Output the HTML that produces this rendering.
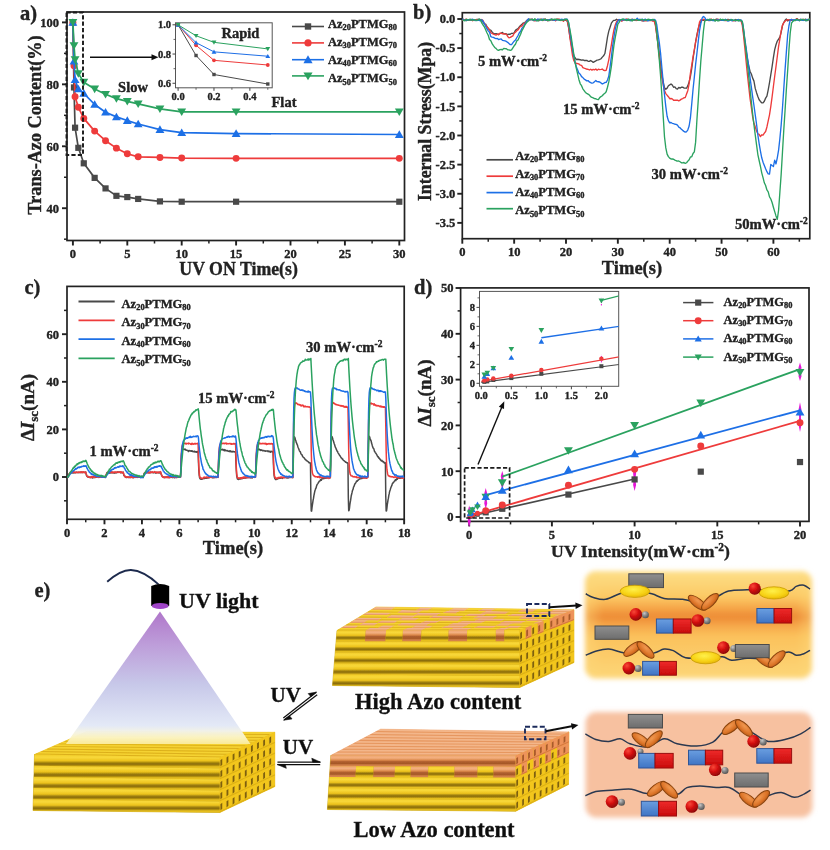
<!DOCTYPE html>
<html><head><meta charset="utf-8"><title>Figure</title>
<style>html,body{margin:0;padding:0;background:#fff}svg{display:block}text{font-family:"Liberation Serif",serif;font-weight:bold;stroke:#1c1c1c;stroke-width:.35px}</style>
</head><body>
<svg width="830" height="850" viewBox="0 0 830 850">
<defs><filter id="gblur" x="0" y="0" width="100%" height="100%" filterUnits="userSpaceOnUse"><feGaussianBlur stdDeviation="0.5"/></filter></defs>
<rect width="830" height="850" fill="#fff"/>
<g filter="url(#gblur)">
<rect x="67" y="12" width="337.5" height="228.5" fill="#fff" stroke="#222" stroke-width="1.7"/>
<line x1="62" y1="208.22" x2="67" y2="208.22" stroke="#222" stroke-width="1.9" />
<text x="59" y="212.52" font-size="12.5" text-anchor="end" fill="#222" >40</text>
<line x1="62" y1="146.28" x2="67" y2="146.28" stroke="#222" stroke-width="1.9" />
<text x="59" y="150.58" font-size="12.5" text-anchor="end" fill="#222" >60</text>
<line x1="62" y1="84.34" x2="67" y2="84.34" stroke="#222" stroke-width="1.9" />
<text x="59" y="88.64" font-size="12.5" text-anchor="end" fill="#222" >80</text>
<line x1="62" y1="22.4" x2="67" y2="22.4" stroke="#222" stroke-width="1.9" />
<text x="59" y="26.7" font-size="12.5" text-anchor="end" fill="#222" >100</text>
<line x1="64" y1="239.19" x2="67" y2="239.19" stroke="#222" stroke-width="1.5" />
<line x1="64" y1="177.25" x2="67" y2="177.25" stroke="#222" stroke-width="1.5" />
<line x1="64" y1="115.31" x2="67" y2="115.31" stroke="#222" stroke-width="1.5" />
<line x1="64" y1="53.37" x2="67" y2="53.37" stroke="#222" stroke-width="1.5" />
<line x1="72.9" y1="240.5" x2="72.9" y2="245.5" stroke="#222" stroke-width="1.9" />
<text x="72.9" y="257.7" font-size="12.5" text-anchor="middle" fill="#222" >0</text>
<line x1="127.3" y1="240.5" x2="127.3" y2="245.5" stroke="#222" stroke-width="1.9" />
<text x="127.3" y="257.7" font-size="12.5" text-anchor="middle" fill="#222" >5</text>
<line x1="181.7" y1="240.5" x2="181.7" y2="245.5" stroke="#222" stroke-width="1.9" />
<text x="181.7" y="257.7" font-size="12.5" text-anchor="middle" fill="#222" >10</text>
<line x1="236.1" y1="240.5" x2="236.1" y2="245.5" stroke="#222" stroke-width="1.9" />
<text x="236.1" y="257.7" font-size="12.5" text-anchor="middle" fill="#222" >15</text>
<line x1="290.5" y1="240.5" x2="290.5" y2="245.5" stroke="#222" stroke-width="1.9" />
<text x="290.5" y="257.7" font-size="12.5" text-anchor="middle" fill="#222" >20</text>
<line x1="344.9" y1="240.5" x2="344.9" y2="245.5" stroke="#222" stroke-width="1.9" />
<text x="344.9" y="257.7" font-size="12.5" text-anchor="middle" fill="#222" >25</text>
<line x1="399.3" y1="240.5" x2="399.3" y2="245.5" stroke="#222" stroke-width="1.9" />
<text x="399.3" y="257.7" font-size="12.5" text-anchor="middle" fill="#222" >30</text>
<line x1="100.1" y1="240.5" x2="100.1" y2="243.5" stroke="#222" stroke-width="1.5" />
<line x1="154.5" y1="240.5" x2="154.5" y2="243.5" stroke="#222" stroke-width="1.5" />
<line x1="208.9" y1="240.5" x2="208.9" y2="243.5" stroke="#222" stroke-width="1.5" />
<line x1="263.3" y1="240.5" x2="263.3" y2="243.5" stroke="#222" stroke-width="1.5" />
<line x1="317.7" y1="240.5" x2="317.7" y2="243.5" stroke="#222" stroke-width="1.5" />
<line x1="372.1" y1="240.5" x2="372.1" y2="243.5" stroke="#222" stroke-width="1.5" />
<text x="238.6" y="274.6" font-size="17.8" text-anchor="middle" fill="#222" >UV ON Time(s)</text>
<text transform="translate(40.5,125) rotate(-90)" font-size="18.2" text-anchor="middle" fill="#222">Trans-Azo Content(%)</text>
<text x="20" y="20" font-size="20.5" text-anchor="start" fill="#222" >a)</text>
<path d="M72.9 22.4 L73.99 87.44 L75.08 127.7 L78.34 147.83 L83.78 163.31 L94.66 177.87 L105.54 188.4 L116.42 195.83 L127.3 197.07 L138.18 198.93 L159.94 201.41 L181.7 201.72 L236.1 201.72 L399.3 201.72" fill="none" stroke="#4a4a4a" stroke-width="1.7" stroke-linejoin="round" stroke-linecap="round" />
<rect x="69.8" y="19.3" width="6.2" height="6.2" fill="#4a4a4a"/>
<rect x="70.89" y="84.34" width="6.2" height="6.2" fill="#4a4a4a"/>
<rect x="71.98" y="124.6" width="6.2" height="6.2" fill="#4a4a4a"/>
<rect x="75.24" y="144.73" width="6.2" height="6.2" fill="#4a4a4a"/>
<rect x="80.68" y="160.21" width="6.2" height="6.2" fill="#4a4a4a"/>
<rect x="91.56" y="174.77" width="6.2" height="6.2" fill="#4a4a4a"/>
<rect x="102.44" y="185.3" width="6.2" height="6.2" fill="#4a4a4a"/>
<rect x="113.32" y="192.73" width="6.2" height="6.2" fill="#4a4a4a"/>
<rect x="124.2" y="193.97" width="6.2" height="6.2" fill="#4a4a4a"/>
<rect x="135.08" y="195.83" width="6.2" height="6.2" fill="#4a4a4a"/>
<rect x="156.84" y="198.31" width="6.2" height="6.2" fill="#4a4a4a"/>
<rect x="178.6" y="198.62" width="6.2" height="6.2" fill="#4a4a4a"/>
<rect x="233" y="198.62" width="6.2" height="6.2" fill="#4a4a4a"/>
<rect x="396.2" y="198.62" width="6.2" height="6.2" fill="#4a4a4a"/>
<path d="M72.9 22.4 L73.99 65.76 L75.08 96.73 L78.34 107.26 L83.78 118.41 L94.66 131.1 L105.54 140.71 L116.42 148.14 L127.3 153.71 L138.18 156.81 L159.94 157.43 L181.7 158.05 L236.1 158.36 L399.3 158.36" fill="none" stroke="#ee3b3b" stroke-width="1.7" stroke-linejoin="round" stroke-linecap="round" />
<circle cx="72.9" cy="22.4" r="3.47" fill="#ee3b3b"/>
<circle cx="73.99" cy="65.76" r="3.47" fill="#ee3b3b"/>
<circle cx="75.08" cy="96.73" r="3.47" fill="#ee3b3b"/>
<circle cx="78.34" cy="107.26" r="3.47" fill="#ee3b3b"/>
<circle cx="83.78" cy="118.41" r="3.47" fill="#ee3b3b"/>
<circle cx="94.66" cy="131.1" r="3.47" fill="#ee3b3b"/>
<circle cx="105.54" cy="140.71" r="3.47" fill="#ee3b3b"/>
<circle cx="116.42" cy="148.14" r="3.47" fill="#ee3b3b"/>
<circle cx="127.3" cy="153.71" r="3.47" fill="#ee3b3b"/>
<circle cx="138.18" cy="156.81" r="3.47" fill="#ee3b3b"/>
<circle cx="159.94" cy="157.43" r="3.47" fill="#ee3b3b"/>
<circle cx="181.7" cy="158.05" r="3.47" fill="#ee3b3b"/>
<circle cx="236.1" cy="158.36" r="3.47" fill="#ee3b3b"/>
<circle cx="399.3" cy="158.36" r="3.47" fill="#ee3b3b"/>
<path d="M72.9 22.4 L73.99 61.11 L75.08 79.69 L78.34 88.99 L83.78 93.32 L94.66 104.47 L105.54 112.21 L116.42 116.86 L127.3 120.57 L138.18 123.98 L159.94 129.56 L181.7 132.65 L236.1 133.58 L399.3 134.51" fill="none" stroke="#1f6fe6" stroke-width="1.7" stroke-linejoin="round" stroke-linecap="round" />
<path d="M72.9 18.18 L77.33 25.77 L68.47 25.77Z" fill="#1f6fe6"/>
<path d="M73.99 56.9 L78.41 64.49 L69.56 64.49Z" fill="#1f6fe6"/>
<path d="M75.08 75.48 L79.5 83.07 L70.65 83.07Z" fill="#1f6fe6"/>
<path d="M78.34 84.77 L82.77 92.36 L73.91 92.36Z" fill="#1f6fe6"/>
<path d="M83.78 89.11 L88.21 96.69 L79.35 96.69Z" fill="#1f6fe6"/>
<path d="M94.66 100.25 L99.09 107.84 L90.23 107.84Z" fill="#1f6fe6"/>
<path d="M105.54 108 L109.97 115.59 L101.11 115.59Z" fill="#1f6fe6"/>
<path d="M116.42 112.64 L120.85 120.23 L111.99 120.23Z" fill="#1f6fe6"/>
<path d="M127.3 116.36 L131.73 123.95 L122.87 123.95Z" fill="#1f6fe6"/>
<path d="M138.18 119.77 L142.61 127.35 L133.75 127.35Z" fill="#1f6fe6"/>
<path d="M159.94 125.34 L164.37 132.93 L155.51 132.93Z" fill="#1f6fe6"/>
<path d="M181.7 128.44 L186.13 136.03 L177.27 136.03Z" fill="#1f6fe6"/>
<path d="M236.1 129.37 L240.53 136.96 L231.67 136.96Z" fill="#1f6fe6"/>
<path d="M399.3 130.3 L403.73 137.88 L394.87 137.88Z" fill="#1f6fe6"/>
<path d="M72.9 22.4 L73.99 45.63 L75.08 59.56 L78.34 73.5 L83.78 82.17 L94.66 88.99 L105.54 94.25 L116.42 98.59 L127.3 101.37 L138.18 103.85 L159.94 108.81 L181.7 111.9 L236.1 111.9 L399.3 111.9" fill="none" stroke="#2ba25f" stroke-width="1.7" stroke-linejoin="round" stroke-linecap="round" />
<path d="M72.9 26.62 L77.33 19.03 L68.47 19.03Z" fill="#2ba25f"/>
<path d="M73.99 49.84 L78.41 42.25 L69.56 42.25Z" fill="#2ba25f"/>
<path d="M75.08 63.78 L79.5 56.19 L70.65 56.19Z" fill="#2ba25f"/>
<path d="M78.34 77.72 L82.77 70.13 L73.91 70.13Z" fill="#2ba25f"/>
<path d="M83.78 86.39 L88.21 78.8 L79.35 78.8Z" fill="#2ba25f"/>
<path d="M94.66 93.2 L99.09 85.61 L90.23 85.61Z" fill="#2ba25f"/>
<path d="M105.54 98.47 L109.97 90.88 L101.11 90.88Z" fill="#2ba25f"/>
<path d="M116.42 102.8 L120.85 95.21 L111.99 95.21Z" fill="#2ba25f"/>
<path d="M127.3 105.59 L131.73 98 L122.87 98Z" fill="#2ba25f"/>
<path d="M138.18 108.07 L142.61 100.48 L133.75 100.48Z" fill="#2ba25f"/>
<path d="M159.94 113.02 L164.37 105.43 L155.51 105.43Z" fill="#2ba25f"/>
<path d="M181.7 116.12 L186.13 108.53 L177.27 108.53Z" fill="#2ba25f"/>
<path d="M236.1 116.12 L240.53 108.53 L231.67 108.53Z" fill="#2ba25f"/>
<path d="M399.3 116.12 L403.73 108.53 L394.87 108.53Z" fill="#2ba25f"/>
<rect x="66.5" y="12.5" width="16.5" height="142.5" fill="none" stroke="#1a1a1a" stroke-width="1.9" stroke-dasharray="4.2 2.2"/>
<line x1="90" y1="57.2" x2="154" y2="57.2" stroke="#111" stroke-width="1.5" />
<path d="M158.5 57.2 L151.5 54.2 L151.5 60.2Z" fill="#111"/>
<text x="133" y="92" font-size="14.5" text-anchor="middle" fill="#222" >Slow</text>
<text x="284" y="107" font-size="14.5" text-anchor="middle" fill="#222" >Flat</text>
<rect x="175.5" y="22.8" width="96.69999999999999" height="65.0" fill="#fff" stroke="#555" stroke-width="1"/>
<line x1="172.5" y1="24.8" x2="175.5" y2="24.8" stroke="#444" stroke-width="1" />
<text x="171" y="28.4" font-size="10.5" text-anchor="end" fill="#222" >1.0</text>
<line x1="172.5" y1="54.04" x2="175.5" y2="54.04" stroke="#444" stroke-width="1" />
<text x="171" y="57.64" font-size="10.5" text-anchor="end" fill="#222" >0.8</text>
<line x1="172.5" y1="83.28" x2="175.5" y2="83.28" stroke="#444" stroke-width="1" />
<text x="171" y="86.88" font-size="10.5" text-anchor="end" fill="#222" >0.6</text>
<line x1="178.1" y1="87.8" x2="178.1" y2="90.8" stroke="#444" stroke-width="1" />
<text x="178.1" y="100.3" font-size="10.5" text-anchor="middle" fill="#222" >0.0</text>
<line x1="213.98" y1="87.8" x2="213.98" y2="90.8" stroke="#444" stroke-width="1" />
<text x="213.98" y="100.3" font-size="10.5" text-anchor="middle" fill="#222" >0.2</text>
<line x1="249.86" y1="87.8" x2="249.86" y2="90.8" stroke="#444" stroke-width="1" />
<text x="249.86" y="100.3" font-size="10.5" text-anchor="middle" fill="#222" >0.4</text>
<line x1="196.04" y1="87.8" x2="196.04" y2="89.8" stroke="#444" stroke-width="0.8" />
<line x1="231.92" y1="87.8" x2="231.92" y2="89.8" stroke="#444" stroke-width="0.8" />
<line x1="267.8" y1="87.8" x2="267.8" y2="89.8" stroke="#444" stroke-width="0.8" />
<line x1="173.5" y1="68.66" x2="175.5" y2="68.66" stroke="#444" stroke-width="0.8" />
<line x1="173.5" y1="39.42" x2="175.5" y2="39.42" stroke="#444" stroke-width="0.8" />
<path d="M178.1 24.8 L196.04 55.5 L213.98 74.51 L267.8 84.01" fill="none" stroke="#4a4a4a" stroke-width="1.0" stroke-linejoin="round" stroke-linecap="round" />
<rect x="176.4" y="23.1" width="3.4" height="3.4" fill="#4a4a4a"/>
<rect x="194.34" y="53.8" width="3.4" height="3.4" fill="#4a4a4a"/>
<rect x="212.28" y="72.81" width="3.4" height="3.4" fill="#4a4a4a"/>
<rect x="266.1" y="82.31" width="3.4" height="3.4" fill="#4a4a4a"/>
<path d="M178.1 24.8 L196.04 45.27 L213.98 60.33 L267.8 65" fill="none" stroke="#ee3b3b" stroke-width="1.0" stroke-linejoin="round" stroke-linecap="round" />
<circle cx="178.1" cy="24.8" r="1.9" fill="#ee3b3b"/>
<circle cx="196.04" cy="45.27" r="1.9" fill="#ee3b3b"/>
<circle cx="213.98" cy="60.33" r="1.9" fill="#ee3b3b"/>
<circle cx="267.8" cy="65" r="1.9" fill="#ee3b3b"/>
<path d="M178.1 24.8 L196.04 42.64 L213.98 51.85 L267.8 56.23" fill="none" stroke="#1f6fe6" stroke-width="1.0" stroke-linejoin="round" stroke-linecap="round" />
<path d="M178.1 22.49 L180.53 26.65 L175.67 26.65Z" fill="#1f6fe6"/>
<path d="M196.04 40.32 L198.47 44.49 L193.61 44.49Z" fill="#1f6fe6"/>
<path d="M213.98 49.54 L216.41 53.7 L211.55 53.7Z" fill="#1f6fe6"/>
<path d="M267.8 53.92 L270.23 58.08 L265.37 58.08Z" fill="#1f6fe6"/>
<path d="M178.1 24.8 L196.04 35.76 L213.98 42.34 L267.8 48.92" fill="none" stroke="#2ba25f" stroke-width="1.0" stroke-linejoin="round" stroke-linecap="round" />
<path d="M178.1 27.11 L180.53 22.95 L175.67 22.95Z" fill="#2ba25f"/>
<path d="M196.04 38.08 L198.47 33.92 L193.61 33.92Z" fill="#2ba25f"/>
<path d="M213.98 44.66 L216.41 40.49 L211.55 40.49Z" fill="#2ba25f"/>
<path d="M267.8 51.23 L270.23 47.07 L265.37 47.07Z" fill="#2ba25f"/>
<text x="240.5" y="38.3" font-size="14.5" text-anchor="middle" fill="#222" >Rapid</text>
<line x1="292" y1="26.5" x2="324" y2="26.5" stroke="#4a4a4a" stroke-width="1.6" />
<rect x="304.8" y="23.3" width="6.4" height="6.4" fill="#4a4a4a"/>
<text x="328" y="27.9" font-size="12.5" fill="#222">Az<tspan font-size="8.4" dy="2.5">20</tspan><tspan dy="-2.5">PTMG</tspan><tspan font-size="8.4" dy="2.5">80</tspan></text>
<line x1="292" y1="42.9" x2="324" y2="42.9" stroke="#ee3b3b" stroke-width="1.6" />
<circle cx="308" cy="42.9" r="3.58" fill="#ee3b3b"/>
<text x="328" y="45.6" font-size="12.5" fill="#222">Az<tspan font-size="8.4" dy="2.5">30</tspan><tspan dy="-2.5">PTMG</tspan><tspan font-size="8.4" dy="2.5">70</tspan></text>
<line x1="292" y1="59.7" x2="324" y2="59.7" stroke="#1f6fe6" stroke-width="1.6" />
<path d="M308 55.35 L312.57 63.18 L303.43 63.18Z" fill="#1f6fe6"/>
<text x="328" y="63.8" font-size="12.5" fill="#222">Az<tspan font-size="8.4" dy="2.5">40</tspan><tspan dy="-2.5">PTMG</tspan><tspan font-size="8.4" dy="2.5">60</tspan></text>
<line x1="292" y1="75.9" x2="324" y2="75.9" stroke="#2ba25f" stroke-width="1.6" />
<path d="M308 80.25 L312.57 72.42 L303.43 72.42Z" fill="#2ba25f"/>
<text x="328" y="82.4" font-size="12.5" fill="#222">Az<tspan font-size="8.4" dy="2.5">50</tspan><tspan dy="-2.5">PTMG</tspan><tspan font-size="8.4" dy="2.5">50</tspan></text>
<rect x="462.3" y="12.7" width="347.49999999999994" height="226.0" fill="#fff" stroke="#222" stroke-width="1.7"/>
<line x1="457.3" y1="19" x2="462.3" y2="19" stroke="#222" stroke-width="1.9" />
<text x="455.3" y="23.2" font-size="12.5" text-anchor="end" fill="#222" >0.0</text>
<line x1="459.3" y1="33.56" x2="462.3" y2="33.56" stroke="#222" stroke-width="1.5" />
<line x1="457.3" y1="48.12" x2="462.3" y2="48.12" stroke="#222" stroke-width="1.9" />
<text x="455.3" y="52.33" font-size="12.5" text-anchor="end" fill="#222" >-0.5</text>
<line x1="459.3" y1="62.69" x2="462.3" y2="62.69" stroke="#222" stroke-width="1.5" />
<line x1="457.3" y1="77.25" x2="462.3" y2="77.25" stroke="#222" stroke-width="1.9" />
<text x="455.3" y="81.45" font-size="12.5" text-anchor="end" fill="#222" >-1.0</text>
<line x1="459.3" y1="91.81" x2="462.3" y2="91.81" stroke="#222" stroke-width="1.5" />
<line x1="457.3" y1="106.38" x2="462.3" y2="106.38" stroke="#222" stroke-width="1.9" />
<text x="455.3" y="110.58" font-size="12.5" text-anchor="end" fill="#222" >-1.5</text>
<line x1="459.3" y1="120.94" x2="462.3" y2="120.94" stroke="#222" stroke-width="1.5" />
<line x1="457.3" y1="135.5" x2="462.3" y2="135.5" stroke="#222" stroke-width="1.9" />
<text x="455.3" y="139.7" font-size="12.5" text-anchor="end" fill="#222" >-2.0</text>
<line x1="459.3" y1="150.06" x2="462.3" y2="150.06" stroke="#222" stroke-width="1.5" />
<line x1="457.3" y1="164.62" x2="462.3" y2="164.62" stroke="#222" stroke-width="1.9" />
<text x="455.3" y="168.82" font-size="12.5" text-anchor="end" fill="#222" >-2.5</text>
<line x1="459.3" y1="179.19" x2="462.3" y2="179.19" stroke="#222" stroke-width="1.5" />
<line x1="457.3" y1="193.75" x2="462.3" y2="193.75" stroke="#222" stroke-width="1.9" />
<text x="455.3" y="197.95" font-size="12.5" text-anchor="end" fill="#222" >-3.0</text>
<line x1="459.3" y1="208.31" x2="462.3" y2="208.31" stroke="#222" stroke-width="1.5" />
<line x1="457.3" y1="222.88" x2="462.3" y2="222.88" stroke="#222" stroke-width="1.9" />
<text x="455.3" y="227.07" font-size="12.5" text-anchor="end" fill="#222" >-3.5</text>
<line x1="462.3" y1="238.7" x2="462.3" y2="243.7" stroke="#222" stroke-width="1.9" />
<text x="462.3" y="255.9" font-size="12.5" text-anchor="middle" fill="#222" >0</text>
<line x1="488.23" y1="238.7" x2="488.23" y2="241.7" stroke="#222" stroke-width="1.5" />
<line x1="514.15" y1="238.7" x2="514.15" y2="243.7" stroke="#222" stroke-width="1.9" />
<text x="514.15" y="255.9" font-size="12.5" text-anchor="middle" fill="#222" >10</text>
<line x1="540.08" y1="238.7" x2="540.08" y2="241.7" stroke="#222" stroke-width="1.5" />
<line x1="566" y1="238.7" x2="566" y2="243.7" stroke="#222" stroke-width="1.9" />
<text x="566" y="255.9" font-size="12.5" text-anchor="middle" fill="#222" >20</text>
<line x1="591.92" y1="238.7" x2="591.92" y2="241.7" stroke="#222" stroke-width="1.5" />
<line x1="617.85" y1="238.7" x2="617.85" y2="243.7" stroke="#222" stroke-width="1.9" />
<text x="617.85" y="255.9" font-size="12.5" text-anchor="middle" fill="#222" >30</text>
<line x1="643.77" y1="238.7" x2="643.77" y2="241.7" stroke="#222" stroke-width="1.5" />
<line x1="669.7" y1="238.7" x2="669.7" y2="243.7" stroke="#222" stroke-width="1.9" />
<text x="669.7" y="255.9" font-size="12.5" text-anchor="middle" fill="#222" >40</text>
<line x1="695.62" y1="238.7" x2="695.62" y2="241.7" stroke="#222" stroke-width="1.5" />
<line x1="721.55" y1="238.7" x2="721.55" y2="243.7" stroke="#222" stroke-width="1.9" />
<text x="721.55" y="255.9" font-size="12.5" text-anchor="middle" fill="#222" >50</text>
<line x1="747.47" y1="238.7" x2="747.47" y2="241.7" stroke="#222" stroke-width="1.5" />
<line x1="773.4" y1="238.7" x2="773.4" y2="243.7" stroke="#222" stroke-width="1.9" />
<text x="773.4" y="255.9" font-size="12.5" text-anchor="middle" fill="#222" >60</text>
<line x1="799.33" y1="238.7" x2="799.33" y2="241.7" stroke="#222" stroke-width="1.5" />
<text x="632" y="274" font-size="18.5" text-anchor="middle" fill="#222" >Time(s)</text>
<text transform="translate(430.5,121.5) rotate(-90)" font-size="17.8" text-anchor="middle" fill="#222">Internal Stress(Mpa)</text>
<text x="413" y="19" font-size="20.5" text-anchor="start" fill="#222" >b)</text>
<clipPath id="cb"><rect x="462.3" y="8.7" width="347.49999999999994" height="230.0"/></clipPath><g clip-path="url(#cb)">
<path d="M462.3 19.04 L463.6 19.67 L464.89 19.83 L466.19 20.74 L467.49 20 L468.78 20.04 L470.08 19.91 L471.37 20.17 L472.67 19.89 L473.97 20.1 L475.26 20.49 L476.56 19.46 L477.86 19.46 L479.15 19.08 L480.45 19.92 L481.74 20.79 L483.04 22.02 L484.34 23.88 L485.63 24.08 L486.93 26.58 L488.23 28.43 L489.52 29.71 L490.82 30.25 L492.11 31.85 L493.41 33.38 L494.71 33.92 L496 33.56 L497.3 33.89 L498.6 34.06 L499.89 33.67 L501.19 33.08 L502.48 32.39 L503.78 33.85 L505.08 33.61 L506.37 33.8 L507.67 34.69 L508.97 34.13 L510.26 34.29 L511.56 33.33 L512.85 33.44 L514.15 32.94 L515.45 30.35 L516.74 29.3 L518.04 28.67 L519.34 26.81 L520.63 25.48 L521.93 24.38 L523.22 22.94 L524.52 23.17 L525.82 21.42 L527.11 20.1 L528.41 19.67 L529.71 19.36 L531 19.35 L532.3 19.18 L533.59 20.39 L534.89 19.48 L536.19 20.74 L537.48 20.15 L538.78 20.77 L540.08 19.39 L541.37 19.25 L542.67 19.97 L543.96 19.05 L545.26 20.19 L546.56 19.8 L547.85 19.8 L549.15 20.37 L550.45 19.67 L551.74 18.97 L553.04 20.35 L554.33 19.45 L555.63 19.95 L556.93 19.05 L558.22 19.65 L559.52 19.56 L560.82 19.57 L562.11 19.76 L563.41 20.52 L564.7 19.23 L566 20.51 L567.3 21.18 L568.59 27.66 L569.89 36.37 L571.18 43.34 L572.48 50.83 L573.78 56 L575.07 57.75 L576.37 59.6 L577.67 59.27 L578.96 59.47 L580.26 59.75 L581.56 60.21 L582.85 59.82 L584.15 60.47 L585.44 60.47 L586.74 60.33 L588.04 61.33 L589.33 61.4 L590.63 60.54 L591.92 61.35 L593.22 62.41 L594.52 61.66 L595.81 60.94 L597.11 60.05 L598.41 59.87 L599.7 59.45 L601 58.77 L602.29 57.13 L603.59 55.85 L604.89 53.54 L606.18 45.71 L607.48 37.13 L608.78 31.11 L610.07 27.18 L611.37 23.19 L612.66 21.28 L613.96 20.33 L615.26 20.32 L616.55 19.25 L617.85 20.19 L619.15 19.68 L620.44 20.23 L621.74 20.7 L623.03 19.79 L624.33 19.77 L625.63 19.95 L626.92 19.79 L628.22 20.24 L629.52 20.29 L630.81 20.04 L632.11 19.09 L633.4 19.62 L634.7 20.26 L636 19.78 L637.29 20.28 L638.59 20.29 L639.89 19.7 L641.18 20.37 L642.48 20.94 L643.77 20.61 L645.07 20.17 L646.37 20.18 L647.66 19.7 L648.96 20.64 L650.26 20 L651.55 20.18 L652.85 20.49 L654.14 20.07 L655.44 24.28 L656.74 34.22 L658.03 43.74 L659.33 54.72 L660.63 65.33 L661.92 75.2 L663.22 81.79 L664.51 87.78 L665.81 89.17 L667.11 88.12 L668.4 85.71 L669.7 84.86 L671 83.95 L672.29 85.08 L673.59 87.23 L674.88 86.88 L676.18 88.63 L677.48 89.09 L678.77 87.37 L680.07 88.16 L681.37 87.28 L682.66 87.12 L683.96 88.04 L685.25 88.15 L686.55 88.2 L687.85 85.64 L689.14 81.87 L690.44 76.44 L691.74 68.31 L693.03 58.73 L694.33 50.24 L695.62 41.99 L696.92 34.79 L698.22 28.98 L699.51 24.45 L700.81 21.9 L702.11 20.32 L703.4 20.35 L704.7 19.75 L706 19.58 L707.29 20.15 L708.59 20.17 L709.88 20.62 L711.18 19.97 L712.48 19.8 L713.77 19.72 L715.07 20.3 L716.37 19.03 L717.66 19.41 L718.96 20.03 L720.25 20.25 L721.55 20.17 L722.85 19.97 L724.14 20.07 L725.44 19.86 L726.74 19.75 L728.03 19.49 L729.33 19.62 L730.62 20.24 L731.92 20.03 L733.22 20.42 L734.51 20.55 L735.81 19.42 L737.11 20.55 L738.4 19.45 L739.7 20.57 L740.99 20.33 L742.29 22.83 L743.59 32.28 L744.88 42.47 L746.18 50.93 L747.47 59.07 L748.77 66.09 L750.07 71.49 L751.36 74.07 L752.66 78.14 L753.96 81.11 L755.25 88.42 L756.55 92.66 L757.85 96.5 L759.14 99.73 L760.44 101.43 L761.73 102.83 L763.03 102.93 L764.33 101.25 L765.62 98.12 L766.92 96.17 L768.21 89.84 L769.51 82.68 L770.81 74.7 L772.1 66.55 L773.4 57.55 L774.7 49.59 L775.99 44.78 L777.29 41.04 L778.59 39.18 L779.88 37.05 L781.18 32.14 L782.47 25.51 L783.77 22.5 L785.07 20.33 L786.36 19.07 L787.66 20.97 L788.95 20.14 L790.25 19.75 L791.55 20.3 L792.84 19.95 L794.14 20.17 L795.44 20.18 L796.73 18.61 L798.03 19.58 L799.33 19.9 L800.62 19.26 L801.92 19.98 L803.21 19.46 L804.51 19.71 L805.81 19.12 L807.1 20.54 L808.4 19.52 L809.69 19.82" fill="none" stroke="#4a4a4a" stroke-width="1.35" stroke-linejoin="round" stroke-linecap="round" />
<path d="M462.3 20.41 L463.6 19.38 L464.89 20.28 L466.19 19.12 L467.49 19.63 L468.78 19.55 L470.08 19.84 L471.37 19.45 L472.67 20.74 L473.97 19.84 L475.26 20.17 L476.56 19.74 L477.86 19.9 L479.15 19.59 L480.45 20.26 L481.74 19.52 L483.04 20.56 L484.34 23.42 L485.63 25.07 L486.93 26.59 L488.23 28.17 L489.52 29.9 L490.82 32.88 L492.11 33.38 L493.41 34.2 L494.71 34.69 L496 35.18 L497.3 34.23 L498.6 34.75 L499.89 33.22 L501.19 33.19 L502.48 33.85 L503.78 33.75 L505.08 34.01 L506.37 34.15 L507.67 36.45 L508.97 37.74 L510.26 37.35 L511.56 36.56 L512.85 35.83 L514.15 33.22 L515.45 32.27 L516.74 30.76 L518.04 29.86 L519.34 27.89 L520.63 26.4 L521.93 26.05 L523.22 23.74 L524.52 23.58 L525.82 21.68 L527.11 21.43 L528.41 19.17 L529.71 19.72 L531 19.47 L532.3 19.45 L533.59 20.49 L534.89 20.94 L536.19 20.03 L537.48 19.46 L538.78 19.83 L540.08 19.51 L541.37 19.44 L542.67 20.57 L543.96 19.74 L545.26 18.96 L546.56 20.14 L547.85 20.82 L549.15 19.98 L550.45 20.09 L551.74 19.68 L553.04 20.29 L554.33 19.83 L555.63 20.91 L556.93 19.48 L558.22 19.13 L559.52 19.27 L560.82 20.58 L562.11 19.73 L563.41 21.26 L564.7 19.74 L566 19.9 L567.3 20.57 L568.59 26.6 L569.89 37.48 L571.18 46.1 L572.48 55.37 L573.78 60.54 L575.07 62.81 L576.37 63.27 L577.67 63.61 L578.96 64.01 L580.26 65.12 L581.56 65.47 L582.85 67.61 L584.15 68.2 L585.44 68.6 L586.74 69.21 L588.04 69.21 L589.33 69.98 L590.63 69.24 L591.92 70.12 L593.22 69.41 L594.52 69.83 L595.81 68.98 L597.11 70.19 L598.41 69.19 L599.7 69.59 L601 69.34 L602.29 69.05 L603.59 70.32 L604.89 70.54 L606.18 70.3 L607.48 65.71 L608.78 59.79 L610.07 52.09 L611.37 44.82 L612.66 36.61 L613.96 29.73 L615.26 24.92 L616.55 21.71 L617.85 20.1 L619.15 19.89 L620.44 20.01 L621.74 21.13 L623.03 20.1 L624.33 19.87 L625.63 19.42 L626.92 18.99 L628.22 19.66 L629.52 19.96 L630.81 20.47 L632.11 20.01 L633.4 19.73 L634.7 19.54 L636 20.58 L637.29 20.1 L638.59 19.88 L639.89 19.44 L641.18 20.24 L642.48 20.66 L643.77 20.79 L645.07 20.7 L646.37 20.9 L647.66 20.28 L648.96 20.23 L650.26 20.47 L651.55 20.32 L652.85 21.17 L654.14 20.86 L655.44 25.6 L656.74 35.03 L658.03 44.53 L659.33 56.56 L660.63 69.53 L661.92 78.24 L663.22 84.99 L664.51 90.55 L665.81 93.59 L667.11 95.2 L668.4 96.72 L669.7 98.74 L671 98.52 L672.29 98.86 L673.59 100.3 L674.88 100.05 L676.18 100.22 L677.48 100.18 L678.77 100.92 L680.07 100.12 L681.37 99.12 L682.66 98.58 L683.96 97.77 L685.25 97.61 L686.55 93.92 L687.85 90.44 L689.14 83.66 L690.44 73.12 L691.74 65.09 L693.03 56.98 L694.33 49.75 L695.62 42.02 L696.92 35.94 L698.22 29.03 L699.51 22.14 L700.81 19.75 L702.11 20.07 L703.4 19.28 L704.7 20.07 L706 20.18 L707.29 20.14 L708.59 20.58 L709.88 20.16 L711.18 19.04 L712.48 20.35 L713.77 19.93 L715.07 20.46 L716.37 20.25 L717.66 19.27 L718.96 19.57 L720.25 20.29 L721.55 20.02 L722.85 20.43 L724.14 20.43 L725.44 20.52 L726.74 20.53 L728.03 19.99 L729.33 19.89 L730.62 19.96 L731.92 20.3 L733.22 20.88 L734.51 20.31 L735.81 20.74 L737.11 19.93 L738.4 20.12 L739.7 20.06 L740.99 20.61 L742.29 25.12 L743.59 35.56 L744.88 48.43 L746.18 62.25 L747.47 75.08 L748.77 87.05 L750.07 98.68 L751.36 107.36 L752.66 116.88 L753.96 123.33 L755.25 126.85 L756.55 131.01 L757.85 133.77 L759.14 134.45 L760.44 136.62 L761.73 134.79 L763.03 135.15 L764.33 133.2 L765.62 131.52 L766.92 126.98 L768.21 120.83 L769.51 114.84 L770.81 106.29 L772.1 96.95 L773.4 86.54 L774.7 76.29 L775.99 66.63 L777.29 56.48 L778.59 46.3 L779.88 38.85 L781.18 30.99 L782.47 25.42 L783.77 22.79 L785.07 21.17 L786.36 20.19 L787.66 19.75 L788.95 19.87 L790.25 20.26 L791.55 19.4 L792.84 20.69 L794.14 20.46 L795.44 19.81 L796.73 18.85 L798.03 19.68 L799.33 20.34 L800.62 19.6 L801.92 19.56 L803.21 19.44 L804.51 20.06 L805.81 20.25 L807.1 19.82 L808.4 19.68 L809.69 19.13" fill="none" stroke="#ee3b3b" stroke-width="1.35" stroke-linejoin="round" stroke-linecap="round" />
<path d="M462.3 18.9 L463.6 20.22 L464.89 20.12 L466.19 19.9 L467.49 19.99 L468.78 19.65 L470.08 19.65 L471.37 19.75 L472.67 19.25 L473.97 19.95 L475.26 20.36 L476.56 20.6 L477.86 20.35 L479.15 20.36 L480.45 20.75 L481.74 19.81 L483.04 21.35 L484.34 23.7 L485.63 26.32 L486.93 28.94 L488.23 30.89 L489.52 32.27 L490.82 36.63 L492.11 37.13 L493.41 37.44 L494.71 38.14 L496 38.67 L497.3 38.44 L498.6 39.61 L499.89 39.12 L501.19 38.96 L502.48 40.39 L503.78 40.64 L505.08 40.87 L506.37 41.47 L507.67 42.37 L508.97 43.56 L510.26 44.64 L511.56 44.55 L512.85 42.82 L514.15 41.16 L515.45 40.07 L516.74 37.77 L518.04 35.49 L519.34 32.73 L520.63 31.24 L521.93 28.35 L523.22 27.11 L524.52 24.67 L525.82 22.61 L527.11 20.41 L528.41 18.81 L529.71 19.87 L531 19.64 L532.3 19.4 L533.59 20.51 L534.89 19.52 L536.19 20.45 L537.48 19.11 L538.78 19.2 L540.08 19.64 L541.37 20.25 L542.67 19.1 L543.96 19.75 L545.26 19.82 L546.56 19.6 L547.85 20.67 L549.15 19.67 L550.45 19.41 L551.74 19.72 L553.04 19.81 L554.33 20.32 L555.63 19.57 L556.93 19.78 L558.22 19.87 L559.52 20.14 L560.82 19.47 L562.11 19.29 L563.41 19.69 L564.7 19.46 L566 19.26 L567.3 19.13 L568.59 22.62 L569.89 31.41 L571.18 40.45 L572.48 48.21 L573.78 56.03 L575.07 62.22 L576.37 66.89 L577.67 69.97 L578.96 73.23 L580.26 74.28 L581.56 76.63 L582.85 77.58 L584.15 79.15 L585.44 79.85 L586.74 80.85 L588.04 80.56 L589.33 81.91 L590.63 82.67 L591.92 83.23 L593.22 82.8 L594.52 81.64 L595.81 80.53 L597.11 81.7 L598.41 81.72 L599.7 81.99 L601 82.92 L602.29 83.97 L603.59 83.34 L604.89 82.49 L606.18 82.44 L607.48 79.96 L608.78 76.09 L610.07 66.83 L611.37 56.86 L612.66 46.1 L613.96 36.9 L615.26 29.4 L616.55 23.84 L617.85 21.43 L619.15 19.46 L620.44 20.46 L621.74 19.51 L623.03 20.15 L624.33 19.35 L625.63 19.53 L626.92 19.67 L628.22 19.85 L629.52 19.37 L630.81 20.71 L632.11 19.67 L633.4 19.68 L634.7 19.61 L636 19.49 L637.29 18.15 L638.59 19.82 L639.89 19.5 L641.18 19.8 L642.48 19.14 L643.77 20.82 L645.07 19.08 L646.37 20.19 L647.66 20.93 L648.96 20.38 L650.26 19.96 L651.55 19.78 L652.85 19.9 L654.14 19.49 L655.44 20.04 L656.74 24.67 L658.03 34.39 L659.33 42.95 L660.63 53.95 L661.92 68.2 L663.22 82.35 L664.51 95.03 L665.81 106.57 L667.11 116.27 L668.4 120.62 L669.7 122.78 L671 122.47 L672.29 123.28 L673.59 123.62 L674.88 124.26 L676.18 124.42 L677.48 125.16 L678.77 127.09 L680.07 127.81 L681.37 129.21 L682.66 130.35 L683.96 131.34 L685.25 132.09 L686.55 131.75 L687.85 129.79 L689.14 125.99 L690.44 117.69 L691.74 103.93 L693.03 89.55 L694.33 77.1 L695.62 64.34 L696.92 53.28 L698.22 41.68 L699.51 30.64 L700.81 23.64 L702.11 18.2 L703.4 16.49 L704.7 17.23 L706 20.34 L707.29 19.39 L708.59 20.39 L709.88 20.21 L711.18 19.74 L712.48 20.5 L713.77 20.51 L715.07 20.6 L716.37 20.14 L717.66 19.83 L718.96 19.93 L720.25 19.94 L721.55 20.3 L722.85 20.09 L724.14 20.49 L725.44 19.24 L726.74 20.1 L728.03 21.11 L729.33 20.71 L730.62 19.48 L731.92 20.88 L733.22 20.46 L734.51 20.09 L735.81 20.81 L737.11 19.83 L738.4 19.58 L739.7 20.78 L740.99 19.91 L742.29 21.71 L743.59 29.24 L744.88 39.24 L746.18 48.43 L747.47 58.18 L748.77 67.16 L750.07 77.91 L751.36 87.14 L752.66 96.83 L753.96 105.52 L755.25 114.86 L756.55 124.23 L757.85 134.9 L759.14 143.55 L760.44 151.18 L761.73 157.8 L763.03 162.17 L764.33 165.48 L765.62 168.72 L766.92 171.66 L768.21 173.83 L769.51 174.14 L770.81 164.43 L772.1 165.55 L773.4 166.55 L774.7 160.09 L775.99 163.94 L777.29 157.82 L778.59 150.1 L779.88 138.65 L781.18 124.83 L782.47 108.02 L783.77 88.86 L785.07 69.67 L786.36 52.1 L787.66 34.99 L788.95 25.74 L790.25 19.91 L791.55 19.46 L792.84 20.41 L794.14 19.8 L795.44 19.76 L796.73 20.03 L798.03 20.1 L799.33 20.74 L800.62 19.34 L801.92 20.31 L803.21 20.45 L804.51 19.57 L805.81 20.73 L807.1 19.42 L808.4 19.67 L809.69 19.6" fill="none" stroke="#1f6fe6" stroke-width="1.35" stroke-linejoin="round" stroke-linecap="round" />
<path d="M462.3 19.95 L463.6 20.44 L464.89 20.75 L466.19 19.19 L467.49 20.09 L468.78 20.11 L470.08 19.14 L471.37 20.17 L472.67 19.98 L473.97 19.98 L475.26 19.94 L476.56 20.36 L477.86 20.13 L479.15 19.27 L480.45 19.67 L481.74 22.93 L483.04 25.01 L484.34 26.84 L485.63 29.71 L486.93 32.77 L488.23 35.23 L489.52 39.52 L490.82 40.69 L492.11 43.63 L493.41 45.63 L494.71 47.46 L496 48.39 L497.3 49.87 L498.6 50.42 L499.89 49.62 L501.19 49.5 L502.48 49.77 L503.78 48.37 L505.08 48.57 L506.37 48.77 L507.67 49.76 L508.97 49.91 L510.26 50.32 L511.56 49.82 L512.85 47.78 L514.15 45.8 L515.45 44.27 L516.74 40.9 L518.04 39.95 L519.34 36.9 L520.63 34.24 L521.93 30.54 L523.22 28.35 L524.52 25.63 L525.82 23.62 L527.11 22 L528.41 21.02 L529.71 19.4 L531 19.59 L532.3 19.41 L533.59 20.18 L534.89 18.7 L536.19 20.33 L537.48 20.83 L538.78 20.01 L540.08 19.81 L541.37 19.52 L542.67 20.35 L543.96 19.6 L545.26 19.08 L546.56 20.27 L547.85 20.22 L549.15 20.67 L550.45 19.76 L551.74 19.47 L553.04 19.52 L554.33 19.49 L555.63 19.21 L556.93 19.81 L558.22 19.43 L559.52 20.32 L560.82 20.24 L562.11 19.76 L563.41 20.25 L564.7 19.61 L566 19.23 L567.3 19.69 L568.59 22.53 L569.89 29.68 L571.18 36.71 L572.48 45.74 L573.78 54.15 L575.07 62.32 L576.37 68.67 L577.67 74.05 L578.96 79.7 L580.26 83.82 L581.56 85.65 L582.85 88.85 L584.15 90.6 L585.44 92.44 L586.74 93.32 L588.04 94.13 L589.33 94.96 L590.63 96.57 L591.92 97.45 L593.22 97.87 L594.52 98.57 L595.81 98.76 L597.11 99.38 L598.41 99.68 L599.7 97.62 L601 96.57 L602.29 95.75 L603.59 94.21 L604.89 93.18 L606.18 91.81 L607.48 87.25 L608.78 81.95 L610.07 74.63 L611.37 66.4 L612.66 55.52 L613.96 45.21 L615.26 37.29 L616.55 30.79 L617.85 24.24 L619.15 22.32 L620.44 19.78 L621.74 19.41 L623.03 18.92 L624.33 19.7 L625.63 20.21 L626.92 20.61 L628.22 18.97 L629.52 20.54 L630.81 19.46 L632.11 20.95 L633.4 19.9 L634.7 19.56 L636 19.72 L637.29 19.89 L638.59 20.26 L639.89 20.3 L641.18 19.4 L642.48 19.67 L643.77 19.95 L645.07 19.78 L646.37 20.31 L647.66 19.4 L648.96 19.29 L650.26 20.24 L651.55 19.83 L652.85 19.39 L654.14 20.17 L655.44 21.07 L656.74 31.82 L658.03 46.5 L659.33 60.08 L660.63 76.77 L661.92 96.18 L663.22 116.52 L664.51 137.04 L665.81 147.93 L667.11 154.12 L668.4 156.65 L669.7 158.16 L671 158.98 L672.29 158.97 L673.59 159.26 L674.88 160.16 L676.18 160.76 L677.48 161.19 L678.77 161.02 L680.07 161.76 L681.37 162.74 L682.66 162.9 L683.96 162.49 L685.25 163.44 L686.55 162.76 L687.85 161.11 L689.14 159.7 L690.44 156.92 L691.74 156.86 L693.03 153.5 L694.33 151.83 L695.62 142.15 L696.92 119.68 L698.22 100.59 L699.51 80.14 L700.81 61.4 L702.11 46.35 L703.4 31.35 L704.7 21.16 L706 20.49 L707.29 19.86 L708.59 19.71 L709.88 19.15 L711.18 20.12 L712.48 19.87 L713.77 19.37 L715.07 21.1 L716.37 20.04 L717.66 20.82 L718.96 20.8 L720.25 19.05 L721.55 19.88 L722.85 19.3 L724.14 20.13 L725.44 19.79 L726.74 20.26 L728.03 20.34 L729.33 20.15 L730.62 20.08 L731.92 19.46 L733.22 20.3 L734.51 20.06 L735.81 20.39 L737.11 20.24 L738.4 20.96 L739.7 19.88 L740.99 20.67 L742.29 21.36 L743.59 29.73 L744.88 41.14 L746.18 52.43 L747.47 64.72 L748.77 77.3 L750.07 89.61 L751.36 101.71 L752.66 114.08 L753.96 124.99 L755.25 134.86 L756.55 144.91 L757.85 154.52 L759.14 160.49 L760.44 166.34 L761.73 172.86 L763.03 177.67 L764.33 182.8 L765.62 185.52 L766.92 189.97 L768.21 191.84 L769.51 196.91 L770.81 198.99 L772.1 202.47 L773.4 207.21 L774.7 211.66 L775.99 215.89 L777.29 219.33 L778.59 210.27 L779.88 192.26 L781.18 174.08 L782.47 152.27 L783.77 130.18 L785.07 110.17 L786.36 89.55 L787.66 70.54 L788.95 50.01 L790.25 32.63 L791.55 22.99 L792.84 21.4 L794.14 20.3 L795.44 20.61 L796.73 19.4 L798.03 19.75 L799.33 20.49 L800.62 20.14 L801.92 19.25 L803.21 19.91 L804.51 19.62 L805.81 20.58 L807.1 20.58 L808.4 19.61 L809.69 18.81" fill="none" stroke="#2ba25f" stroke-width="1.35" stroke-linejoin="round" stroke-linecap="round" />
</g>
<text x="478" y="65.5" font-size="14.6" fill="#222" text-anchor="start">5 mW·cm<tspan font-size="9.5" dy="-5">-2</tspan></text>
<text x="563" y="114" font-size="14.6" fill="#222" text-anchor="start">15 mW·cm<tspan font-size="9.5" dy="-5">-2</tspan></text>
<text x="651.5" y="179" font-size="14.6" fill="#222" text-anchor="start">30 mW·cm<tspan font-size="9.5" dy="-5">-2</tspan></text>
<text x="735" y="228.5" font-size="14.6" fill="#222" text-anchor="start">50mW·cm<tspan font-size="9.5" dy="-5">-2</tspan></text>
<line x1="486.5" y1="159.8" x2="513" y2="159.8" stroke="#4a4a4a" stroke-width="1.7" />
<text x="515.2" y="159.9" font-size="12.6" fill="#222">Az<tspan font-size="8.4" dy="2.5">20</tspan><tspan dy="-2.5">PTMG</tspan><tspan font-size="8.4" dy="2.5">80</tspan></text>
<line x1="486.5" y1="176.2" x2="513" y2="176.2" stroke="#ee3b3b" stroke-width="1.7" />
<text x="515.2" y="177.6" font-size="12.6" fill="#222">Az<tspan font-size="8.4" dy="2.5">30</tspan><tspan dy="-2.5">PTMG</tspan><tspan font-size="8.4" dy="2.5">70</tspan></text>
<line x1="486.5" y1="192.6" x2="513" y2="192.6" stroke="#1f6fe6" stroke-width="1.7" />
<text x="515.2" y="195.8" font-size="12.6" fill="#222">Az<tspan font-size="8.4" dy="2.5">40</tspan><tspan dy="-2.5">PTMG</tspan><tspan font-size="8.4" dy="2.5">60</tspan></text>
<line x1="486.5" y1="208.7" x2="513" y2="208.7" stroke="#2ba25f" stroke-width="1.7" />
<text x="515.2" y="214.4" font-size="12.6" fill="#222">Az<tspan font-size="8.4" dy="2.5">50</tspan><tspan dy="-2.5">PTMG</tspan><tspan font-size="8.4" dy="2.5">50</tspan></text>
<rect x="67" y="286.4" width="337.2" height="232.89999999999998" fill="#fff" stroke="#222" stroke-width="1.7"/>
<line x1="62" y1="477" x2="67" y2="477" stroke="#222" stroke-width="1.9" />
<text x="59" y="481.3" font-size="12.5" text-anchor="end" fill="#222" >0</text>
<line x1="62" y1="429.4" x2="67" y2="429.4" stroke="#222" stroke-width="1.9" />
<text x="59" y="433.7" font-size="12.5" text-anchor="end" fill="#222" >20</text>
<line x1="62" y1="381.8" x2="67" y2="381.8" stroke="#222" stroke-width="1.9" />
<text x="59" y="386.1" font-size="12.5" text-anchor="end" fill="#222" >40</text>
<line x1="62" y1="334.2" x2="67" y2="334.2" stroke="#222" stroke-width="1.9" />
<text x="59" y="338.5" font-size="12.5" text-anchor="end" fill="#222" >60</text>
<line x1="64" y1="500.8" x2="67" y2="500.8" stroke="#222" stroke-width="1.5" />
<line x1="64" y1="453.2" x2="67" y2="453.2" stroke="#222" stroke-width="1.5" />
<line x1="64" y1="405.6" x2="67" y2="405.6" stroke="#222" stroke-width="1.5" />
<line x1="64" y1="358" x2="67" y2="358" stroke="#222" stroke-width="1.5" />
<line x1="64" y1="310.4" x2="67" y2="310.4" stroke="#222" stroke-width="1.5" />
<line x1="67" y1="519.3" x2="67" y2="524.3" stroke="#222" stroke-width="1.9" />
<text x="67" y="536.5" font-size="12.5" text-anchor="middle" fill="#222" >0</text>
<line x1="85.73" y1="519.3" x2="85.73" y2="522.3" stroke="#222" stroke-width="1.5" />
<line x1="104.46" y1="519.3" x2="104.46" y2="524.3" stroke="#222" stroke-width="1.9" />
<text x="104.46" y="536.5" font-size="12.5" text-anchor="middle" fill="#222" >2</text>
<line x1="123.19" y1="519.3" x2="123.19" y2="522.3" stroke="#222" stroke-width="1.5" />
<line x1="141.92" y1="519.3" x2="141.92" y2="524.3" stroke="#222" stroke-width="1.9" />
<text x="141.92" y="536.5" font-size="12.5" text-anchor="middle" fill="#222" >4</text>
<line x1="160.65" y1="519.3" x2="160.65" y2="522.3" stroke="#222" stroke-width="1.5" />
<line x1="179.38" y1="519.3" x2="179.38" y2="524.3" stroke="#222" stroke-width="1.9" />
<text x="179.38" y="536.5" font-size="12.5" text-anchor="middle" fill="#222" >6</text>
<line x1="198.11" y1="519.3" x2="198.11" y2="522.3" stroke="#222" stroke-width="1.5" />
<line x1="216.84" y1="519.3" x2="216.84" y2="524.3" stroke="#222" stroke-width="1.9" />
<text x="216.84" y="536.5" font-size="12.5" text-anchor="middle" fill="#222" >8</text>
<line x1="235.57" y1="519.3" x2="235.57" y2="522.3" stroke="#222" stroke-width="1.5" />
<line x1="254.3" y1="519.3" x2="254.3" y2="524.3" stroke="#222" stroke-width="1.9" />
<text x="254.3" y="536.5" font-size="12.5" text-anchor="middle" fill="#222" >10</text>
<line x1="273.03" y1="519.3" x2="273.03" y2="522.3" stroke="#222" stroke-width="1.5" />
<line x1="291.76" y1="519.3" x2="291.76" y2="524.3" stroke="#222" stroke-width="1.9" />
<text x="291.76" y="536.5" font-size="12.5" text-anchor="middle" fill="#222" >12</text>
<line x1="310.49" y1="519.3" x2="310.49" y2="522.3" stroke="#222" stroke-width="1.5" />
<line x1="329.22" y1="519.3" x2="329.22" y2="524.3" stroke="#222" stroke-width="1.9" />
<text x="329.22" y="536.5" font-size="12.5" text-anchor="middle" fill="#222" >14</text>
<line x1="347.95" y1="519.3" x2="347.95" y2="522.3" stroke="#222" stroke-width="1.5" />
<line x1="366.68" y1="519.3" x2="366.68" y2="524.3" stroke="#222" stroke-width="1.9" />
<text x="366.68" y="536.5" font-size="12.5" text-anchor="middle" fill="#222" >16</text>
<line x1="385.41" y1="519.3" x2="385.41" y2="522.3" stroke="#222" stroke-width="1.5" />
<line x1="404.14" y1="519.3" x2="404.14" y2="524.3" stroke="#222" stroke-width="1.9" />
<text x="404.14" y="536.5" font-size="12.5" text-anchor="middle" fill="#222" >18</text>
<text x="233" y="553.5" font-size="18.5" text-anchor="middle" fill="#222" >Time(s)</text>
<text transform="translate(34,407.5) rotate(-90)" font-size="19" text-anchor="middle" fill="#222">Δ<tspan font-style="italic">I</tspan><tspan font-size="13" dy="4">sc</tspan><tspan dy="-4">(nA)</tspan></text>
<text x="24.5" y="294" font-size="20.5" text-anchor="start" fill="#222" >c)</text>
<clipPath id="cc"><rect x="67" y="286.4" width="337.2" height="232.89999999999998"/></clipPath><g clip-path="url(#cc)">
<path d="M67 476.87 L67.37 477.09 L67.75 476.31 L68.12 477.07 L68.5 475.97 L68.87 474.16 L69.25 474.03 L69.62 473.43 L70 472.9 L70.37 472.86 L70.75 472.99 L71.12 472.64 L71.5 472.64 L71.87 472.34 L72.24 472.98 L72.62 472.69 L72.99 472.16 L73.37 471.95 L73.74 472.91 L74.12 472.3 L74.49 472.76 L74.87 472.72 L75.24 472.73 L75.62 472.6 L75.99 472.19 L76.36 472.27 L76.74 472.46 L77.11 472.58 L77.49 472.48 L77.86 472.51 L78.24 472.25 L78.61 472.66 L78.99 472.48 L79.36 472.51 L79.74 472.49 L80.11 472.41 L80.49 472.42 L80.86 472.1 L81.23 472.5 L81.61 472.03 L81.98 472.57 L82.36 472.61 L82.73 472.45 L83.11 472.38 L83.48 472.4 L83.86 472.11 L84.23 472.15 L84.61 472.34 L84.98 472.57 L85.36 472.51 L85.73 472.07 L86.1 473.93 L86.48 475.54 L86.85 476.14 L87.23 476.62 L87.6 476.45 L87.98 477.02 L88.35 476.48 L88.73 477.02 L89.1 477.22 L89.48 477.4 L89.85 477.01 L90.23 477.35 L90.6 477.52 L90.97 477.11 L91.35 477.25 L91.72 476.91 L92.1 477.25 L92.47 478.03 L92.85 476.98 L93.22 477.73 L93.6 476.74 L93.97 476.65 L94.35 477.28 L94.72 477.48 L95.09 477.54 L95.47 476.88 L95.84 477.18 L96.22 477.28 L96.59 477.18 L96.97 476.5 L97.34 476.99 L97.72 476.87 L98.09 476.86 L98.47 476.79 L98.84 476.77 L99.22 477.27 L99.59 477.12 L99.96 477.28 L100.34 477.26 L100.71 476.73 L101.09 477.19 L101.46 477.07 L101.84 477.24 L102.21 477.21 L102.59 476.81 L102.96 477.16 L103.34 477.17 L103.71 476.89 L104.09 476.89 L104.46 476.8 L104.83 476.98 L105.21 477.52 L105.58 476.84 L105.96 475.86 L106.33 474.32 L106.71 474.02 L107.08 472.54 L107.46 473.31 L107.83 472.56 L108.21 472.64 L108.58 472.72 L108.96 472.31 L109.33 472.6 L109.7 473.17 L110.08 472.83 L110.45 472.36 L110.83 471.84 L111.2 472.9 L111.58 472.48 L111.95 472.06 L112.33 472.31 L112.7 472.59 L113.08 472.88 L113.45 472.99 L113.83 472.69 L114.2 472.58 L114.57 473.12 L114.95 472.96 L115.32 472.39 L115.7 472.59 L116.07 472.69 L116.45 472.59 L116.82 472.71 L117.2 472.21 L117.57 472.01 L117.95 471.89 L118.32 472.28 L118.69 472.26 L119.07 472.06 L119.44 471.98 L119.82 472.06 L120.19 472.13 L120.57 472.66 L120.94 472.93 L121.32 472.23 L121.69 472.5 L122.07 472.49 L122.44 472.73 L122.82 472.85 L123.19 472.08 L123.56 473.86 L123.94 475.47 L124.31 475.83 L124.69 476.36 L125.06 476.63 L125.44 476.36 L125.81 477.14 L126.19 477.57 L126.56 477.24 L126.94 477.46 L127.31 477.13 L127.69 477.23 L128.06 477.18 L128.43 477.43 L128.81 477.14 L129.18 477.39 L129.56 477.08 L129.93 477.3 L130.31 477.52 L130.68 477.05 L131.06 477.38 L131.43 476.76 L131.81 477.03 L132.18 477.02 L132.56 477.11 L132.93 477.15 L133.3 477.8 L133.68 476.77 L134.05 477.34 L134.43 476.83 L134.8 477.28 L135.18 477.13 L135.55 477.15 L135.93 477.37 L136.3 477.12 L136.68 476.93 L137.05 477.18 L137.42 477.42 L137.8 477.22 L138.17 476.98 L138.55 476.72 L138.92 476.81 L139.3 476.96 L139.67 477.32 L140.05 476.78 L140.42 477.03 L140.8 477.1 L141.17 476.77 L141.55 476.85 L141.92 476.88 L142.29 477.35 L142.67 477.2 L143.04 477.51 L143.42 475.94 L143.79 474.61 L144.17 473.51 L144.54 473.2 L144.92 473.06 L145.29 472.16 L145.67 472.95 L146.04 472.97 L146.42 472.72 L146.79 472.37 L147.16 472.6 L147.54 472.62 L147.91 472.81 L148.29 472.06 L148.66 472.66 L149.04 472.79 L149.41 472.51 L149.79 472.71 L150.16 472.54 L150.54 472.1 L150.91 472.61 L151.28 472.49 L151.66 472.58 L152.03 472.53 L152.41 472.24 L152.78 472.33 L153.16 472.58 L153.53 472.74 L153.91 472.52 L154.28 472.24 L154.66 472.48 L155.03 472.51 L155.41 472.99 L155.78 472.19 L156.15 472.9 L156.53 472.84 L156.9 472.59 L157.28 472.47 L157.65 472.47 L158.03 472.7 L158.4 472.57 L158.78 472.65 L159.15 472.99 L159.53 472.55 L159.9 472.68 L160.28 472.36 L160.65 472.52 L161.02 473.71 L161.4 474.97 L161.77 475.68 L162.15 476.11 L162.52 476.58 L162.9 477.04 L163.27 476.74 L163.65 477.47 L164.02 477.26 L164.4 477.03 L164.77 477.37 L165.15 477.08 L165.52 477.51 L165.89 477.42 L166.27 477.1 L166.64 477.04 L167.02 476.89 L167.39 477.24 L167.77 477.12 L168.14 477.01 L168.52 477.05 L168.89 477.54 L169.27 477.32 L169.64 476.74 L170.01 477.49 L170.39 476.95 L170.76 477.24 L171.14 476.83 L171.51 477.33 L171.89 477.09 L172.26 477.67 L172.64 477.1 L173.01 476.77 L173.39 477.51 L173.76 476.73 L174.14 477.27 L174.51 477.08 L174.88 477.85 L175.26 476.75 L175.63 477.3 L176.01 477.2 L176.38 477.41 L176.76 477.33 L177.13 476.71 L177.51 477.18 L177.88 476.78 L178.26 477.08 L178.63 476.93 L179.01 477.17 L179.38 476.9 L179.75 476.29 L180.13 476.84 L180.5 476.88 L180.88 468.94 L181.25 458.51 L181.63 453.37 L182 451.74 L182.38 450.44 L182.75 448.91 L183.13 449.18 L183.5 449.24 L183.88 449.16 L184.25 449.1 L184.62 449.3 L185 449.71 L185.37 449.17 L185.75 449.87 L186.12 450.24 L186.5 450.26 L186.87 450.24 L187.25 450.41 L187.62 450.45 L188 450.4 L188.37 451.51 L188.75 450.88 L189.12 450.46 L189.49 450.65 L189.87 451.08 L190.24 451.13 L190.62 450.69 L190.99 451.15 L191.37 451.3 L191.74 450.67 L192.12 451.36 L192.49 451.12 L192.87 451.38 L193.24 451.4 L193.61 451.73 L193.99 451.74 L194.36 451.19 L194.74 451.91 L195.11 451.55 L195.49 452 L195.86 451.77 L196.24 451.74 L196.61 452.23 L196.99 451.47 L197.36 451.88 L197.74 451.51 L198.11 452.15 L198.48 462.52 L198.86 470.59 L199.23 475.44 L199.61 477.78 L199.98 478.44 L200.36 478.96 L200.73 479.2 L201.11 479.18 L201.48 479.24 L201.86 478.86 L202.23 478.98 L202.61 479 L202.98 478.42 L203.35 478.59 L203.73 477.69 L204.1 478.43 L204.48 478.47 L204.85 478.34 L205.23 478 L205.6 478.24 L205.98 478.33 L206.35 477.44 L206.73 478.2 L207.1 477.36 L207.47 477.7 L207.85 478 L208.22 477.17 L208.6 477.67 L208.97 477.86 L209.35 477.51 L209.72 477.13 L210.1 477.27 L210.47 477.2 L210.85 476.91 L211.22 477.32 L211.6 477.25 L211.97 477.4 L212.34 477.73 L212.72 477.33 L213.09 476.81 L213.47 477.75 L213.84 476.86 L214.22 477.15 L214.59 477.47 L214.97 477.18 L215.34 476.68 L215.72 477.34 L216.09 476.93 L216.47 476.83 L216.84 477.4 L217.21 476.95 L217.59 476.97 L217.96 477.25 L218.34 468.61 L218.71 458.91 L219.09 453.92 L219.46 451.6 L219.84 449.94 L220.21 449.63 L220.59 449.46 L220.96 449.6 L221.34 449.71 L221.71 449.64 L222.08 449.32 L222.46 449.88 L222.83 449.35 L223.21 449.76 L223.58 449.94 L223.96 450.44 L224.33 449.64 L224.71 450.71 L225.08 450.24 L225.46 450 L225.83 450.63 L226.21 450.85 L226.58 450.74 L226.95 450.55 L227.33 450.5 L227.7 450.78 L228.08 451.33 L228.45 451.28 L228.83 451.09 L229.2 451.57 L229.58 451.33 L229.95 450.67 L230.33 451.67 L230.7 451.08 L231.07 451.73 L231.45 451.6 L231.82 451.57 L232.2 452.02 L232.57 451.66 L232.95 451.29 L233.32 451.49 L233.7 451.53 L234.07 452 L234.45 451.84 L234.82 451.77 L235.2 451.66 L235.57 451.5 L235.94 463.06 L236.32 470.77 L236.69 475.59 L237.07 477.66 L237.44 478.92 L237.82 479.02 L238.19 479.21 L238.57 479.49 L238.94 479.16 L239.32 478.94 L239.69 478.99 L240.07 478.53 L240.44 478.94 L240.81 478.29 L241.19 478.5 L241.56 478.25 L241.94 478.79 L242.31 478.15 L242.69 478.13 L243.06 477.77 L243.44 478.31 L243.81 477.52 L244.19 478.16 L244.56 477.42 L244.94 477.58 L245.31 477.91 L245.68 477.03 L246.06 477.95 L246.43 477.62 L246.81 477.47 L247.18 477.35 L247.56 477.4 L247.93 477.21 L248.31 477.28 L248.68 477.37 L249.06 477.62 L249.43 477.43 L249.8 477.05 L250.18 477.63 L250.55 477.24 L250.93 477.84 L251.3 477.44 L251.68 477.69 L252.05 476.85 L252.43 477.72 L252.8 477.25 L253.18 476.96 L253.55 476.99 L253.93 476.93 L254.3 476.84 L254.67 477 L255.05 476.88 L255.42 477.13 L255.8 468.81 L256.17 459.31 L256.55 453.71 L256.92 450.89 L257.3 450.26 L257.67 449.84 L258.05 449.28 L258.42 448.95 L258.8 448.98 L259.17 449.85 L259.54 449.4 L259.92 449.83 L260.29 449.68 L260.67 450.52 L261.04 449.73 L261.42 450.21 L261.79 450.14 L262.17 450.35 L262.54 450.69 L262.92 450.34 L263.29 450.71 L263.66 450.85 L264.04 450.55 L264.41 450.83 L264.79 451.08 L265.16 450.69 L265.54 451.19 L265.91 451.09 L266.29 450.94 L266.66 450.93 L267.04 450.92 L267.41 450.84 L267.79 451.35 L268.16 451.64 L268.53 450.99 L268.91 451.11 L269.28 451.63 L269.66 451.39 L270.03 451.73 L270.41 452.11 L270.78 451.4 L271.16 451.63 L271.53 451.73 L271.91 451.31 L272.28 451.42 L272.66 452.04 L273.03 452.2 L273.4 463.32 L273.78 471.25 L274.15 475.61 L274.53 477.49 L274.9 478.57 L275.28 479.19 L275.65 479.26 L276.03 479.59 L276.4 478.72 L276.78 479.13 L277.15 478.69 L277.53 478.95 L277.9 478.63 L278.27 478.37 L278.65 478.52 L279.02 478.59 L279.4 477.6 L279.77 478.24 L280.15 477.95 L280.52 478.06 L280.9 478.19 L281.27 477.53 L281.65 477.74 L282.02 477.7 L282.39 478.39 L282.77 477.61 L283.14 477.41 L283.52 477.53 L283.89 477.61 L284.27 477.19 L284.64 477.43 L285.02 477.3 L285.39 477.14 L285.77 477.12 L286.14 477.76 L286.52 477.26 L286.89 477.55 L287.26 477.89 L287.64 477.21 L288.01 477.77 L288.39 477.39 L288.76 477.96 L289.14 477.52 L289.51 477.34 L289.89 477.2 L290.26 477.34 L290.64 477.44 L291.01 477.42 L291.39 476.71 L291.76 477.27 L292.13 477.16 L292.51 476.58 L292.88 477.61 L293.26 459.21 L293.63 442.35 L294.01 437.34 L294.38 436.83 L294.76 437.2 L295.13 438.36 L295.51 440.04 L295.88 440.81 L296.26 442.49 L296.63 443.06 L297 444.32 L297.38 444.83 L297.75 446.25 L298.13 447.52 L298.5 448.29 L298.88 449.24 L299.25 450.34 L299.63 451.35 L300 451.39 L300.38 452 L300.75 453.27 L301.12 453.88 L301.5 454.58 L301.87 454.76 L302.25 455.28 L302.62 456.42 L303 456.8 L303.37 457.36 L303.75 457.62 L304.12 457.92 L304.5 458.26 L304.87 459.06 L305.25 459.66 L305.62 459.6 L305.99 459.95 L306.37 460.56 L306.74 460.74 L307.12 460.99 L307.49 461.14 L307.87 461.66 L308.24 461.81 L308.62 462.15 L308.99 462.72 L309.37 462.48 L309.74 462.88 L310.12 462.82 L310.49 463.66 L310.86 496.74 L311.24 510.91 L311.61 511.1 L311.99 507.95 L312.36 505.18 L312.74 502.52 L313.11 500.06 L313.49 498.43 L313.86 495.81 L314.24 494.01 L314.61 492.11 L314.99 490.53 L315.36 489.51 L315.73 488.15 L316.11 488.01 L316.48 486.19 L316.86 485.14 L317.23 484.4 L317.61 483.86 L317.98 483.37 L318.36 482.77 L318.73 482.12 L319.11 481.52 L319.48 481.04 L319.86 480.83 L320.23 480.8 L320.6 479.59 L320.98 480.06 L321.35 480.31 L321.73 478.9 L322.1 478.8 L322.48 478.83 L322.85 478.43 L323.23 478.42 L323.6 478.64 L323.98 478.23 L324.35 478.5 L324.72 478.22 L325.1 478.18 L325.47 477.8 L325.85 477.46 L326.22 477.88 L326.6 477.5 L326.97 478.18 L327.35 477.82 L327.72 477.31 L328.1 477.15 L328.47 477.11 L328.85 477.04 L329.22 477.78 L329.59 477.43 L329.97 477.99 L330.34 477.28 L330.72 458.56 L331.09 442.16 L331.47 437.5 L331.84 436.38 L332.22 437.04 L332.59 438.29 L332.97 439.77 L333.34 440.84 L333.72 442.06 L334.09 443.18 L334.46 444.21 L334.84 445.47 L335.21 446.89 L335.59 447.54 L335.96 448.28 L336.34 449.4 L336.71 450.06 L337.09 451.13 L337.46 451.32 L337.84 452.32 L338.21 453.09 L338.58 453.58 L338.96 454.22 L339.33 455.02 L339.71 455.34 L340.08 455.99 L340.46 456.64 L340.83 457.2 L341.21 457.99 L341.58 458.08 L341.96 458.52 L342.33 459.22 L342.71 458.99 L343.08 459.76 L343.45 460.42 L343.83 460.58 L344.2 460.8 L344.58 461.1 L344.95 461.61 L345.33 461.66 L345.7 462.36 L346.08 462.32 L346.45 462.32 L346.83 462.87 L347.2 462.72 L347.58 462.89 L347.95 463.49 L348.32 497.23 L348.7 510.75 L349.07 510.23 L349.45 508.36 L349.82 504.99 L350.2 502.31 L350.57 500.45 L350.95 497.95 L351.32 495.46 L351.7 493.96 L352.07 492.4 L352.45 490.61 L352.82 489.78 L353.19 488.92 L353.57 486.94 L353.94 486.56 L354.32 485.45 L354.69 484.31 L355.07 483.84 L355.44 483.21 L355.82 482.83 L356.19 481.95 L356.57 481 L356.94 481.35 L357.31 481.11 L357.69 480.34 L358.06 480.31 L358.44 479.77 L358.81 479.53 L359.19 479.15 L359.56 479.02 L359.94 478.78 L360.31 478.33 L360.69 478.81 L361.06 478.37 L361.44 478.16 L361.81 478.48 L362.18 478.29 L362.56 478.02 L362.93 477.99 L363.31 477.43 L363.68 477.64 L364.06 476.78 L364.43 477.66 L364.81 477.59 L365.18 476.81 L365.56 477.57 L365.93 476.74 L366.31 478.22 L366.68 477.49 L367.05 476.87 L367.43 476.78 L367.8 477.08 L368.18 458.79 L368.55 442.08 L368.93 436.99 L369.3 436.4 L369.68 436.9 L370.05 438.52 L370.43 439.34 L370.8 440.47 L371.18 441.18 L371.55 443.03 L371.92 444.16 L372.3 445.68 L372.67 446.85 L373.05 448.09 L373.42 448.24 L373.8 448.68 L374.17 450.13 L374.55 451.62 L374.92 451.63 L375.3 452.47 L375.67 453.22 L376.05 453.28 L376.42 454.06 L376.79 454.6 L377.17 455.83 L377.54 456.05 L377.92 456.99 L378.29 456.85 L378.67 457.98 L379.04 457.75 L379.42 458.47 L379.79 458.89 L380.17 459.77 L380.54 459.53 L380.91 460.61 L381.29 460.79 L381.66 461.03 L382.04 460.48 L382.41 461.34 L382.79 461.85 L383.16 461.77 L383.54 461.5 L383.91 462.47 L384.29 462.96 L384.66 463.2 L385.04 463.11 L385.41 462.82 L385.78 496.56 L386.16 511.05 L386.53 510.88 L386.91 508.22 L387.28 504.74 L387.66 502.28 L388.03 499.85 L388.41 498.17 L388.78 495.64 L389.16 493.92 L389.53 491.96 L389.91 490.62 L390.28 489.67 L390.65 488.3 L391.03 487.22 L391.4 486.36 L391.78 485.69 L392.15 484.38 L392.53 483.26 L392.9 483.28 L393.28 482.18 L393.65 482.21 L394.03 481.72 L394.4 481.19 L394.78 480.87 L395.15 480.14 L395.52 479.76 L395.9 480.54 L396.27 479.3 L396.65 479.18 L397.02 478.57 L397.4 479.13 L397.77 478.65 L398.15 478.18 L398.52 478.13 L398.9 477.81 L399.27 478.35 L399.64 478.21 L400.02 477.75 L400.39 478.23 L400.77 477.62 L401.14 477.41 L401.52 477.51 L401.89 477.94 L402.27 477.66 L402.64 477.54 L403.02 477.29 L403.39 477.3 L403.77 477.46 L404.14 477.78" fill="none" stroke="#4a4a4a" stroke-width="1.5" stroke-linejoin="round" stroke-linecap="round" />
<path d="M67 477.51 L67.37 477.28 L67.75 477.29 L68.12 477.17 L68.5 476.25 L68.87 474.53 L69.25 473.77 L69.62 473.01 L70 472.74 L70.37 472.37 L70.75 472.7 L71.12 472.61 L71.5 472.63 L71.87 472.25 L72.24 472.06 L72.62 471.92 L72.99 472.2 L73.37 472.28 L73.74 472.03 L74.12 472.26 L74.49 472.53 L74.87 472.03 L75.24 472.36 L75.62 472.66 L75.99 472.29 L76.36 472.48 L76.74 472.25 L77.11 472.45 L77.49 472.33 L77.86 472.41 L78.24 472.27 L78.61 472.08 L78.99 472.17 L79.36 472.24 L79.74 471.95 L80.11 472.63 L80.49 472.19 L80.86 471.91 L81.23 472.08 L81.61 471.92 L81.98 472.5 L82.36 471.91 L82.73 472.44 L83.11 471.92 L83.48 472.17 L83.86 471.99 L84.23 472.46 L84.61 472.3 L84.98 472.77 L85.36 472.14 L85.73 472.03 L86.1 473.46 L86.48 474.5 L86.85 475.49 L87.23 476.18 L87.6 476.42 L87.98 476.98 L88.35 476.71 L88.73 477 L89.1 477.04 L89.48 477.21 L89.85 477.36 L90.23 477.48 L90.6 477.29 L90.97 477 L91.35 477.7 L91.72 477.16 L92.1 476.17 L92.47 477.11 L92.85 477.2 L93.22 477.04 L93.6 477.18 L93.97 477.1 L94.35 477.08 L94.72 477.39 L95.09 476.76 L95.47 477.04 L95.84 476.77 L96.22 477.04 L96.59 476.77 L96.97 477.05 L97.34 476.2 L97.72 476.73 L98.09 476.67 L98.47 477.06 L98.84 477.48 L99.22 477.13 L99.59 476.89 L99.96 476.99 L100.34 477.19 L100.71 477.23 L101.09 477.37 L101.46 477.15 L101.84 476.84 L102.21 476.83 L102.59 476.83 L102.96 477.06 L103.34 476.96 L103.71 477.01 L104.09 476.89 L104.46 476.93 L104.83 476.83 L105.21 477.04 L105.58 477.03 L105.96 475.53 L106.33 474.1 L106.71 474.18 L107.08 472.95 L107.46 472.62 L107.83 472.29 L108.21 473.01 L108.58 472.82 L108.96 472.42 L109.33 472.25 L109.7 472.59 L110.08 471.94 L110.45 471.96 L110.83 472.07 L111.2 472.01 L111.58 472.57 L111.95 472.29 L112.33 472.9 L112.7 471.97 L113.08 471.92 L113.45 472.14 L113.83 472.53 L114.2 472.24 L114.57 471.98 L114.95 472.59 L115.32 472.18 L115.7 472.04 L116.07 472.46 L116.45 472.4 L116.82 471.91 L117.2 472.03 L117.57 471.84 L117.95 472.17 L118.32 472.51 L118.69 472.25 L119.07 472.42 L119.44 472.31 L119.82 472.1 L120.19 471.81 L120.57 472.19 L120.94 471.71 L121.32 472.6 L121.69 472.29 L122.07 472.22 L122.44 472.83 L122.82 472.69 L123.19 472.33 L123.56 473.53 L123.94 474.7 L124.31 475.64 L124.69 476.3 L125.06 476.97 L125.44 476.81 L125.81 476.53 L126.19 476.96 L126.56 477.34 L126.94 477.14 L127.31 477.08 L127.69 476.86 L128.06 477.37 L128.43 477.07 L128.81 477.05 L129.18 477.28 L129.56 477.22 L129.93 477.3 L130.31 477.16 L130.68 477.09 L131.06 477.5 L131.43 477.19 L131.81 476.71 L132.18 477.14 L132.56 477.65 L132.93 476.71 L133.3 477.18 L133.68 477.06 L134.05 476.95 L134.43 477.21 L134.8 477.38 L135.18 477.29 L135.55 477.01 L135.93 477.08 L136.3 477.15 L136.68 476.47 L137.05 476.99 L137.42 476.79 L137.8 476.46 L138.17 477.01 L138.55 477.16 L138.92 477.12 L139.3 477.01 L139.67 476.53 L140.05 476.73 L140.42 477.09 L140.8 477.19 L141.17 476.81 L141.55 476.51 L141.92 477.19 L142.29 476.57 L142.67 476.92 L143.04 477.01 L143.42 475.99 L143.79 474.66 L144.17 473.71 L144.54 472.7 L144.92 473.11 L145.29 472.64 L145.67 472.41 L146.04 472.65 L146.42 472.42 L146.79 472.66 L147.16 472.07 L147.54 472.05 L147.91 472.62 L148.29 471.83 L148.66 472.51 L149.04 472.76 L149.41 472.73 L149.79 472.1 L150.16 472.89 L150.54 472.26 L150.91 472.17 L151.28 471.96 L151.66 472.33 L152.03 471.91 L152.41 472.35 L152.78 471.98 L153.16 472.51 L153.53 472.15 L153.91 472.32 L154.28 472.18 L154.66 471.61 L155.03 472.23 L155.41 472.22 L155.78 472.2 L156.15 472.14 L156.53 472.86 L156.9 472.02 L157.28 472.62 L157.65 472.8 L158.03 472.21 L158.4 472.58 L158.78 472.17 L159.15 471.92 L159.53 472.23 L159.9 472.52 L160.28 472.21 L160.65 471.66 L161.02 473.54 L161.4 474.32 L161.77 475.25 L162.15 476.56 L162.52 476.33 L162.9 477.21 L163.27 476.83 L163.65 476.93 L164.02 477.2 L164.4 477.63 L164.77 477.31 L165.15 477.31 L165.52 477.09 L165.89 477.24 L166.27 477.07 L166.64 477.3 L167.02 477.66 L167.39 477.2 L167.77 476.79 L168.14 477.42 L168.52 477.46 L168.89 477.71 L169.27 476.63 L169.64 477.45 L170.01 476.84 L170.39 477.09 L170.76 477.16 L171.14 477.1 L171.51 476.58 L171.89 476.62 L172.26 476.96 L172.64 477.22 L173.01 476.68 L173.39 476.89 L173.76 477.05 L174.14 476.93 L174.51 477.29 L174.88 476.86 L175.26 477.14 L175.63 477.13 L176.01 477.39 L176.38 477.03 L176.76 476.93 L177.13 477.47 L177.51 476.96 L177.88 476.92 L178.26 476.67 L178.63 476.72 L179.01 477.21 L179.38 476.69 L179.75 476.89 L180.13 477.09 L180.5 477.25 L180.88 467.18 L181.25 455.44 L181.63 449.78 L182 446.48 L182.38 445.12 L182.75 444.43 L183.13 444.07 L183.5 443.44 L183.88 443.43 L184.25 443.38 L184.62 443.41 L185 443.46 L185.37 443.23 L185.75 443.97 L186.12 443.29 L186.5 443.86 L186.87 443.6 L187.25 443.53 L187.62 443.57 L188 443.46 L188.37 443.85 L188.75 443.14 L189.12 443.32 L189.49 443.49 L189.87 443.45 L190.24 443.77 L190.62 444.16 L190.99 444.11 L191.37 443.55 L191.74 444.44 L192.12 443.27 L192.49 443.59 L192.87 443.99 L193.24 443.89 L193.61 444.19 L193.99 443.78 L194.36 443.64 L194.74 443.42 L195.11 444.13 L195.49 443.47 L195.86 443.71 L196.24 443.81 L196.61 443.78 L196.99 443.69 L197.36 443.28 L197.74 443.38 L198.11 443.57 L198.48 456.08 L198.86 467.34 L199.23 472.79 L199.61 475.82 L199.98 477.56 L200.36 477.47 L200.73 477.59 L201.11 478.19 L201.48 478.43 L201.86 478.27 L202.23 478.49 L202.61 478.45 L202.98 477.94 L203.35 478.03 L203.73 477.63 L204.1 477 L204.48 477.62 L204.85 477.7 L205.23 477.6 L205.6 477.47 L205.98 477.13 L206.35 477.45 L206.73 477.22 L207.1 477.71 L207.47 477.65 L207.85 477.41 L208.22 477.07 L208.6 477.56 L208.97 476.91 L209.35 477.51 L209.72 477.18 L210.1 477.22 L210.47 476.74 L210.85 477.44 L211.22 477.41 L211.6 477.22 L211.97 476.93 L212.34 476.92 L212.72 477.46 L213.09 477.32 L213.47 477.45 L213.84 476.6 L214.22 476.95 L214.59 476.88 L214.97 477.67 L215.34 476.99 L215.72 477.11 L216.09 476.77 L216.47 477.49 L216.84 476.63 L217.21 476.83 L217.59 476.84 L217.96 477.35 L218.34 466.84 L218.71 455.56 L219.09 449.52 L219.46 446.52 L219.84 445.04 L220.21 444.11 L220.59 443.72 L220.96 443.26 L221.34 443.32 L221.71 443.64 L222.08 443.38 L222.46 443.16 L222.83 443.63 L223.21 443.48 L223.58 443.15 L223.96 443.36 L224.33 443.64 L224.71 443.35 L225.08 443.26 L225.46 443.34 L225.83 443.5 L226.21 443.03 L226.58 443.97 L226.95 443.5 L227.33 443.42 L227.7 443.87 L228.08 443.84 L228.45 443.84 L228.83 443.61 L229.2 443.69 L229.58 443.52 L229.95 443.33 L230.33 443.86 L230.7 443.67 L231.07 443.59 L231.45 444.28 L231.82 443.79 L232.2 444.22 L232.57 443.98 L232.95 444.03 L233.32 443.46 L233.7 443.95 L234.07 443.97 L234.45 443.58 L234.82 443.84 L235.2 444.19 L235.57 443.49 L235.94 455.59 L236.32 467.37 L236.69 473.52 L237.07 476.13 L237.44 477.6 L237.82 477.54 L238.19 478.47 L238.57 478.13 L238.94 477.99 L239.32 478.2 L239.69 478.12 L240.07 477.76 L240.44 477.82 L240.81 478.41 L241.19 477.61 L241.56 478.46 L241.94 477.96 L242.31 477.49 L242.69 478.19 L243.06 477.32 L243.44 476.94 L243.81 477.58 L244.19 478 L244.56 476.98 L244.94 477.69 L245.31 477.75 L245.68 477.69 L246.06 477.5 L246.43 477.51 L246.81 476.75 L247.18 477.55 L247.56 477.74 L247.93 477.7 L248.31 477.36 L248.68 476.74 L249.06 477.6 L249.43 477.25 L249.8 476.97 L250.18 477.25 L250.55 477.23 L250.93 477.26 L251.3 477.04 L251.68 477.34 L252.05 476.71 L252.43 477.62 L252.8 476.84 L253.18 476.8 L253.55 477.08 L253.93 477.18 L254.3 476.73 L254.67 477.35 L255.05 477.14 L255.42 477.32 L255.8 467.39 L256.17 455.97 L256.55 449.87 L256.92 446.41 L257.3 445.04 L257.67 444.16 L258.05 443.38 L258.42 444.2 L258.8 443.71 L259.17 443.51 L259.54 443.1 L259.92 443.81 L260.29 443.55 L260.67 443.37 L261.04 443.85 L261.42 443.68 L261.79 443.57 L262.17 443.73 L262.54 443.43 L262.92 443.35 L263.29 443.74 L263.66 443.44 L264.04 443.51 L264.41 443.65 L264.79 443.87 L265.16 443.21 L265.54 444 L265.91 443.62 L266.29 443.46 L266.66 444.43 L267.04 443.91 L267.41 444.27 L267.79 443.79 L268.16 443.56 L268.53 443.95 L268.91 443.74 L269.28 443.56 L269.66 443.98 L270.03 443.86 L270.41 444.08 L270.78 443.64 L271.16 443.87 L271.53 443.38 L271.91 443.45 L272.28 444.18 L272.66 443.76 L273.03 443.75 L273.4 455.83 L273.78 467.18 L274.15 473.11 L274.53 475.66 L274.9 477.15 L275.28 477.88 L275.65 478.42 L276.03 478.02 L276.4 478.73 L276.78 477.99 L277.15 478.03 L277.53 478.37 L277.9 477.92 L278.27 477.3 L278.65 477.88 L279.02 478 L279.4 477.71 L279.77 477.54 L280.15 477.15 L280.52 477.65 L280.9 477.28 L281.27 477.45 L281.65 477.12 L282.02 477.31 L282.39 477.68 L282.77 477.16 L283.14 477.02 L283.52 477.37 L283.89 477.88 L284.27 477.53 L284.64 477.24 L285.02 477.03 L285.39 477.36 L285.77 476.91 L286.14 477.33 L286.52 477.56 L286.89 477.03 L287.26 477.34 L287.64 476.76 L288.01 476.81 L288.39 477.23 L288.76 477.28 L289.14 477.03 L289.51 476.76 L289.89 477.04 L290.26 477.11 L290.64 476.76 L291.01 476.87 L291.39 477.25 L291.76 477.24 L292.13 477.67 L292.51 477.12 L292.88 477.15 L293.26 451.92 L293.63 424.44 L294.01 412.02 L294.38 406.62 L294.76 404.37 L295.13 403.41 L295.51 403.22 L295.88 402.72 L296.26 403.22 L296.63 403.23 L297 403.43 L297.38 404.01 L297.75 404.47 L298.13 404.4 L298.5 404.35 L298.88 404.41 L299.25 404.96 L299.63 404.53 L300 404.96 L300.38 404.76 L300.75 405.39 L301.12 406.07 L301.5 405.22 L301.87 405.36 L302.25 404.95 L302.62 405.68 L303 405.71 L303.37 405.4 L303.75 406.77 L304.12 406.49 L304.5 406.72 L304.87 406.15 L305.25 406.39 L305.62 406.24 L305.99 406.92 L306.37 406.75 L306.74 406.62 L307.12 406.72 L307.49 406.81 L307.87 406.49 L308.24 407.05 L308.62 407.03 L308.99 407.09 L309.37 406.81 L309.74 407.33 L310.12 407.38 L310.49 407.4 L310.86 425.94 L311.24 449.96 L311.61 462.67 L311.99 469.59 L312.36 472.55 L312.74 474.16 L313.11 474.68 L313.49 475.69 L313.86 475.59 L314.24 476.12 L314.61 475.93 L314.99 476.76 L315.36 476.89 L315.73 476.64 L316.11 476.73 L316.48 476.7 L316.86 476.64 L317.23 477.16 L317.61 476.82 L317.98 477.09 L318.36 476.43 L318.73 477.09 L319.11 477.21 L319.48 476.62 L319.86 477.62 L320.23 476.73 L320.6 477.14 L320.98 477.4 L321.35 477.43 L321.73 477.34 L322.1 477.3 L322.48 477.63 L322.85 477.34 L323.23 477.27 L323.6 477.5 L323.98 477.1 L324.35 477.83 L324.72 477.55 L325.1 477.33 L325.47 477.5 L325.85 477.23 L326.22 477.4 L326.6 478.01 L326.97 477.31 L327.35 477.9 L327.72 477.43 L328.1 477.75 L328.47 477.46 L328.85 478.48 L329.22 477.61 L329.59 477.87 L329.97 477.4 L330.34 477.4 L330.72 451.67 L331.09 424.29 L331.47 411.89 L331.84 406.75 L332.22 404.24 L332.59 403.3 L332.97 402.9 L333.34 402.66 L333.72 403.42 L334.09 403.29 L334.46 403.34 L334.84 403.75 L335.21 404.37 L335.59 404.2 L335.96 404.41 L336.34 404.73 L336.71 404.5 L337.09 404.82 L337.46 404.93 L337.84 404.96 L338.21 405.15 L338.58 405.1 L338.96 405.22 L339.33 405.42 L339.71 405.48 L340.08 405.49 L340.46 405.9 L340.83 405.6 L341.21 405.61 L341.58 406.11 L341.96 405.77 L342.33 406.07 L342.71 406.17 L343.08 405.87 L343.45 406.82 L343.83 406.28 L344.2 406.77 L344.58 406.59 L344.95 407.32 L345.33 406.52 L345.7 406.48 L346.08 407.16 L346.45 406.47 L346.83 407.13 L347.2 407.06 L347.58 407.38 L347.95 406.98 L348.32 425.57 L348.7 449.95 L349.07 462.46 L349.45 469.3 L349.82 472.24 L350.2 474.26 L350.57 474.75 L350.95 475.69 L351.32 475.84 L351.7 476.06 L352.07 475.97 L352.45 476.02 L352.82 476.49 L353.19 476.87 L353.57 476.67 L353.94 476.84 L354.32 476.61 L354.69 476.93 L355.07 476.81 L355.44 476.9 L355.82 476.93 L356.19 477.33 L356.57 476.8 L356.94 477.29 L357.31 477.66 L357.69 477.45 L358.06 477.38 L358.44 477.44 L358.81 477.25 L359.19 477.55 L359.56 477.36 L359.94 477.19 L360.31 477.73 L360.69 477.69 L361.06 477.12 L361.44 477.43 L361.81 477.33 L362.18 477.65 L362.56 477.63 L362.93 477.68 L363.31 477.9 L363.68 477.38 L364.06 478.04 L364.43 477.92 L364.81 478.08 L365.18 477.25 L365.56 478.04 L365.93 477.48 L366.31 478.2 L366.68 477.26 L367.05 477.14 L367.43 477.88 L367.8 477.45 L368.18 452.45 L368.55 424.4 L368.93 411.57 L369.3 406.51 L369.68 404.38 L370.05 403.34 L370.43 403.24 L370.8 403.28 L371.18 402.94 L371.55 403.91 L371.92 403.72 L372.3 403.74 L372.67 403.66 L373.05 404.05 L373.42 404.39 L373.8 405.06 L374.17 403.77 L374.55 404.95 L374.92 404.68 L375.3 405.37 L375.67 404.88 L376.05 405.66 L376.42 405.55 L376.79 405.47 L377.17 405.96 L377.54 405.49 L377.92 405.8 L378.29 405.58 L378.67 405.74 L379.04 406.19 L379.42 406.49 L379.79 406.34 L380.17 406.01 L380.54 406.84 L380.91 406.15 L381.29 406.97 L381.66 406.43 L382.04 406.51 L382.41 406.96 L382.79 407.17 L383.16 406.83 L383.54 406.72 L383.91 407.28 L384.29 406.84 L384.66 406.94 L385.04 407.41 L385.41 407.63 L385.78 425.45 L386.16 449.96 L386.53 462.87 L386.91 469.22 L387.28 471.74 L387.66 473.95 L388.03 474.94 L388.41 475.85 L388.78 475.94 L389.16 475.81 L389.53 476.53 L389.91 476.54 L390.28 476.57 L390.65 476.68 L391.03 476.45 L391.4 476.89 L391.78 476.68 L392.15 476.71 L392.53 476.76 L392.9 476.83 L393.28 477.35 L393.65 477.37 L394.03 477.56 L394.4 477.04 L394.78 476.97 L395.15 477.03 L395.52 476.77 L395.9 477.32 L396.27 476.97 L396.65 477.27 L397.02 477.11 L397.4 477.59 L397.77 477.44 L398.15 477.68 L398.52 477.79 L398.9 478.12 L399.27 477.25 L399.64 477.45 L400.02 476.76 L400.39 477.58 L400.77 477.51 L401.14 477.94 L401.52 477.35 L401.89 477.87 L402.27 477.11 L402.64 477.03 L403.02 478.29 L403.39 477.96 L403.77 478.15 L404.14 478.03" fill="none" stroke="#ee3b3b" stroke-width="1.5" stroke-linejoin="round" stroke-linecap="round" />
<path d="M67 477.36 L67.37 476.89 L67.75 476.63 L68.12 476.96 L68.5 476.26 L68.87 475.88 L69.25 475.1 L69.62 474.4 L70 474.53 L70.37 473.3 L70.75 473.55 L71.12 473.11 L71.5 472.17 L71.87 472.26 L72.24 471.93 L72.62 471.03 L72.99 471 L73.37 470.76 L73.74 470.51 L74.12 470.27 L74.49 469.67 L74.87 469.52 L75.24 469.42 L75.62 468.4 L75.99 468.6 L76.36 468.94 L76.74 468.3 L77.11 468.4 L77.49 468.18 L77.86 467.33 L78.24 467.34 L78.61 467.49 L78.99 467.12 L79.36 467.72 L79.74 466.98 L80.11 466.84 L80.49 467.16 L80.86 467.33 L81.23 466.59 L81.61 466.58 L81.98 466.6 L82.36 466.48 L82.73 466.39 L83.11 466.08 L83.48 465.85 L83.86 466.34 L84.23 465.78 L84.61 466.22 L84.98 466.24 L85.36 466.06 L85.73 465.76 L86.1 465.72 L86.48 466.84 L86.85 468.01 L87.23 468.24 L87.6 469.35 L87.98 469.94 L88.35 470.78 L88.73 470.61 L89.1 471.74 L89.48 472.48 L89.85 472.29 L90.23 472.92 L90.6 473.02 L90.97 473.35 L91.35 474.39 L91.72 474.23 L92.1 473.74 L92.47 474.49 L92.85 474.69 L93.22 474.73 L93.6 474.84 L93.97 475.34 L94.35 475.24 L94.72 475.41 L95.09 475.67 L95.47 475.85 L95.84 475.73 L96.22 475.94 L96.59 476.39 L96.97 476.57 L97.34 476.28 L97.72 476.36 L98.09 475.99 L98.47 476.45 L98.84 476.51 L99.22 476.66 L99.59 476.52 L99.96 476.51 L100.34 476.34 L100.71 476.82 L101.09 476.56 L101.46 476.47 L101.84 477.25 L102.21 476.7 L102.59 477.06 L102.96 476.98 L103.34 476.91 L103.71 476.94 L104.09 477.11 L104.46 476.83 L104.83 476.73 L105.21 476.98 L105.58 477.22 L105.96 476.8 L106.33 475.56 L106.71 475.26 L107.08 475 L107.46 474.62 L107.83 473.73 L108.21 473.26 L108.58 472.23 L108.96 472.88 L109.33 471.9 L109.7 471.35 L110.08 470.97 L110.45 471.33 L110.83 470.48 L111.2 470.27 L111.58 469.92 L111.95 469.62 L112.33 469.68 L112.7 469.1 L113.08 469.26 L113.45 469.22 L113.83 468.76 L114.2 468.34 L114.57 467.74 L114.95 468.16 L115.32 467.46 L115.7 467.97 L116.07 467.76 L116.45 467.86 L116.82 467.34 L117.2 467.21 L117.57 466.85 L117.95 467.09 L118.32 466.83 L118.69 467.13 L119.07 466.76 L119.44 466.12 L119.82 466.82 L120.19 466.44 L120.57 466.12 L120.94 466.11 L121.32 466.29 L121.69 466.32 L122.07 466.47 L122.44 465.7 L122.82 466.47 L123.19 466.06 L123.56 466.23 L123.94 467.02 L124.31 468.12 L124.69 468.58 L125.06 469.07 L125.44 470.14 L125.81 470.6 L126.19 471.1 L126.56 471.77 L126.94 471.63 L127.31 472.82 L127.69 473.1 L128.06 473.03 L128.43 473.56 L128.81 473.95 L129.18 473.85 L129.56 475.04 L129.93 474.56 L130.31 474.49 L130.68 475.4 L131.06 474.4 L131.43 475.26 L131.81 475.39 L132.18 475.48 L132.56 475.72 L132.93 475.22 L133.3 476.31 L133.68 476.3 L134.05 475.97 L134.43 476.03 L134.8 476.58 L135.18 476.03 L135.55 476.74 L135.93 476.64 L136.3 476.64 L136.68 476.52 L137.05 476.64 L137.42 476.54 L137.8 476.47 L138.17 476.48 L138.55 476.99 L138.92 476.91 L139.3 476.36 L139.67 476.6 L140.05 476.59 L140.42 477.15 L140.8 477.83 L141.17 476.74 L141.55 476.2 L141.92 477.46 L142.29 476.8 L142.67 476.86 L143.04 477.51 L143.42 476.31 L143.79 475.96 L144.17 475.64 L144.54 474.69 L144.92 474.38 L145.29 473.52 L145.67 472.81 L146.04 472.94 L146.42 472.25 L146.79 471.51 L147.16 472.01 L147.54 471.26 L147.91 471.23 L148.29 470.39 L148.66 470.62 L149.04 469.91 L149.41 469.88 L149.79 469.4 L150.16 469.37 L150.54 469.64 L150.91 469.29 L151.28 468.25 L151.66 468.04 L152.03 468.32 L152.41 467.97 L152.78 468.2 L153.16 468.02 L153.53 468.06 L153.91 467.55 L154.28 466.83 L154.66 467.55 L155.03 466.83 L155.41 466.83 L155.78 466.7 L156.15 467.25 L156.53 467.02 L156.9 466.29 L157.28 467.03 L157.65 466.48 L158.03 466.46 L158.4 466.33 L158.78 465.99 L159.15 466.32 L159.53 465.81 L159.9 465.8 L160.28 466.49 L160.65 465.93 L161.02 465.99 L161.4 466.83 L161.77 467.95 L162.15 468.56 L162.52 468.88 L162.9 469.91 L163.27 470.89 L163.65 471.08 L164.02 471.44 L164.4 472.55 L164.77 472.67 L165.15 473.05 L165.52 473.05 L165.89 473.68 L166.27 473.94 L166.64 474.02 L167.02 474.22 L167.39 474.73 L167.77 474.24 L168.14 474.87 L168.52 474.93 L168.89 475.41 L169.27 475.59 L169.64 475.95 L170.01 476.37 L170.39 475.5 L170.76 475.97 L171.14 476.34 L171.51 476.21 L171.89 475.98 L172.26 476.24 L172.64 476.01 L173.01 476.83 L173.39 476.45 L173.76 476.56 L174.14 476.14 L174.51 476.43 L174.88 476.42 L175.26 476.27 L175.63 476.49 L176.01 477.14 L176.38 476.32 L176.76 476.57 L177.13 476.81 L177.51 476.67 L177.88 476.34 L178.26 476.59 L178.63 476.86 L179.01 476.69 L179.38 477.09 L179.75 476.74 L180.13 476.9 L180.5 476.78 L180.88 470.74 L181.25 460.5 L181.63 452.44 L182 448.65 L182.38 445.46 L182.75 443.1 L183.13 441.83 L183.5 440.61 L183.88 440.47 L184.25 439.43 L184.62 439.03 L185 439.24 L185.37 438.91 L185.75 438.04 L186.12 438.37 L186.5 438.2 L186.87 437.74 L187.25 437.85 L187.62 438.27 L188 437.66 L188.37 437.55 L188.75 437.48 L189.12 436.95 L189.49 437.1 L189.87 437.36 L190.24 436.33 L190.62 437.02 L190.99 437.37 L191.37 437.03 L191.74 437.18 L192.12 437.01 L192.49 436.72 L192.87 436.95 L193.24 436.29 L193.61 436.48 L193.99 436.64 L194.36 436.57 L194.74 436.44 L195.11 436.39 L195.49 436.56 L195.86 436.09 L196.24 436.76 L196.61 436.17 L196.99 436.09 L197.36 436.07 L197.74 435.85 L198.11 436.33 L198.48 438.12 L198.86 443.43 L199.23 447.16 L199.61 450.79 L199.98 453.35 L200.36 456.96 L200.73 458.49 L201.11 460.88 L201.48 462.95 L201.86 464.85 L202.23 466.02 L202.61 466.57 L202.98 469.03 L203.35 469.57 L203.73 470.16 L204.1 470.99 L204.48 471.7 L204.85 472.54 L205.23 472.97 L205.6 473.75 L205.98 473.57 L206.35 474.42 L206.73 474.73 L207.1 474.63 L207.47 475.18 L207.85 475.05 L208.22 475.69 L208.6 475.93 L208.97 475.97 L209.35 476.12 L209.72 476.25 L210.1 476.13 L210.47 476.25 L210.85 476.43 L211.22 476.3 L211.6 476.41 L211.97 476.35 L212.34 476.71 L212.72 476.79 L213.09 476.73 L213.47 476.24 L213.84 476.35 L214.22 476.74 L214.59 477.06 L214.97 476.65 L215.34 476.46 L215.72 476.36 L216.09 476.71 L216.47 477.24 L216.84 477.22 L217.21 477.1 L217.59 476.61 L217.96 477.08 L218.34 470.07 L218.71 460.51 L219.09 453 L219.46 448.45 L219.84 445.64 L220.21 443.34 L220.59 441.91 L220.96 440.66 L221.34 440.1 L221.71 439.68 L222.08 439.12 L222.46 438.93 L222.83 438.4 L223.21 438.42 L223.58 438.37 L223.96 438.23 L224.33 438.02 L224.71 437.79 L225.08 437.7 L225.46 437.87 L225.83 437.61 L226.21 437.41 L226.58 437.1 L226.95 436.88 L227.33 437.11 L227.7 436.72 L228.08 436.55 L228.45 436.79 L228.83 436.33 L229.2 437.25 L229.58 436.69 L229.95 436.78 L230.33 436.78 L230.7 436.86 L231.07 436.82 L231.45 436.44 L231.82 436.69 L232.2 436.44 L232.57 436.63 L232.95 435.69 L233.32 436.25 L233.7 436.55 L234.07 436.71 L234.45 436.92 L234.82 436.44 L235.2 435.92 L235.57 436.29 L235.94 438.5 L236.32 442.6 L236.69 446.99 L237.07 450.39 L237.44 453.63 L237.82 456.15 L238.19 458.75 L238.57 461.12 L238.94 462.95 L239.32 464.16 L239.69 465.74 L240.07 467.06 L240.44 467.9 L240.81 469.56 L241.19 470.05 L241.56 471.59 L241.94 471.7 L242.31 472.54 L242.69 472.95 L243.06 473.56 L243.44 473.31 L243.81 474.19 L244.19 474.22 L244.56 474.97 L244.94 475.01 L245.31 475.38 L245.68 475.72 L246.06 475.73 L246.43 475.66 L246.81 475.52 L247.18 476.05 L247.56 476.55 L247.93 475.95 L248.31 476.49 L248.68 476.25 L249.06 476.81 L249.43 476.54 L249.8 476.5 L250.18 476.64 L250.55 476.42 L250.93 476.97 L251.3 476.4 L251.68 477.16 L252.05 476.35 L252.43 476.5 L252.8 476.68 L253.18 477.3 L253.55 476.71 L253.93 477.06 L254.3 477.06 L254.67 476.9 L255.05 476.44 L255.42 477.02 L255.8 470.67 L256.17 460.39 L256.55 453.09 L256.92 448.79 L257.3 445.53 L257.67 442.76 L258.05 441.81 L258.42 440.8 L258.8 440.35 L259.17 439.84 L259.54 439.35 L259.92 438.69 L260.29 438.03 L260.67 438.51 L261.04 438.11 L261.42 437.84 L261.79 438.27 L262.17 437.86 L262.54 437.94 L262.92 437.53 L263.29 437.71 L263.66 437.6 L264.04 437.89 L264.41 437.26 L264.79 437.11 L265.16 436.89 L265.54 437.07 L265.91 436.49 L266.29 437.32 L266.66 437 L267.04 437.18 L267.41 436.54 L267.79 436.25 L268.16 436.54 L268.53 436.22 L268.91 436.21 L269.28 436.81 L269.66 436.6 L270.03 436.48 L270.41 436.51 L270.78 436.73 L271.16 436.64 L271.53 435.63 L271.91 435.72 L272.28 436.19 L272.66 436.11 L273.03 436.84 L273.4 438.78 L273.78 443.31 L274.15 447.03 L274.53 450.38 L274.9 453.21 L275.28 456.59 L275.65 458.84 L276.03 461.33 L276.4 462.9 L276.78 464.94 L277.15 465.66 L277.53 467.15 L277.9 468.45 L278.27 469.58 L278.65 470.26 L279.02 471.12 L279.4 472.09 L279.77 472.63 L280.15 472.76 L280.52 473.59 L280.9 474.32 L281.27 474.07 L281.65 474.05 L282.02 474.75 L282.39 475.39 L282.77 475.47 L283.14 475.34 L283.52 475.5 L283.89 475.76 L284.27 475.93 L284.64 475.94 L285.02 476.09 L285.39 476.57 L285.77 477.02 L286.14 476.45 L286.52 476.41 L286.89 476.19 L287.26 476.84 L287.64 476.83 L288.01 477.1 L288.39 477.04 L288.76 476.51 L289.14 476.08 L289.51 476.79 L289.89 476.69 L290.26 476.56 L290.64 477.09 L291.01 476.79 L291.39 476.51 L291.76 477.33 L292.13 476.6 L292.51 476.47 L292.88 476.54 L293.26 446.71 L293.63 413.76 L294.01 398.45 L294.38 392.82 L294.76 389.71 L295.13 388.11 L295.51 387.81 L295.88 387.74 L296.26 387.88 L296.63 387.97 L297 388.58 L297.38 388.02 L297.75 388.61 L298.13 388.94 L298.5 388.91 L298.88 389.24 L299.25 389.19 L299.63 389.71 L300 389.85 L300.38 390.29 L300.75 390.24 L301.12 390.2 L301.5 390.34 L301.87 389.73 L302.25 390.28 L302.62 390.57 L303 390.36 L303.37 390.32 L303.75 390.63 L304.12 391.21 L304.5 391.18 L304.87 390.84 L305.25 391.62 L305.62 391.5 L305.99 391.75 L306.37 391.58 L306.74 391.81 L307.12 391.71 L307.49 391.51 L307.87 392.15 L308.24 391.02 L308.62 391.66 L308.99 391.96 L309.37 391.56 L309.74 391.81 L310.12 391.91 L310.49 392 L310.86 397.62 L311.24 409.71 L311.61 419.76 L311.99 428.19 L312.36 435.56 L312.74 441.6 L313.11 447.02 L313.49 451.26 L313.86 454.99 L314.24 458.51 L314.61 461.33 L314.99 463.06 L315.36 465.43 L315.73 466.89 L316.11 468.45 L316.48 469.92 L316.86 470.95 L317.23 471.49 L317.61 472.43 L317.98 473.05 L318.36 473.51 L318.73 473.37 L319.11 474 L319.48 474.32 L319.86 474.82 L320.23 475.64 L320.6 475.11 L320.98 474.84 L321.35 475.49 L321.73 475.43 L322.1 476.29 L322.48 475.92 L322.85 476 L323.23 475.9 L323.6 476.3 L323.98 476.16 L324.35 476.79 L324.72 476.64 L325.1 476.57 L325.47 476.39 L325.85 476.38 L326.22 476.95 L326.6 476.47 L326.97 476.08 L327.35 476.58 L327.72 476.22 L328.1 476.31 L328.47 476.35 L328.85 476.61 L329.22 477.02 L329.59 476.88 L329.97 476.47 L330.34 476.32 L330.72 447.02 L331.09 413.21 L331.47 399.28 L331.84 392.25 L332.22 389.19 L332.59 388.1 L332.97 387.95 L333.34 388.05 L333.72 388.06 L334.09 388.06 L334.46 387.94 L334.84 388.54 L335.21 388.85 L335.59 388.71 L335.96 388.38 L336.34 389.26 L336.71 389.65 L337.09 389.4 L337.46 389.43 L337.84 389.74 L338.21 389.65 L338.58 389.9 L338.96 390.05 L339.33 389.81 L339.71 389.91 L340.08 390.1 L340.46 390.34 L340.83 390.68 L341.21 390.69 L341.58 390.8 L341.96 391.06 L342.33 390.91 L342.71 391.29 L343.08 391 L343.45 391.26 L343.83 391.33 L344.2 391.47 L344.58 391.84 L344.95 391.63 L345.33 392.03 L345.7 391.53 L346.08 391.75 L346.45 391.66 L346.83 391.59 L347.2 391.39 L347.58 392.33 L347.95 391.98 L348.32 397.6 L348.7 409.42 L349.07 419.32 L349.45 428.35 L349.82 435.13 L350.2 441.48 L350.57 447.55 L350.95 451.89 L351.32 455.32 L351.7 458.33 L352.07 460.89 L352.45 463.02 L352.82 464.93 L353.19 466.67 L353.57 468.77 L353.94 469.38 L354.32 470.58 L354.69 471.48 L355.07 472.08 L355.44 473.03 L355.82 473.16 L356.19 473.83 L356.57 474.52 L356.94 474.56 L357.31 475.03 L357.69 475.14 L358.06 474.86 L358.44 475.36 L358.81 475.28 L359.19 475.62 L359.56 476.43 L359.94 475.49 L360.31 476.07 L360.69 476.27 L361.06 477.12 L361.44 476.2 L361.81 476.9 L362.18 476.05 L362.56 476.66 L362.93 476.42 L363.31 476.6 L363.68 476.71 L364.06 476.6 L364.43 476.09 L364.81 476.87 L365.18 476.74 L365.56 476.26 L365.93 476.96 L366.31 476.86 L366.68 476.95 L367.05 476.99 L367.43 476.52 L367.8 476.53 L368.18 447.04 L368.55 413.63 L368.93 399.13 L369.3 392.63 L369.68 389.62 L370.05 388.19 L370.43 387.52 L370.8 387.52 L371.18 388.5 L371.55 388.09 L371.92 388.08 L372.3 388.71 L372.67 388.43 L373.05 389.29 L373.42 389.18 L373.8 389.39 L374.17 389.14 L374.55 389.25 L374.92 389.97 L375.3 389.65 L375.67 389.67 L376.05 390 L376.42 390.26 L376.79 390.68 L377.17 390.45 L377.54 390.64 L377.92 390.14 L378.29 390.82 L378.67 390.86 L379.04 391.52 L379.42 390.74 L379.79 391.33 L380.17 390.67 L380.54 391.34 L380.91 391.02 L381.29 391.04 L381.66 391.15 L382.04 391.6 L382.41 391.47 L382.79 391.61 L383.16 391.93 L383.54 392.23 L383.91 392.22 L384.29 392.11 L384.66 391.81 L385.04 392.22 L385.41 391.97 L385.78 397.54 L386.16 409.74 L386.53 419.62 L386.91 428.36 L387.28 435.73 L387.66 441.8 L388.03 447.01 L388.41 451.89 L388.78 454.91 L389.16 458.98 L389.53 461.01 L389.91 463.18 L390.28 464.95 L390.65 466.82 L391.03 468.04 L391.4 469.39 L391.78 470.93 L392.15 470.78 L392.53 472.02 L392.9 473.43 L393.28 473.54 L393.65 473.53 L394.03 474.44 L394.4 474.55 L394.78 475.31 L395.15 475.02 L395.52 474.82 L395.9 474.92 L396.27 474.91 L396.65 475.79 L397.02 475.72 L397.4 476.34 L397.77 476.05 L398.15 475.91 L398.52 476.32 L398.9 476.32 L399.27 476.73 L399.64 476.25 L400.02 476.27 L400.39 476.91 L400.77 476.22 L401.14 476.52 L401.52 476.75 L401.89 476.19 L402.27 476.56 L402.64 476.02 L403.02 476.86 L403.39 476.74 L403.77 476.72 L404.14 477.39" fill="none" stroke="#1f6fe6" stroke-width="1.5" stroke-linejoin="round" stroke-linecap="round" />
<path d="M67 476.65 L67.37 477.04 L67.75 477.14 L68.12 476.89 L68.5 476.01 L68.87 475.28 L69.25 474.7 L69.62 473.52 L70 472.88 L70.37 472.09 L70.75 471.58 L71.12 471.55 L71.5 470.43 L71.87 470.07 L72.24 469.88 L72.62 468.96 L72.99 468.02 L73.37 468.27 L73.74 467.73 L74.12 466.88 L74.49 467.31 L74.87 466.07 L75.24 465.74 L75.62 466.08 L75.99 465.07 L76.36 465.08 L76.74 465.06 L77.11 463.65 L77.49 464.42 L77.86 464.26 L78.24 463.54 L78.61 463.1 L78.99 463.39 L79.36 462.96 L79.74 462.43 L80.11 462.55 L80.49 462.22 L80.86 462.78 L81.23 462.27 L81.61 461.8 L81.98 462.22 L82.36 461.92 L82.73 461.77 L83.11 460.91 L83.48 461.44 L83.86 461.35 L84.23 461.01 L84.61 461.46 L84.98 461.39 L85.36 461.09 L85.73 460.39 L86.1 460.73 L86.48 461.77 L86.85 462.77 L87.23 463.84 L87.6 464.8 L87.98 465.21 L88.35 466.08 L88.73 466.88 L89.1 467.65 L89.48 468.19 L89.85 468.4 L90.23 469.21 L90.6 469.93 L90.97 469.77 L91.35 471.15 L91.72 470.75 L92.1 471.81 L92.47 471.41 L92.85 471.8 L93.22 472.64 L93.6 472.61 L93.97 472.69 L94.35 473.66 L94.72 474.01 L95.09 473.37 L95.47 474.22 L95.84 474.25 L96.22 474.02 L96.59 474.86 L96.97 474.68 L97.34 474.56 L97.72 475.27 L98.09 475.03 L98.47 475.16 L98.84 475.35 L99.22 475.59 L99.59 475.5 L99.96 475.71 L100.34 475.49 L100.71 476.03 L101.09 475.48 L101.46 476.02 L101.84 475.56 L102.21 475.63 L102.59 476.3 L102.96 475.94 L103.34 476.13 L103.71 476.22 L104.09 476.1 L104.46 476.33 L104.83 476.75 L105.21 476.64 L105.58 476.47 L105.96 475.73 L106.33 475.47 L106.71 474.16 L107.08 473.23 L107.46 473.29 L107.83 472.54 L108.21 471.27 L108.58 470.87 L108.96 470.94 L109.33 469.27 L109.7 469.12 L110.08 469.26 L110.45 468.52 L110.83 467.8 L111.2 467.44 L111.58 466.81 L111.95 466.63 L112.33 466.26 L112.7 466.01 L113.08 465.65 L113.45 465.15 L113.83 465.12 L114.2 464.41 L114.57 464.35 L114.95 464.71 L115.32 463.73 L115.7 463.44 L116.07 462.73 L116.45 463.08 L116.82 463.15 L117.2 463.25 L117.57 462.77 L117.95 462.33 L118.32 462.05 L118.69 462.46 L119.07 462.41 L119.44 461.74 L119.82 462.2 L120.19 462.03 L120.57 461.42 L120.94 461.36 L121.32 461.29 L121.69 461.17 L122.07 461.81 L122.44 461.13 L122.82 461.08 L123.19 460.79 L123.56 461.21 L123.94 461.98 L124.31 462.97 L124.69 464.5 L125.06 465.35 L125.44 465.26 L125.81 466.07 L126.19 466.71 L126.56 467.43 L126.94 468.24 L127.31 468.54 L127.69 469.39 L128.06 469.77 L128.43 470.43 L128.81 471.23 L129.18 471.51 L129.56 471.46 L129.93 471.51 L130.31 472.27 L130.68 472.41 L131.06 472.93 L131.43 473.52 L131.81 473.36 L132.18 473.49 L132.56 473.82 L132.93 474.1 L133.3 474.08 L133.68 474.3 L134.05 474.36 L134.43 474.58 L134.8 474.8 L135.18 474.97 L135.55 475.21 L135.93 475.56 L136.3 475.11 L136.68 475.59 L137.05 475.29 L137.42 475.56 L137.8 475.7 L138.17 476.07 L138.55 476.39 L138.92 475.47 L139.3 476.38 L139.67 476.18 L140.05 476.22 L140.42 476.33 L140.8 476.44 L141.17 476.58 L141.55 476.22 L141.92 476.33 L142.29 476.46 L142.67 476.44 L143.04 476.69 L143.42 476 L143.79 475.41 L144.17 474.06 L144.54 473.27 L144.92 472.8 L145.29 472.49 L145.67 471.85 L146.04 470.87 L146.42 469.93 L146.79 469.94 L147.16 469.2 L147.54 468.41 L147.91 468.56 L148.29 467.52 L148.66 466.94 L149.04 467 L149.41 466.84 L149.79 466.55 L150.16 465.68 L150.54 465.61 L150.91 464.84 L151.28 464.56 L151.66 464.4 L152.03 464.27 L152.41 464.04 L152.78 463.71 L153.16 463.08 L153.53 463.69 L153.91 462.87 L154.28 463.11 L154.66 462.63 L155.03 463.05 L155.41 462.1 L155.78 462.56 L156.15 462.25 L156.53 462.44 L156.9 461.95 L157.28 461.98 L157.65 461.64 L158.03 461.08 L158.4 461.34 L158.78 461.82 L159.15 461.98 L159.53 461.17 L159.9 461.44 L160.28 460.74 L160.65 460.97 L161.02 460.78 L161.4 461.5 L161.77 462.62 L162.15 463.85 L162.52 464.86 L162.9 465.03 L163.27 466.14 L163.65 466.71 L164.02 467.5 L164.4 467.79 L164.77 468.68 L165.15 469.32 L165.52 469.41 L165.89 470.19 L166.27 470.36 L166.64 470.74 L167.02 471.56 L167.39 471.47 L167.77 471.89 L168.14 472.03 L168.52 472.74 L168.89 472.89 L169.27 473.16 L169.64 473.15 L170.01 474.14 L170.39 474.09 L170.76 474.11 L171.14 474.19 L171.51 474.23 L171.89 474.41 L172.26 475.2 L172.64 474.98 L173.01 474.62 L173.39 475.79 L173.76 475.08 L174.14 475.62 L174.51 475.59 L174.88 475.48 L175.26 475.28 L175.63 475.66 L176.01 475.37 L176.38 475.68 L176.76 475.89 L177.13 475.62 L177.51 475.66 L177.88 476.08 L178.26 476.85 L178.63 475.93 L179.01 477 L179.38 476.86 L179.75 476.66 L180.13 476.69 L180.5 476.05 L180.88 472.73 L181.25 467.84 L181.63 463.28 L182 459.67 L182.38 455.64 L182.75 451.45 L183.13 447.98 L183.5 445.1 L183.88 442.45 L184.25 439.51 L184.62 437.07 L185 434.83 L185.37 432.97 L185.75 430.86 L186.12 428.83 L186.5 427.15 L186.87 426.59 L187.25 424.58 L187.62 423.09 L188 421.76 L188.37 421.28 L188.75 420.36 L189.12 419.38 L189.49 418.37 L189.87 417.63 L190.24 416.99 L190.62 415.95 L190.99 415.04 L191.37 414.89 L191.74 414.47 L192.12 413.19 L192.49 413.49 L192.87 413.01 L193.24 412.42 L193.61 412.03 L193.99 411.56 L194.36 411.84 L194.74 411.19 L195.11 411.1 L195.49 411.06 L195.86 409.87 L196.24 410.2 L196.61 409.86 L196.99 409.8 L197.36 409.85 L197.74 409.62 L198.11 408.76 L198.48 410.16 L198.86 414.36 L199.23 418.21 L199.61 422.11 L199.98 425.55 L200.36 429.12 L200.73 431.33 L201.11 434.63 L201.48 437.11 L201.86 439.47 L202.23 442.14 L202.61 444.44 L202.98 446.18 L203.35 448.1 L203.73 449.63 L204.1 451.94 L204.48 453.63 L204.85 454.57 L205.23 455.98 L205.6 457.17 L205.98 458.73 L206.35 459.65 L206.73 459.93 L207.1 461.47 L207.47 462.61 L207.85 463.14 L208.22 463.9 L208.6 465.21 L208.97 465.47 L209.35 465.91 L209.72 467.18 L210.1 467.93 L210.47 467.84 L210.85 468.08 L211.22 468.17 L211.6 468.88 L211.97 468.99 L212.34 470.18 L212.72 470.26 L213.09 471.11 L213.47 471.03 L213.84 470.87 L214.22 471.6 L214.59 471.93 L214.97 471.83 L215.34 472.46 L215.72 472.45 L216.09 472.52 L216.47 473.28 L216.84 472.66 L217.21 472.87 L217.59 473.27 L217.96 473.43 L218.34 473.12 L218.71 468.13 L219.09 463.44 L219.46 458.65 L219.84 454.91 L220.21 451.34 L220.59 448.58 L220.96 444.79 L221.34 442.08 L221.71 440.14 L222.08 437.68 L222.46 434.89 L222.83 432.86 L223.21 431.11 L223.58 428.59 L223.96 427.46 L224.33 425.68 L224.71 424.84 L225.08 423.03 L225.46 421.73 L225.83 421.21 L226.21 419.5 L226.58 419.04 L226.95 417.97 L227.33 417.12 L227.7 416.91 L228.08 415.48 L228.45 415.94 L228.83 414.48 L229.2 414.28 L229.58 413.8 L229.95 413.59 L230.33 412.83 L230.7 411.72 L231.07 411.5 L231.45 411.64 L231.82 411.99 L232.2 411.39 L232.57 411.19 L232.95 411.16 L233.32 410.42 L233.7 410.43 L234.07 410.07 L234.45 409.54 L234.82 409.37 L235.2 410.03 L235.57 409.62 L235.94 410.07 L236.32 413.89 L236.69 418.04 L237.07 421.74 L237.44 425.17 L237.82 428.16 L238.19 431.67 L238.57 434.37 L238.94 437.3 L239.32 440.03 L239.69 442.21 L240.07 444.01 L240.44 446.55 L240.81 448.11 L241.19 450.17 L241.56 451.59 L241.94 452.65 L242.31 454.63 L242.69 456.34 L243.06 456.77 L243.44 458.33 L243.81 459.34 L244.19 460.84 L244.56 461.07 L244.94 462.74 L245.31 463.54 L245.68 463.7 L246.06 465.08 L246.43 465.77 L246.81 465.93 L247.18 467.11 L247.56 467.13 L247.93 467.34 L248.31 468.2 L248.68 468.51 L249.06 469.29 L249.43 469.19 L249.8 469.96 L250.18 470.75 L250.55 470.28 L250.93 470.84 L251.3 470.92 L251.68 472.18 L252.05 472.04 L252.43 471.75 L252.8 472.63 L253.18 472.89 L253.55 473 L253.93 472.72 L254.3 473.07 L254.67 473.22 L255.05 474.19 L255.42 473.6 L255.8 472.98 L256.17 468.19 L256.55 463.37 L256.92 459.11 L257.3 455.36 L257.67 451.79 L258.05 448.35 L258.42 444.69 L258.8 441.98 L259.17 439.41 L259.54 437.47 L259.92 435.13 L260.29 432.79 L260.67 431.07 L261.04 429.53 L261.42 427.76 L261.79 426.1 L262.17 424.5 L262.54 423.19 L262.92 422.37 L263.29 420.8 L263.66 420.48 L264.04 418.91 L264.41 418.09 L264.79 417.38 L265.16 416.83 L265.54 416.02 L265.91 415.29 L266.29 414.65 L266.66 414.28 L267.04 413.85 L267.41 413.71 L267.79 412.78 L268.16 412.06 L268.53 411.71 L268.91 411.54 L269.28 411.22 L269.66 410.98 L270.03 410.58 L270.41 410.49 L270.78 410.62 L271.16 410.08 L271.53 409.66 L271.91 410.26 L272.28 409.76 L272.66 409.39 L273.03 409.24 L273.4 410.06 L273.78 414.44 L274.15 418.46 L274.53 421.73 L274.9 425.38 L275.28 428.57 L275.65 432.02 L276.03 434.31 L276.4 436.99 L276.78 440.05 L277.15 442.26 L277.53 444.31 L277.9 446.31 L278.27 447.9 L278.65 449.25 L279.02 451.21 L279.4 453.35 L279.77 454.63 L280.15 456.09 L280.52 457.32 L280.9 458.54 L281.27 459.55 L281.65 460.65 L282.02 461.47 L282.39 462.4 L282.77 462.63 L283.14 464 L283.52 464.39 L283.89 464.72 L284.27 466.44 L284.64 466.54 L285.02 467.31 L285.39 467.56 L285.77 468.84 L286.14 469 L286.52 469.22 L286.89 470.12 L287.26 469.85 L287.64 469.7 L288.01 470.73 L288.39 470.67 L288.76 471.55 L289.14 471.42 L289.51 471.51 L289.89 471.89 L290.26 472.17 L290.64 472.59 L291.01 472.56 L291.39 473.59 L291.76 473.24 L292.13 473.13 L292.51 473.31 L292.88 473.16 L293.26 464.74 L293.63 444.15 L294.01 428.42 L294.38 415.76 L294.76 405.81 L295.13 397.53 L295.51 390.36 L295.88 385.54 L296.26 380.78 L296.63 377.19 L297 374.25 L297.38 372.04 L297.75 369.71 L298.13 368.78 L298.5 366.63 L298.88 365.68 L299.25 364.84 L299.63 364.76 L300 363.78 L300.38 363.04 L300.75 362.76 L301.12 362.5 L301.5 362.26 L301.87 362.17 L302.25 361.77 L302.62 361.06 L303 360.96 L303.37 361.12 L303.75 361.29 L304.12 360.92 L304.5 360.74 L304.87 360.66 L305.25 359.29 L305.62 359.83 L305.99 359.97 L306.37 360.01 L306.74 359.84 L307.12 359.71 L307.49 359.56 L307.87 359.98 L308.24 359.04 L308.62 359.99 L308.99 359.52 L309.37 359.12 L309.74 359.58 L310.12 359.77 L310.49 359.52 L310.86 358.49 L311.24 366.26 L311.61 372.95 L311.99 380.22 L312.36 386.52 L312.74 392.63 L313.11 398.49 L313.49 403.27 L313.86 408.02 L314.24 412.85 L314.61 416.73 L314.99 420.52 L315.36 425.18 L315.73 428.09 L316.11 431.02 L316.48 434.64 L316.86 436.61 L317.23 438.8 L317.61 441.69 L317.98 444.2 L318.36 445.94 L318.73 447.27 L319.11 449.66 L319.48 451.33 L319.86 452.72 L320.23 453.98 L320.6 455.78 L320.98 456.88 L321.35 457.77 L321.73 458.97 L322.1 459.72 L322.48 461.29 L322.85 461.55 L323.23 462.17 L323.6 463.08 L323.98 464.33 L324.35 464.71 L324.72 464.98 L325.1 466.52 L325.47 466.8 L325.85 467.43 L326.22 467.57 L326.6 468.14 L326.97 468.55 L327.35 468.89 L327.72 469.17 L328.1 469.64 L328.47 470.24 L328.85 470.04 L329.22 470.13 L329.59 470.91 L329.97 471.24 L330.34 470.95 L330.72 464.69 L331.09 444.39 L331.47 428.87 L331.84 416 L332.22 405.61 L332.59 397.31 L332.97 390.74 L333.34 385.75 L333.72 380.29 L334.09 376.63 L334.46 374.17 L334.84 372.37 L335.21 369.64 L335.59 368.31 L335.96 366.66 L336.34 366.13 L336.71 365.15 L337.09 364.42 L337.46 364.18 L337.84 363.43 L338.21 363.13 L338.58 362.58 L338.96 362.43 L339.33 362.01 L339.71 361.3 L340.08 361.32 L340.46 361.35 L340.83 360.82 L341.21 360.49 L341.58 360.85 L341.96 360.84 L342.33 360.93 L342.71 360.17 L343.08 360.1 L343.45 360.71 L343.83 359.67 L344.2 359.37 L344.58 359.56 L344.95 359.11 L345.33 359.68 L345.7 359.99 L346.08 359.33 L346.45 359.54 L346.83 359.32 L347.2 359.36 L347.58 359.97 L347.95 359.46 L348.32 358.53 L348.7 366.24 L349.07 373.38 L349.45 380.09 L349.82 386.73 L350.2 392.71 L350.57 398.4 L350.95 403.78 L351.32 408.33 L351.7 412.76 L352.07 417.15 L352.45 421.08 L352.82 424.32 L353.19 427.85 L353.57 430.53 L353.94 434.02 L354.32 436.9 L354.69 439.37 L355.07 441.05 L355.44 443.7 L355.82 446.13 L356.19 447.58 L356.57 449.83 L356.94 451.38 L357.31 452.84 L357.69 454.08 L358.06 455.92 L358.44 456.51 L358.81 458.12 L359.19 459.33 L359.56 460.1 L359.94 460.84 L360.31 461.38 L360.69 463.22 L361.06 463.6 L361.44 464.47 L361.81 464.75 L362.18 465.28 L362.56 466.22 L362.93 466.38 L363.31 467.22 L363.68 467.3 L364.06 468.39 L364.43 468.14 L364.81 469.81 L365.18 469.83 L365.56 469.57 L365.93 469.75 L366.31 470.77 L366.68 470.81 L367.05 470.84 L367.43 471.37 L367.8 471.08 L368.18 464.9 L368.55 444.34 L368.93 428.31 L369.3 415.83 L369.68 405.86 L370.05 397.34 L370.43 390.82 L370.8 385.43 L371.18 381.41 L371.55 376.69 L371.92 374.48 L372.3 372.15 L372.67 370.37 L373.05 368.55 L373.42 367.22 L373.8 366.91 L374.17 364.89 L374.55 364.48 L374.92 363.85 L375.3 363.78 L375.67 362.96 L376.05 362.65 L376.42 361.74 L376.79 362.13 L377.17 361.58 L377.54 361.55 L377.92 361.36 L378.29 361.12 L378.67 361.32 L379.04 360.64 L379.42 360.36 L379.79 360.28 L380.17 360.17 L380.54 360.29 L380.91 359.95 L381.29 360.03 L381.66 359.85 L382.04 359.52 L382.41 359.58 L382.79 359.55 L383.16 359.97 L383.54 360.19 L383.91 359.46 L384.29 359.32 L384.66 359.29 L385.04 359.19 L385.41 359.43 L385.78 359.23 L386.16 366.1 L386.53 373.47 L386.91 380.3 L387.28 386.43 L387.66 392.3 L388.03 398.14 L388.41 403.1 L388.78 408.12 L389.16 413.02 L389.53 417.05 L389.91 421.17 L390.28 424.64 L390.65 427.79 L391.03 431.03 L391.4 433.89 L391.78 437.07 L392.15 439.5 L392.53 441.52 L392.9 443.52 L393.28 445.2 L393.65 448.25 L394.03 449.85 L394.4 451.05 L394.78 452.83 L395.15 454.11 L395.52 455.24 L395.9 457.11 L396.27 458.27 L396.65 459.18 L397.02 460.05 L397.4 460.94 L397.77 461.74 L398.15 462.94 L398.52 463.44 L398.9 464.29 L399.27 464.5 L399.64 465.22 L400.02 465.99 L400.39 466.83 L400.77 467.94 L401.14 467.31 L401.52 468.58 L401.89 468.94 L402.27 468.88 L402.64 469 L403.02 469.8 L403.39 470.2 L403.77 470.54 L404.14 470.56" fill="none" stroke="#2ba25f" stroke-width="1.5" stroke-linejoin="round" stroke-linecap="round" />
</g>
<text x="89.5" y="455.5" font-size="14.6" fill="#222" text-anchor="start">1 mW·cm<tspan font-size="9.5" dy="-5">-2</tspan></text>
<text x="198" y="402.5" font-size="14.6" fill="#222" text-anchor="start">15 mW·cm<tspan font-size="9.5" dy="-5">-2</tspan></text>
<text x="306" y="352" font-size="14.6" fill="#222" text-anchor="start">30 mW·cm<tspan font-size="9.5" dy="-5">-2</tspan></text>
<line x1="78.5" y1="301.5" x2="114.7" y2="301.5" stroke="#4a4a4a" stroke-width="1.8" />
<text x="121.5" y="307.7" font-size="12.6" fill="#222">Az<tspan font-size="8.4" dy="2.5">20</tspan><tspan dy="-2.5">PTMG</tspan><tspan font-size="8.4" dy="2.5">80</tspan></text>
<line x1="78.5" y1="320.4" x2="114.7" y2="320.4" stroke="#ee3b3b" stroke-width="1.8" />
<text x="121.5" y="326.3" font-size="12.6" fill="#222">Az<tspan font-size="8.4" dy="2.5">30</tspan><tspan dy="-2.5">PTMG</tspan><tspan font-size="8.4" dy="2.5">70</tspan></text>
<line x1="78.5" y1="339.2" x2="114.7" y2="339.2" stroke="#1f6fe6" stroke-width="1.8" />
<text x="121.5" y="344.8" font-size="12.6" fill="#222">Az<tspan font-size="8.4" dy="2.5">40</tspan><tspan dy="-2.5">PTMG</tspan><tspan font-size="8.4" dy="2.5">60</tspan></text>
<line x1="78.5" y1="358.3" x2="114.7" y2="358.3" stroke="#2ba25f" stroke-width="1.8" />
<text x="121.5" y="363.4" font-size="12.6" fill="#222">Az<tspan font-size="8.4" dy="2.5">50</tspan><tspan dy="-2.5">PTMG</tspan><tspan font-size="8.4" dy="2.5">50</tspan></text>
<rect x="460.6" y="287.9" width="348.4" height="233.5" fill="#fff" stroke="#222" stroke-width="1.7"/>
<line x1="455.6" y1="517" x2="460.6" y2="517" stroke="#222" stroke-width="1.9" />
<text x="453.6" y="521.3" font-size="12.5" text-anchor="end" fill="#222" >0</text>
<line x1="457.6" y1="494.1" x2="460.6" y2="494.1" stroke="#222" stroke-width="1.5" />
<line x1="455.6" y1="471.2" x2="460.6" y2="471.2" stroke="#222" stroke-width="1.9" />
<text x="453.6" y="475.5" font-size="12.5" text-anchor="end" fill="#222" >10</text>
<line x1="457.6" y1="448.3" x2="460.6" y2="448.3" stroke="#222" stroke-width="1.5" />
<line x1="455.6" y1="425.4" x2="460.6" y2="425.4" stroke="#222" stroke-width="1.9" />
<text x="453.6" y="429.7" font-size="12.5" text-anchor="end" fill="#222" >20</text>
<line x1="457.6" y1="402.5" x2="460.6" y2="402.5" stroke="#222" stroke-width="1.5" />
<line x1="455.6" y1="379.6" x2="460.6" y2="379.6" stroke="#222" stroke-width="1.9" />
<text x="453.6" y="383.9" font-size="12.5" text-anchor="end" fill="#222" >30</text>
<line x1="457.6" y1="356.7" x2="460.6" y2="356.7" stroke="#222" stroke-width="1.5" />
<line x1="455.6" y1="333.8" x2="460.6" y2="333.8" stroke="#222" stroke-width="1.9" />
<text x="453.6" y="338.1" font-size="12.5" text-anchor="end" fill="#222" >40</text>
<line x1="457.6" y1="310.9" x2="460.6" y2="310.9" stroke="#222" stroke-width="1.5" />
<line x1="455.6" y1="288" x2="460.6" y2="288" stroke="#222" stroke-width="1.9" />
<text x="453.6" y="292.3" font-size="12.5" text-anchor="end" fill="#222" >50</text>
<line x1="469.2" y1="521.4" x2="469.2" y2="526.4" stroke="#222" stroke-width="1.9" />
<text x="469.2" y="539.1" font-size="12.5" text-anchor="middle" fill="#222" >0</text>
<line x1="510.55" y1="521.4" x2="510.55" y2="524.4" stroke="#222" stroke-width="1.5" />
<line x1="551.9" y1="521.4" x2="551.9" y2="526.4" stroke="#222" stroke-width="1.9" />
<text x="551.9" y="539.1" font-size="12.5" text-anchor="middle" fill="#222" >5</text>
<line x1="593.25" y1="521.4" x2="593.25" y2="524.4" stroke="#222" stroke-width="1.5" />
<line x1="634.6" y1="521.4" x2="634.6" y2="526.4" stroke="#222" stroke-width="1.9" />
<text x="634.6" y="539.1" font-size="12.5" text-anchor="middle" fill="#222" >10</text>
<line x1="675.95" y1="521.4" x2="675.95" y2="524.4" stroke="#222" stroke-width="1.5" />
<line x1="717.3" y1="521.4" x2="717.3" y2="526.4" stroke="#222" stroke-width="1.9" />
<text x="717.3" y="539.1" font-size="12.5" text-anchor="middle" fill="#222" >15</text>
<line x1="758.65" y1="521.4" x2="758.65" y2="524.4" stroke="#222" stroke-width="1.5" />
<line x1="800" y1="521.4" x2="800" y2="526.4" stroke="#222" stroke-width="1.9" />
<text x="800" y="539.1" font-size="12.5" text-anchor="middle" fill="#222" >20</text>
<text x="640.5" y="557" font-size="17.7" text-anchor="middle" fill="#222">UV Intensity(mW·cm<tspan font-size="11.5" dy="-6">-2</tspan><tspan dy="6">)</tspan></text>
<text transform="translate(430.5,393) rotate(-90)" font-size="19" text-anchor="middle" fill="#222">Δ<tspan font-style="italic">I</tspan><tspan font-size="13" dy="4">sc</tspan><tspan dy="-4">(nA)</tspan></text>
<text x="414" y="294" font-size="20.5" text-anchor="start" fill="#222" >d)</text>
<path d="M469.2 505.42 L470.7 511.06 L470.1 516.31 L470.7 521.57 L469.2 527.2 L467.7 521.57 L468.3 516.31 L467.7 511.06Z" fill="#e619d8"/>
<path d="M485.74 488.02 L487.24 493.45 L486.64 498.45 L487.24 503.45 L485.74 508.88 L484.24 503.45 L484.84 498.45 L484.24 493.45Z" fill="#e619d8"/>
<path d="M502.28 471.07 L503.78 475.9 L503.18 480.13 L503.78 484.36 L502.28 489.19 L500.78 484.36 L501.38 480.13 L500.78 475.9Z" fill="#e619d8"/>
<path d="M634.6 466.95 L636.1 473.09 L635.5 478.99 L636.1 484.89 L634.6 491.02 L633.1 484.89 L633.7 478.99 L633.1 473.09Z" fill="#e619d8"/>
<path d="M800 362.53 L801.5 367.45 L800.9 371.81 L801.5 376.17 L800 381.1 L798.5 376.17 L799.1 371.81 L798.5 367.45Z" fill="#e619d8"/>
<path d="M800 402.37 L801.5 409.72 L800.9 417.16 L801.5 424.59 L800 431.94 L798.5 424.59 L799.1 417.16 L798.5 409.72Z" fill="#e619d8"/>
<line x1="469.2" y1="516.54" x2="634.6" y2="478.99" stroke="#4a4a4a" stroke-width="1.6" />
<line x1="469.2" y1="516.08" x2="800" y2="420.82" stroke="#ee3b3b" stroke-width="1.8" />
<line x1="485.74" y1="495.02" x2="800" y2="410.29" stroke="#1f6fe6" stroke-width="1.8" />
<line x1="502.28" y1="476.7" x2="800" y2="369.07" stroke="#2ba25f" stroke-width="1.8" />
<rect x="467.73" y="514.01" width="4.6" height="4.6" fill="#4a4a4a"/>
<rect x="468.55" y="513.78" width="4.6" height="4.6" fill="#4a4a4a"/>
<rect x="470.21" y="513.1" width="4.6" height="4.6" fill="#4a4a4a"/>
<rect x="475.17" y="512.18" width="4.6" height="4.6" fill="#4a4a4a"/>
<circle cx="470.03" cy="515.63" r="2.58" fill="#ee3b3b"/>
<circle cx="470.85" cy="515.17" r="2.58" fill="#ee3b3b"/>
<circle cx="472.51" cy="514.71" r="2.58" fill="#ee3b3b"/>
<circle cx="477.47" cy="513.34" r="2.58" fill="#ee3b3b"/>
<path d="M470.03 510.67 L473.31 516.3 L466.74 516.3Z" fill="#1f6fe6"/>
<path d="M470.85 509.29 L474.14 514.92 L467.57 514.92Z" fill="#1f6fe6"/>
<path d="M472.51 506.54 L475.79 512.17 L469.22 512.17Z" fill="#1f6fe6"/>
<path d="M477.47 501.51 L480.75 507.14 L474.19 507.14Z" fill="#1f6fe6"/>
<path d="M470.03 516.01 L473.31 510.38 L466.74 510.38Z" fill="#2ba25f"/>
<path d="M470.85 515.09 L474.14 509.46 L467.57 509.46Z" fill="#2ba25f"/>
<path d="M472.51 512.8 L475.79 507.17 L469.22 507.17Z" fill="#2ba25f"/>
<path d="M477.47 510.05 L480.75 504.42 L474.19 504.42Z" fill="#2ba25f"/>
<rect x="482.74" y="509.42" width="6" height="6" fill="#4a4a4a"/>
<circle cx="485.74" cy="510.59" r="3.36" fill="#ee3b3b"/>
<path d="M485.74 501.16 L490.02 493.81 L481.46 493.81Z" fill="#2ba25f"/>
<path d="M485.74 492.77 L490.02 500.11 L481.46 500.11Z" fill="#1f6fe6"/>
<rect x="499.18" y="505.66" width="6.2" height="6.2" fill="#4a4a4a"/>
<rect x="565.34" y="491.46" width="6.2" height="6.2" fill="#4a4a4a"/>
<rect x="631.5" y="476.34" width="6.2" height="6.2" fill="#4a4a4a"/>
<rect x="697.66" y="468.56" width="6.2" height="6.2" fill="#4a4a4a"/>
<rect x="796.9" y="458.94" width="6.2" height="6.2" fill="#4a4a4a"/>
<circle cx="502.28" cy="505.09" r="3.47" fill="#ee3b3b"/>
<circle cx="568.44" cy="485.17" r="3.47" fill="#ee3b3b"/>
<circle cx="634.6" cy="469.37" r="3.47" fill="#ee3b3b"/>
<circle cx="700.76" cy="446.01" r="3.47" fill="#ee3b3b"/>
<circle cx="800" cy="422.65" r="3.47" fill="#ee3b3b"/>
<path d="M502.28 486.22 L506.71 493.81 L497.85 493.81Z" fill="#1f6fe6"/>
<path d="M568.44 465.61 L572.87 473.2 L564.01 473.2Z" fill="#1f6fe6"/>
<path d="M634.6 449.58 L639.03 457.17 L630.17 457.17Z" fill="#1f6fe6"/>
<path d="M700.76 430.8 L705.19 438.39 L696.33 438.39Z" fill="#1f6fe6"/>
<path d="M800 407.9 L804.43 415.49 L795.57 415.49Z" fill="#1f6fe6"/>
<path d="M502.28 486.87 L506.71 479.28 L497.85 479.28Z" fill="#2ba25f"/>
<path d="M568.44 454.81 L572.87 447.22 L564.01 447.22Z" fill="#2ba25f"/>
<path d="M634.6 429.62 L639.03 422.03 L630.17 422.03Z" fill="#2ba25f"/>
<path d="M700.76 407.17 L705.19 399.59 L696.33 399.59Z" fill="#2ba25f"/>
<path d="M800 376.49 L804.43 368.9 L795.57 368.9Z" fill="#2ba25f"/>
<rect x="464.6" y="467.8" width="45" height="50.2" fill="none" stroke="#1a1a1a" stroke-width="1.7" stroke-dasharray="4.2 2.2"/>
<line x1="478" y1="464.5" x2="502.5" y2="405.5" stroke="#111" stroke-width="1.4" />
<path d="M504.3 401.2 L504 409 L498.8 406.8Z" fill="#111"/>
<rect x="479.5" y="291.4" width="139.2" height="94.9" fill="#fff" stroke="#555" stroke-width="1"/>
<line x1="476.5" y1="383.3" x2="479.5" y2="383.3" stroke="#444" stroke-width="1" />
<text x="475" y="387" font-size="10.5" text-anchor="end" fill="#222" >0</text>
<line x1="477.5" y1="373.81" x2="479.5" y2="373.81" stroke="#444" stroke-width="0.8" />
<line x1="476.5" y1="364.32" x2="479.5" y2="364.32" stroke="#444" stroke-width="1" />
<text x="475" y="368.02" font-size="10.5" text-anchor="end" fill="#222" >2</text>
<line x1="477.5" y1="354.83" x2="479.5" y2="354.83" stroke="#444" stroke-width="0.8" />
<line x1="476.5" y1="345.34" x2="479.5" y2="345.34" stroke="#444" stroke-width="1" />
<text x="475" y="349.04" font-size="10.5" text-anchor="end" fill="#222" >4</text>
<line x1="477.5" y1="335.85" x2="479.5" y2="335.85" stroke="#444" stroke-width="0.8" />
<line x1="476.5" y1="326.36" x2="479.5" y2="326.36" stroke="#444" stroke-width="1" />
<text x="475" y="330.06" font-size="10.5" text-anchor="end" fill="#222" >6</text>
<line x1="477.5" y1="316.87" x2="479.5" y2="316.87" stroke="#444" stroke-width="0.8" />
<line x1="476.5" y1="307.38" x2="479.5" y2="307.38" stroke="#444" stroke-width="1" />
<text x="475" y="311.08" font-size="10.5" text-anchor="end" fill="#222" >8</text>
<line x1="477.5" y1="297.89" x2="479.5" y2="297.89" stroke="#444" stroke-width="0.8" />
<line x1="481.3" y1="386.3" x2="481.3" y2="389.3" stroke="#444" stroke-width="1" />
<text x="481.3" y="398.8" font-size="10.5" text-anchor="middle" fill="#222" >0.0</text>
<line x1="496.31" y1="386.3" x2="496.31" y2="388.3" stroke="#444" stroke-width="0.8" />
<line x1="511.32" y1="386.3" x2="511.32" y2="389.3" stroke="#444" stroke-width="1" />
<text x="511.32" y="398.8" font-size="10.5" text-anchor="middle" fill="#222" >0.5</text>
<line x1="526.34" y1="386.3" x2="526.34" y2="388.3" stroke="#444" stroke-width="0.8" />
<line x1="541.35" y1="386.3" x2="541.35" y2="389.3" stroke="#444" stroke-width="1" />
<text x="541.35" y="398.8" font-size="10.5" text-anchor="middle" fill="#222" >1.0</text>
<line x1="556.36" y1="386.3" x2="556.36" y2="388.3" stroke="#444" stroke-width="0.8" />
<line x1="571.38" y1="386.3" x2="571.38" y2="389.3" stroke="#444" stroke-width="1" />
<text x="571.38" y="398.8" font-size="10.5" text-anchor="middle" fill="#222" >1.5</text>
<line x1="586.39" y1="386.3" x2="586.39" y2="388.3" stroke="#444" stroke-width="0.8" />
<line x1="601.4" y1="386.3" x2="601.4" y2="389.3" stroke="#444" stroke-width="1" />
<text x="601.4" y="398.8" font-size="10.5" text-anchor="middle" fill="#222" >2.0</text>
<clipPath id="cd"><rect x="479.5" y="291.4" width="139.2" height="94.9"/></clipPath><g clip-path="url(#cd)">
<line x1="481.3" y1="382.35" x2="622.42" y2="364.04" stroke="#4a4a4a" stroke-width="1.2" />
<line x1="481.3" y1="381.4" x2="622.42" y2="356.25" stroke="#ee3b3b" stroke-width="1.3" />
<line x1="541.35" y1="337.75" x2="622.42" y2="325.89" stroke="#1f6fe6" stroke-width="1.3" />
<line x1="601.4" y1="300.26" x2="622.42" y2="295.04" stroke="#2ba25f" stroke-width="1.3" />
<line x1="601.4" y1="305.48" x2="601.4" y2="297.89" stroke="#e619d8" stroke-width="1" stroke-dasharray="1.5 1"/>
<line x1="601.4" y1="362.42" x2="601.4" y2="354.83" stroke="#e619d8" stroke-width="1" stroke-dasharray="1.5 1"/>
<rect x="482.3" y="379.88" width="4" height="4" fill="#4a4a4a"/>
<rect x="485.31" y="379.4" width="4" height="4" fill="#4a4a4a"/>
<rect x="491.31" y="377.98" width="4" height="4" fill="#4a4a4a"/>
<rect x="509.32" y="376.08" width="4" height="4" fill="#4a4a4a"/>
<rect x="539.35" y="371.81" width="4" height="4" fill="#4a4a4a"/>
<rect x="599.4" y="364.22" width="4" height="4" fill="#4a4a4a"/>
<circle cx="484.3" cy="380.45" r="2.24" fill="#ee3b3b"/>
<circle cx="487.31" cy="379.5" r="2.24" fill="#ee3b3b"/>
<circle cx="493.31" cy="378.56" r="2.24" fill="#ee3b3b"/>
<circle cx="511.32" cy="375.71" r="2.24" fill="#ee3b3b"/>
<circle cx="541.35" cy="370.01" r="2.24" fill="#ee3b3b"/>
<circle cx="601.4" cy="358.63" r="2.24" fill="#ee3b3b"/>
<path d="M484.3 373.94 L487.16 378.83 L481.45 378.83Z" fill="#1f6fe6"/>
<path d="M487.31 371.09 L490.16 375.99 L484.45 375.99Z" fill="#1f6fe6"/>
<path d="M493.31 365.4 L496.17 370.29 L490.45 370.29Z" fill="#1f6fe6"/>
<path d="M511.32 354.96 L514.18 359.85 L508.47 359.85Z" fill="#1f6fe6"/>
<path d="M541.35 338.82 L544.21 343.72 L538.49 343.72Z" fill="#1f6fe6"/>
<path d="M601.4 325.54 L604.26 330.43 L598.54 330.43Z" fill="#1f6fe6"/>
<path d="M484.3 377.48 L487.16 372.58 L481.45 372.58Z" fill="#2ba25f"/>
<path d="M487.31 375.58 L490.16 370.69 L484.45 370.69Z" fill="#2ba25f"/>
<path d="M493.31 370.84 L496.17 365.94 L490.45 365.94Z" fill="#2ba25f"/>
<path d="M511.32 351.86 L514.18 346.96 L508.47 346.96Z" fill="#2ba25f"/>
<path d="M541.35 332.88 L544.21 327.98 L538.49 327.98Z" fill="#2ba25f"/>
<path d="M601.4 303.46 L604.26 298.56 L598.54 298.56Z" fill="#2ba25f"/>
</g>
<line x1="683.1" y1="302.6" x2="713.4" y2="302.6" stroke="#4a4a4a" stroke-width="1.5" />
<rect x="695.1" y="299.5" width="6.2" height="6.2" fill="#4a4a4a"/>
<text x="723.6" y="305.7" font-size="12.5" fill="#222">Az<tspan font-size="8.4" dy="2.5">20</tspan><tspan dy="-2.5">PTMG</tspan><tspan font-size="8.4" dy="2.5">80</tspan></text>
<line x1="683.1" y1="320.7" x2="713.4" y2="320.7" stroke="#ee3b3b" stroke-width="1.5" />
<circle cx="698.2" cy="320.7" r="3.47" fill="#ee3b3b"/>
<text x="723.6" y="323.7" font-size="12.5" fill="#222">Az<tspan font-size="8.4" dy="2.5">30</tspan><tspan dy="-2.5">PTMG</tspan><tspan font-size="8.4" dy="2.5">70</tspan></text>
<line x1="683.1" y1="338.9" x2="713.4" y2="338.9" stroke="#1f6fe6" stroke-width="1.5" />
<path d="M698.2 335.5 L701.77 341.62 L694.63 341.62Z" fill="#1f6fe6"/>
<text x="723.6" y="341.9" font-size="12.5" fill="#222">Az<tspan font-size="8.4" dy="2.5">40</tspan><tspan dy="-2.5">PTMG</tspan><tspan font-size="8.4" dy="2.5">60</tspan></text>
<line x1="683.1" y1="357.1" x2="713.4" y2="357.1" stroke="#2ba25f" stroke-width="1.5" />
<path d="M698.2 360.5 L701.77 354.38 L694.63 354.38Z" fill="#2ba25f"/>
<text x="723.6" y="360.8" font-size="12.5" fill="#222">Az<tspan font-size="8.4" dy="2.5">50</tspan><tspan dy="-2.5">PTMG</tspan><tspan font-size="8.4" dy="2.5">50</tspan></text>
<defs>
<linearGradient id="rodY" x1="0" y1="0" x2="0" y2="1"><stop offset="0" stop-color="#f3cd28"/><stop offset=".2" stop-color="#f8d83a"/><stop offset=".45" stop-color="#ecc21c"/><stop offset=".58" stop-color="#a88810"/><stop offset=".68" stop-color="#886a08"/><stop offset=".78" stop-color="#b08e10"/><stop offset=".88" stop-color="#e8c020"/><stop offset="1" stop-color="#e4bc1c"/></linearGradient>
<linearGradient id="rodO" x1="0" y1="0" x2="0" y2="1"><stop offset="0" stop-color="#f0a670"/><stop offset=".22" stop-color="#f3b080"/><stop offset=".42" stop-color="#dc884a"/><stop offset=".55" stop-color="#b06030"/><stop offset=".72" stop-color="#a65828"/><stop offset=".84" stop-color="#cc7c44"/><stop offset="1" stop-color="#e08a50"/></linearGradient>
<linearGradient id="cone" x1="0" y1="0" x2="0" y2="1"><stop offset="0" stop-color="#ad72c8"/><stop offset=".25" stop-color="#bb9ad8"/><stop offset=".55" stop-color="#c5c6e8"/><stop offset=".86" stop-color="#e2e8f6"/><stop offset=".91" stop-color="#f3f2e4"/><stop offset=".95" stop-color="#fbf4c4"/><stop offset="1" stop-color="#faeb9c"/></linearGradient>
<linearGradient id="boxH" x1="0" y1="0" x2="0" y2="1"><stop offset="0" stop-color="#fddf88"/><stop offset=".24" stop-color="#fcc964"/><stop offset=".34" stop-color="#f6a84a"/><stop offset=".425" stop-color="#ed8a34"/><stop offset=".51" stop-color="#f6a84a"/><stop offset=".61" stop-color="#fbc25c"/><stop offset="1" stop-color="#fdd678"/></linearGradient>
<linearGradient id="boxHx" x1="0" y1="0" x2="1" y2="0"><stop offset="0" stop-color="#fdd87a" stop-opacity=".55"/><stop offset=".08" stop-color="#fdd87a" stop-opacity="0"/><stop offset=".93" stop-color="#fdd87a" stop-opacity="0"/><stop offset="1" stop-color="#fdd87a" stop-opacity=".55"/></linearGradient>
<radialGradient id="sR" cx=".35" cy=".3" r=".75"><stop offset="0" stop-color="#f84838"/><stop offset=".45" stop-color="#d81212"/><stop offset="1" stop-color="#860404"/></radialGradient>
<radialGradient id="sG" cx=".35" cy=".3" r=".75"><stop offset="0" stop-color="#c8c8c8"/><stop offset=".5" stop-color="#868686"/><stop offset="1" stop-color="#505050"/></radialGradient>
<linearGradient id="gGr" x1="0" y1="0" x2="0" y2="1"><stop offset="0" stop-color="#8f8f8f"/><stop offset="1" stop-color="#6d6d6d"/></linearGradient>
<linearGradient id="gBl" x1="0" y1="0" x2="0" y2="1"><stop offset="0" stop-color="#6a9ee0"/><stop offset="1" stop-color="#3f74c4"/></linearGradient>
<linearGradient id="gRd" x1="0" y1="0" x2="0" y2="1"><stop offset="0" stop-color="#ee2a2a"/><stop offset="1" stop-color="#c80c0c"/></linearGradient>
<radialGradient id="gYe" cx=".45" cy=".35" r=".8"><stop offset="0" stop-color="#fff04a"/><stop offset=".55" stop-color="#f7d114"/><stop offset="1" stop-color="#d9a400"/></radialGradient>
<radialGradient id="gOr" cx=".45" cy=".3" r=".8"><stop offset="0" stop-color="#f09850"/><stop offset=".55" stop-color="#dc7428"/><stop offset="1" stop-color="#b05414"/></radialGradient>
<filter id="soft" x="-10%" y="-10%" width="120%" height="120%"><feGaussianBlur stdDeviation="2.6"/></filter>
<filter id="soft1" x="-10%" y="-10%" width="120%" height="120%"><feGaussianBlur stdDeviation="0.5"/></filter>
</defs>
<text x="34.5" y="597" font-size="20.5" text-anchor="start" fill="#222" >e)</text>
<g filter="url(#soft1)">
<path d="M34.5 754.5 L219.8 757.5 L274.8 732.3 L87 731.5Z" fill="#eec224" stroke="#eec224" stroke-width=".6"/>
<path d="M34.5 754.5 L219.8 757.5 L219.8 812.5 L33 810.5Z" fill="#c8a414" stroke="#c8a414" stroke-width=".6"/>
<path d="M219.8 757.5 L274.8 732.3 L274.8 786.6 L219.8 812.5Z" fill="#e6b81c" stroke="#e6b81c" stroke-width=".6"/>
<path d="M34.5 754.5 L219.8 757.5 L225.91 754.7 L40.33 751.94Z" fill="#f5d232" />
<path d="M34.5 754.5 L219.8 757.5 L221.94 756.52 L36.54 753.61Z" fill="#dcb01a" />
<path d="M40.33 751.94 L225.91 754.7 L232.02 751.9 L46.17 749.39Z" fill="#f5d232" />
<path d="M40.33 751.94 L225.91 754.7 L228.05 753.72 L42.38 751.05Z" fill="#dcb01a" />
<path d="M46.17 749.39 L232.02 751.9 L238.13 749.1 L52 746.83Z" fill="#f5d232" />
<path d="M46.17 749.39 L232.02 751.9 L234.16 750.92 L48.21 748.49Z" fill="#dcb01a" />
<path d="M52 746.83 L238.13 749.1 L244.24 746.3 L57.83 744.28Z" fill="#f5d232" />
<path d="M52 746.83 L238.13 749.1 L240.27 748.12 L54.04 745.94Z" fill="#dcb01a" />
<path d="M57.83 744.28 L244.24 746.3 L250.36 743.5 L63.67 741.72Z" fill="#f5d232" />
<path d="M57.83 744.28 L244.24 746.3 L246.38 745.32 L59.88 743.38Z" fill="#dcb01a" />
<path d="M63.67 741.72 L250.36 743.5 L256.47 740.7 L69.5 739.17Z" fill="#f5d232" />
<path d="M63.67 741.72 L250.36 743.5 L252.49 742.52 L65.71 740.83Z" fill="#dcb01a" />
<path d="M69.5 739.17 L256.47 740.7 L262.58 737.9 L75.33 736.61Z" fill="#f5d232" />
<path d="M69.5 739.17 L256.47 740.7 L258.61 739.72 L71.54 738.27Z" fill="#dcb01a" />
<path d="M75.33 736.61 L262.58 737.9 L268.69 735.1 L81.17 734.06Z" fill="#f5d232" />
<path d="M75.33 736.61 L262.58 737.9 L264.72 736.92 L77.38 735.72Z" fill="#dcb01a" />
<path d="M81.17 734.06 L268.69 735.1 L274.8 732.3 L87 731.5Z" fill="#f5d232" />
<path d="M81.17 734.06 L268.69 735.1 L270.83 734.12 L83.21 733.16Z" fill="#dcb01a" />
<path d="M34.5 754.5 L219.8 757.5 L219.8 768.5 L34.2 765.7Z" fill="url(#rodY)" />
<path d="M34.2 765.7 L219.8 768.5 L219.8 779.5 L33.9 776.9Z" fill="url(#rodY)" />
<path d="M33.9 776.9 L219.8 779.5 L219.8 790.5 L33.6 788.1Z" fill="url(#rodY)" />
<path d="M33.6 788.1 L219.8 790.5 L219.8 801.5 L33.3 799.3Z" fill="url(#rodY)" />
<path d="M33.3 799.3 L219.8 801.5 L219.8 812.5 L33 810.5Z" fill="url(#rodY)" />
<path d="M219.8 757.5 L225.91 754.7 L225.91 765.68 L219.8 768.5Z" fill="#f2c61c" />
<path d="M220.41 760.19 L222.24 758.8 L222.24 764.74 L220.41 766.46Z" fill="#7e6010" />
<path d="M219.8 767.07 L225.91 764.26 L225.91 765.68 L219.8 768.5Z" fill="#dcb014" />
<path d="M225.91 754.7 L232.02 751.9 L232.02 762.87 L225.91 765.68Z" fill="#f2c61c" />
<path d="M226.52 757.39 L228.36 756 L228.36 761.92 L226.52 763.65Z" fill="#7e6010" />
<path d="M225.91 764.26 L232.02 761.44 L232.02 762.87 L225.91 765.68Z" fill="#dcb014" />
<path d="M232.02 751.9 L238.13 749.1 L238.13 760.05 L232.02 762.87Z" fill="#f2c61c" />
<path d="M232.63 754.58 L234.47 753.19 L234.47 759.11 L232.63 760.83Z" fill="#7e6010" />
<path d="M232.02 761.44 L238.13 758.63 L238.13 760.05 L232.02 762.87Z" fill="#dcb014" />
<path d="M238.13 749.1 L244.24 746.3 L244.24 757.24 L238.13 760.05Z" fill="#f2c61c" />
<path d="M238.74 751.78 L240.58 750.39 L240.58 756.3 L238.74 758.02Z" fill="#7e6010" />
<path d="M238.13 758.63 L244.24 755.82 L244.24 757.24 L238.13 760.05Z" fill="#dcb014" />
<path d="M244.24 746.3 L250.36 743.5 L250.36 754.42 L244.24 757.24Z" fill="#f2c61c" />
<path d="M244.86 748.97 L246.69 747.58 L246.69 753.49 L244.86 755.21Z" fill="#7e6010" />
<path d="M244.24 755.82 L250.36 753 L250.36 754.42 L244.24 757.24Z" fill="#dcb014" />
<path d="M250.36 743.5 L256.47 740.7 L256.47 751.61 L250.36 754.42Z" fill="#f2c61c" />
<path d="M250.97 746.17 L252.8 744.78 L252.8 750.68 L250.97 752.39Z" fill="#7e6010" />
<path d="M250.36 753 L256.47 750.19 L256.47 751.61 L250.36 754.42Z" fill="#dcb014" />
<path d="M256.47 740.7 L262.58 737.9 L262.58 748.79 L256.47 751.61Z" fill="#f2c61c" />
<path d="M257.08 743.36 L258.91 741.98 L258.91 747.86 L257.08 749.58Z" fill="#7e6010" />
<path d="M256.47 750.19 L262.58 747.38 L262.58 748.79 L256.47 751.61Z" fill="#dcb014" />
<path d="M262.58 737.9 L268.69 735.1 L268.69 745.98 L262.58 748.79Z" fill="#f2c61c" />
<path d="M263.19 740.56 L265.02 739.17 L265.02 745.05 L263.19 746.77Z" fill="#7e6010" />
<path d="M262.58 747.38 L268.69 744.56 L268.69 745.98 L262.58 748.79Z" fill="#dcb014" />
<path d="M268.69 735.1 L274.8 732.3 L274.8 743.16 L268.69 745.98Z" fill="#f2c61c" />
<path d="M269.3 737.76 L271.13 736.37 L271.13 742.24 L269.3 743.95Z" fill="#7e6010" />
<path d="M268.69 744.56 L274.8 741.75 L274.8 743.16 L268.69 745.98Z" fill="#dcb014" />
<path d="M219.8 768.5 L225.91 765.68 L225.91 776.67 L219.8 779.5Z" fill="#f2c61c" />
<path d="M220.41 771.19 L222.24 769.79 L222.24 775.73 L220.41 777.46Z" fill="#7e6010" />
<path d="M219.8 778.07 L225.91 775.24 L225.91 776.67 L219.8 779.5Z" fill="#dcb014" />
<path d="M225.91 765.68 L232.02 762.87 L232.02 773.84 L225.91 776.67Z" fill="#f2c61c" />
<path d="M226.52 768.37 L228.36 766.97 L228.36 772.9 L226.52 774.63Z" fill="#7e6010" />
<path d="M225.91 775.24 L232.02 772.41 L232.02 773.84 L225.91 776.67Z" fill="#dcb014" />
<path d="M232.02 762.87 L238.13 760.05 L238.13 771.01 L232.02 773.84Z" fill="#f2c61c" />
<path d="M232.63 765.55 L234.47 764.15 L234.47 770.07 L232.63 771.8Z" fill="#7e6010" />
<path d="M232.02 772.41 L238.13 769.58 L238.13 771.01 L232.02 773.84Z" fill="#dcb014" />
<path d="M238.13 760.05 L244.24 757.24 L244.24 768.18 L238.13 771.01Z" fill="#f2c61c" />
<path d="M238.74 762.73 L240.58 761.34 L240.58 767.25 L238.74 768.97Z" fill="#7e6010" />
<path d="M238.13 769.58 L244.24 766.75 L244.24 768.18 L238.13 771.01Z" fill="#dcb014" />
<path d="M244.24 757.24 L250.36 754.42 L250.36 765.34 L244.24 768.18Z" fill="#f2c61c" />
<path d="M244.86 759.91 L246.69 758.52 L246.69 764.42 L244.86 766.14Z" fill="#7e6010" />
<path d="M244.24 766.75 L250.36 763.92 L250.36 765.34 L244.24 768.18Z" fill="#dcb014" />
<path d="M250.36 754.42 L256.47 751.61 L256.47 762.51 L250.36 765.34Z" fill="#f2c61c" />
<path d="M250.97 757.09 L252.8 755.7 L252.8 761.59 L250.97 763.31Z" fill="#7e6010" />
<path d="M250.36 763.92 L256.47 761.1 L256.47 762.51 L250.36 765.34Z" fill="#dcb014" />
<path d="M256.47 751.61 L262.58 748.79 L262.58 759.68 L256.47 762.51Z" fill="#f2c61c" />
<path d="M257.08 754.27 L258.91 752.88 L258.91 758.76 L257.08 760.49Z" fill="#7e6010" />
<path d="M256.47 761.1 L262.58 758.27 L262.58 759.68 L256.47 762.51Z" fill="#dcb014" />
<path d="M262.58 748.79 L268.69 745.98 L268.69 756.85 L262.58 759.68Z" fill="#f2c61c" />
<path d="M263.19 751.45 L265.02 750.06 L265.02 755.94 L263.19 757.66Z" fill="#7e6010" />
<path d="M262.58 758.27 L268.69 755.44 L268.69 756.85 L262.58 759.68Z" fill="#dcb014" />
<path d="M268.69 745.98 L274.8 743.16 L274.8 754.02 L268.69 756.85Z" fill="#f2c61c" />
<path d="M269.3 748.63 L271.13 747.24 L271.13 753.11 L269.3 754.83Z" fill="#7e6010" />
<path d="M268.69 755.44 L274.8 752.61 L274.8 754.02 L268.69 756.85Z" fill="#dcb014" />
<path d="M219.8 779.5 L225.91 776.67 L225.91 787.65 L219.8 790.5Z" fill="#f2c61c" />
<path d="M220.41 782.19 L222.24 780.79 L222.24 786.72 L220.41 788.46Z" fill="#7e6010" />
<path d="M219.8 789.07 L225.91 786.23 L225.91 787.65 L219.8 790.5Z" fill="#dcb014" />
<path d="M225.91 776.67 L232.02 773.84 L232.02 784.81 L225.91 787.65Z" fill="#f2c61c" />
<path d="M226.52 779.35 L228.36 777.95 L228.36 783.88 L226.52 785.61Z" fill="#7e6010" />
<path d="M225.91 786.23 L232.02 783.38 L232.02 784.81 L225.91 787.65Z" fill="#dcb014" />
<path d="M232.02 773.84 L238.13 771.01 L238.13 781.96 L232.02 784.81Z" fill="#f2c61c" />
<path d="M232.63 776.52 L234.47 775.12 L234.47 781.04 L232.63 782.77Z" fill="#7e6010" />
<path d="M232.02 783.38 L238.13 780.54 L238.13 781.96 L232.02 784.81Z" fill="#dcb014" />
<path d="M238.13 771.01 L244.24 768.18 L244.24 779.11 L238.13 781.96Z" fill="#f2c61c" />
<path d="M238.74 773.68 L240.58 772.28 L240.58 778.19 L238.74 779.92Z" fill="#7e6010" />
<path d="M238.13 780.54 L244.24 777.69 L244.24 779.11 L238.13 781.96Z" fill="#dcb014" />
<path d="M244.24 768.18 L250.36 765.34 L250.36 776.27 L244.24 779.11Z" fill="#f2c61c" />
<path d="M244.86 770.85 L246.69 769.45 L246.69 775.35 L244.86 777.08Z" fill="#7e6010" />
<path d="M244.24 777.69 L250.36 774.85 L250.36 776.27 L244.24 779.11Z" fill="#dcb014" />
<path d="M250.36 765.34 L256.47 762.51 L256.47 773.42 L250.36 776.27Z" fill="#f2c61c" />
<path d="M250.97 768.01 L252.8 766.61 L252.8 772.51 L250.97 774.23Z" fill="#7e6010" />
<path d="M250.36 774.85 L256.47 772 L256.47 773.42 L250.36 776.27Z" fill="#dcb014" />
<path d="M256.47 762.51 L262.58 759.68 L262.58 770.57 L256.47 773.42Z" fill="#f2c61c" />
<path d="M257.08 765.17 L258.91 763.78 L258.91 769.67 L257.08 771.39Z" fill="#7e6010" />
<path d="M256.47 772 L262.58 769.16 L262.58 770.57 L256.47 773.42Z" fill="#dcb014" />
<path d="M262.58 759.68 L268.69 756.85 L268.69 767.73 L262.58 770.57Z" fill="#f2c61c" />
<path d="M263.19 762.34 L265.02 760.94 L265.02 766.82 L263.19 768.55Z" fill="#7e6010" />
<path d="M262.58 769.16 L268.69 766.31 L268.69 767.73 L262.58 770.57Z" fill="#dcb014" />
<path d="M268.69 756.85 L274.8 754.02 L274.8 764.88 L268.69 767.73Z" fill="#f2c61c" />
<path d="M269.3 759.5 L271.13 758.11 L271.13 763.98 L269.3 765.7Z" fill="#7e6010" />
<path d="M268.69 766.31 L274.8 763.47 L274.8 764.88 L268.69 767.73Z" fill="#dcb014" />
<path d="M219.8 790.5 L225.91 787.65 L225.91 798.64 L219.8 801.5Z" fill="#f2c61c" />
<path d="M220.41 793.18 L222.24 791.78 L222.24 797.72 L220.41 799.45Z" fill="#7e6010" />
<path d="M219.8 800.07 L225.91 797.21 L225.91 798.64 L219.8 801.5Z" fill="#dcb014" />
<path d="M225.91 787.65 L232.02 784.81 L232.02 795.78 L225.91 798.64Z" fill="#f2c61c" />
<path d="M226.52 790.33 L228.36 788.93 L228.36 794.86 L226.52 796.59Z" fill="#7e6010" />
<path d="M225.91 797.21 L232.02 794.35 L232.02 795.78 L225.91 798.64Z" fill="#dcb014" />
<path d="M232.02 784.81 L238.13 781.96 L238.13 792.91 L232.02 795.78Z" fill="#f2c61c" />
<path d="M232.63 787.48 L234.47 786.08 L234.47 792 L232.63 793.73Z" fill="#7e6010" />
<path d="M232.02 794.35 L238.13 791.49 L238.13 792.91 L232.02 795.78Z" fill="#dcb014" />
<path d="M238.13 781.96 L244.24 779.11 L244.24 790.05 L238.13 792.91Z" fill="#f2c61c" />
<path d="M238.74 784.63 L240.58 783.23 L240.58 789.14 L238.74 790.87Z" fill="#7e6010" />
<path d="M238.13 791.49 L244.24 788.63 L244.24 790.05 L238.13 792.91Z" fill="#dcb014" />
<path d="M244.24 779.11 L250.36 776.27 L250.36 787.19 L244.24 790.05Z" fill="#f2c61c" />
<path d="M244.86 781.78 L246.69 780.38 L246.69 786.28 L244.86 788.02Z" fill="#7e6010" />
<path d="M244.24 788.63 L250.36 785.77 L250.36 787.19 L244.24 790.05Z" fill="#dcb014" />
<path d="M250.36 776.27 L256.47 773.42 L256.47 784.33 L250.36 787.19Z" fill="#f2c61c" />
<path d="M250.97 778.93 L252.8 777.53 L252.8 783.42 L250.97 785.16Z" fill="#7e6010" />
<path d="M250.36 785.77 L256.47 782.91 L256.47 784.33 L250.36 787.19Z" fill="#dcb014" />
<path d="M256.47 773.42 L262.58 770.57 L262.58 781.46 L256.47 784.33Z" fill="#f2c61c" />
<path d="M257.08 776.08 L258.91 774.68 L258.91 780.57 L257.08 782.3Z" fill="#7e6010" />
<path d="M256.47 782.91 L262.58 780.05 L262.58 781.46 L256.47 784.33Z" fill="#dcb014" />
<path d="M262.58 770.57 L268.69 767.73 L268.69 778.6 L262.58 781.46Z" fill="#f2c61c" />
<path d="M263.19 773.23 L265.02 771.83 L265.02 777.71 L263.19 779.44Z" fill="#7e6010" />
<path d="M262.58 780.05 L268.69 777.19 L268.69 778.6 L262.58 781.46Z" fill="#dcb014" />
<path d="M268.69 767.73 L274.8 764.88 L274.8 775.74 L268.69 778.6Z" fill="#f2c61c" />
<path d="M269.3 770.38 L271.13 768.98 L271.13 774.85 L269.3 776.58Z" fill="#7e6010" />
<path d="M268.69 777.19 L274.8 774.33 L274.8 775.74 L268.69 778.6Z" fill="#dcb014" />
<path d="M219.8 801.5 L225.91 798.64 L225.91 809.62 L219.8 812.5Z" fill="#f2c61c" />
<path d="M220.41 804.18 L222.24 802.77 L222.24 808.71 L220.41 810.45Z" fill="#7e6010" />
<path d="M219.8 811.07 L225.91 808.19 L225.91 809.62 L219.8 812.5Z" fill="#dcb014" />
<path d="M225.91 798.64 L232.02 795.78 L232.02 806.74 L225.91 809.62Z" fill="#f2c61c" />
<path d="M226.52 801.32 L228.36 799.91 L228.36 805.84 L226.52 807.58Z" fill="#7e6010" />
<path d="M225.91 808.19 L232.02 805.32 L232.02 806.74 L225.91 809.62Z" fill="#dcb014" />
<path d="M232.02 795.78 L238.13 792.91 L238.13 803.87 L232.02 806.74Z" fill="#f2c61c" />
<path d="M232.63 798.45 L234.47 797.04 L234.47 802.96 L232.63 804.7Z" fill="#7e6010" />
<path d="M232.02 805.32 L238.13 802.44 L238.13 803.87 L232.02 806.74Z" fill="#dcb014" />
<path d="M238.13 792.91 L244.24 790.05 L244.24 800.99 L238.13 803.87Z" fill="#f2c61c" />
<path d="M238.74 795.58 L240.58 794.18 L240.58 800.09 L238.74 801.83Z" fill="#7e6010" />
<path d="M238.13 802.44 L244.24 799.57 L244.24 800.99 L238.13 803.87Z" fill="#dcb014" />
<path d="M244.24 790.05 L250.36 787.19 L250.36 798.11 L244.24 800.99Z" fill="#f2c61c" />
<path d="M244.86 792.72 L246.69 791.31 L246.69 797.21 L244.86 798.95Z" fill="#7e6010" />
<path d="M244.24 799.57 L250.36 796.69 L250.36 798.11 L244.24 800.99Z" fill="#dcb014" />
<path d="M250.36 787.19 L256.47 784.33 L256.47 795.23 L250.36 798.11Z" fill="#f2c61c" />
<path d="M250.97 789.85 L252.8 788.45 L252.8 794.34 L250.97 796.08Z" fill="#7e6010" />
<path d="M250.36 796.69 L256.47 793.82 L256.47 795.23 L250.36 798.11Z" fill="#dcb014" />
<path d="M256.47 784.33 L262.58 781.46 L262.58 792.36 L256.47 795.23Z" fill="#f2c61c" />
<path d="M257.08 786.98 L258.91 785.58 L258.91 791.47 L257.08 793.2Z" fill="#7e6010" />
<path d="M256.47 793.82 L262.58 790.94 L262.58 792.36 L256.47 795.23Z" fill="#dcb014" />
<path d="M262.58 781.46 L268.69 778.6 L268.69 789.48 L262.58 792.36Z" fill="#f2c61c" />
<path d="M263.19 784.12 L265.02 782.71 L265.02 788.59 L263.19 790.33Z" fill="#7e6010" />
<path d="M262.58 790.94 L268.69 788.06 L268.69 789.48 L262.58 792.36Z" fill="#dcb014" />
<path d="M268.69 778.6 L274.8 775.74 L274.8 786.6 L268.69 789.48Z" fill="#f2c61c" />
<path d="M269.3 781.25 L271.13 779.85 L271.13 785.72 L269.3 787.45Z" fill="#7e6010" />
<path d="M268.69 788.06 L274.8 785.19 L274.8 786.6 L268.69 789.48Z" fill="#dcb014" />
</g>
<path d="M160 611.5 L250.5 744 L66 744 Z" fill="url(#cone)" opacity=".97"/>
<path d="M107.2 581.8 C116 574 124 569.8 131 570 C142 570.4 151 577.5 158.8 584.6" fill="none" stroke="#1f2b4d" stroke-width="1.9"/>
<path d="M151.2 586 Q160.2 582.2 169.2 586 L169.2 605.8 Q160.2 610 151.2 605.8Z" fill="#060606"/>
<ellipse cx="160.2" cy="605.9" rx="8.4" ry="3" fill="#a044c8"/>
<text x="179" y="607.8" font-size="22" text-anchor="start" fill="#111" >UV light</text>
<text x="285.7" y="702.2" font-size="21" text-anchor="middle" fill="#111" >UV</text>
<text x="297.9" y="754" font-size="21" text-anchor="middle" fill="#111" >UV</text>
<g stroke="#111" stroke-width="1.25" fill="#111" stroke-linejoin="miter"><path d="M283.3 717.9 L316.3 692.3" fill="none"/><path d="M316.6 692.1 L308.2 693.6 L310.8 696.6Z" stroke-width=".6"/><path d="M317.2 694.7 L284 719.9" fill="none"/><path d="M283.6 720.2 L292 718.9 L289.5 715.8Z" stroke-width=".6"/><path d="M277.5 762.1 L320.2 762.1" fill="none"/><path d="M320.6 762.2 L311.8 758.2 L312.6 762.2Z" stroke-width=".6"/><path d="M320.2 764.5 L277.5 764.5" fill="none"/><path d="M277.1 764.4 L286.3 768.3 L285.3 764.4Z" stroke-width=".6"/></g>
<g filter="url(#soft1)">
<path d="M337 630.5 L519.6 630 L574 609.8 L376 607Z" fill="#eec224" stroke="#eec224" stroke-width=".6"/>
<path d="M337 630.5 L519.6 630 L519.6 687.5 L332.5 685.5Z" fill="#c8a414" stroke="#c8a414" stroke-width=".6"/>
<path d="M519.6 630 L574 609.8 L574 662.5 L519.6 687.5Z" fill="#e6b81c" stroke="#e6b81c" stroke-width=".6"/>
<path d="M337 630.5 L365.67 630.42 L370.27 627.87 L341.33 627.89Z" fill="#f5d232" />
<path d="M337 630.5 L365.67 630.42 L367.28 629.53 L338.52 629.59Z" fill="#dcb01a" />
<path d="M365.67 630.42 L386.12 630.37 L390.91 627.85 L370.27 627.87Z" fill="#f3b68a" />
<path d="M365.67 630.42 L386.12 630.37 L387.8 629.49 L367.28 629.53Z" fill="#e6965e" />
<path d="M386.12 630.37 L402.92 630.32 L407.87 627.84 L390.91 627.85Z" fill="#f5d232" />
<path d="M386.12 630.37 L402.92 630.32 L404.65 629.45 L387.8 629.49Z" fill="#dcb01a" />
<path d="M402.92 630.32 L421.54 630.27 L426.67 627.83 L407.87 627.84Z" fill="#f3b68a" />
<path d="M402.92 630.32 L421.54 630.27 L423.34 629.41 L404.65 629.45Z" fill="#e6965e" />
<path d="M421.54 630.27 L448.57 630.19 L453.95 627.81 L426.67 627.83Z" fill="#f5d232" />
<path d="M421.54 630.27 L448.57 630.19 L450.45 629.36 L423.34 629.41Z" fill="#dcb01a" />
<path d="M448.57 630.19 L467.19 630.14 L472.75 627.79 L453.95 627.81Z" fill="#f3b68a" />
<path d="M448.57 630.19 L467.19 630.14 L469.14 629.32 L450.45 629.36Z" fill="#e6965e" />
<path d="M467.19 630.14 L495.86 630.07 L501.68 627.77 L472.75 627.79Z" fill="#f5d232" />
<path d="M467.19 630.14 L495.86 630.07 L497.9 629.26 L469.14 629.32Z" fill="#dcb01a" />
<path d="M495.86 630.07 L504.44 630.04 L510.35 627.77 L501.68 627.77Z" fill="#f3b68a" />
<path d="M495.86 630.07 L504.44 630.04 L506.51 629.25 L497.9 629.26Z" fill="#e6965e" />
<path d="M504.44 630.04 L519.6 630 L525.64 627.76 L510.35 627.77Z" fill="#f5d232" />
<path d="M504.44 630.04 L519.6 630 L521.72 629.21 L506.51 629.25Z" fill="#dcb01a" />
<path d="M341.33 627.89 L355.17 627.88 L359.63 625.3 L345.67 625.28Z" fill="#f3b68a" />
<path d="M341.33 627.89 L355.17 627.88 L356.73 626.97 L342.85 626.98Z" fill="#e6965e" />
<path d="M355.17 627.88 L378.23 627.86 L382.9 625.32 L359.63 625.3Z" fill="#f5d232" />
<path d="M355.17 627.88 L378.23 627.86 L379.86 626.97 L356.73 626.97Z" fill="#dcb01a" />
<path d="M378.23 627.86 L390.62 627.85 L395.41 625.34 L382.9 625.32Z" fill="#f3b68a" />
<path d="M378.23 627.86 L390.62 627.85 L392.3 626.97 L379.86 626.97Z" fill="#e6965e" />
<path d="M390.62 627.85 L411.56 627.84 L416.54 625.37 L395.41 625.34Z" fill="#f5d232" />
<path d="M390.62 627.85 L411.56 627.84 L413.3 626.97 L392.3 626.97Z" fill="#dcb01a" />
<path d="M411.56 627.84 L429.36 627.83 L434.51 625.39 L416.54 625.37Z" fill="#f3b68a" />
<path d="M411.56 627.84 L429.36 627.83 L431.16 626.97 L413.3 626.97Z" fill="#e6965e" />
<path d="M429.36 627.83 L441.48 627.82 L446.75 625.4 L434.51 625.39Z" fill="#f5d232" />
<path d="M429.36 627.83 L441.48 627.82 L443.33 626.97 L431.16 626.97Z" fill="#dcb01a" />
<path d="M441.48 627.82 L461.9 627.8 L467.35 625.43 L446.75 625.4Z" fill="#f3b68a" />
<path d="M441.48 627.82 L461.9 627.8 L463.8 626.97 L443.33 626.97Z" fill="#e6965e" />
<path d="M461.9 627.8 L473.65 627.79 L479.21 625.45 L467.35 625.43Z" fill="#f5d232" />
<path d="M461.9 627.8 L473.65 627.79 L475.59 626.97 L463.8 626.97Z" fill="#dcb01a" />
<path d="M473.65 627.79 L492.7 627.78 L498.43 625.47 L479.21 625.45Z" fill="#f3b68a" />
<path d="M473.65 627.79 L492.7 627.78 L494.7 626.97 L475.59 626.97Z" fill="#e6965e" />
<path d="M492.7 627.78 L505.04 627.77 L510.9 625.49 L498.43 625.47Z" fill="#f5d232" />
<path d="M492.7 627.78 L505.04 627.77 L507.09 626.97 L494.7 626.97Z" fill="#dcb01a" />
<path d="M505.04 627.77 L517.77 627.76 L523.74 625.5 L510.9 625.49Z" fill="#f3b68a" />
<path d="M505.04 627.77 L517.77 627.76 L519.86 626.97 L507.09 626.97Z" fill="#e6965e" />
<path d="M517.77 627.76 L525.64 627.76 L531.69 625.51 L523.74 625.5Z" fill="#f5d232" />
<path d="M517.77 627.76 L525.64 627.76 L527.76 626.97 L519.86 626.97Z" fill="#dcb01a" />
<path d="M345.67 625.28 L359.13 625.29 L363.59 622.71 L350 622.67Z" fill="#f5d232" />
<path d="M345.67 625.28 L359.13 625.29 L360.69 624.39 L347.18 624.36Z" fill="#dcb01a" />
<path d="M359.13 625.29 L374.45 625.31 L379.04 622.76 L363.59 622.71Z" fill="#f3b68a" />
<path d="M359.13 625.29 L374.45 625.31 L376.05 624.42 L360.69 624.39Z" fill="#e6965e" />
<path d="M374.45 625.31 L397.28 625.34 L402.09 622.83 L379.04 622.76Z" fill="#f5d232" />
<path d="M374.45 625.31 L397.28 625.34 L398.96 624.46 L376.05 624.42Z" fill="#dcb01a" />
<path d="M397.28 625.34 L426.07 625.38 L431.14 622.93 L402.09 622.83Z" fill="#f3b68a" />
<path d="M397.28 625.34 L426.07 625.38 L427.84 624.52 L398.96 624.46Z" fill="#e6965e" />
<path d="M426.07 625.38 L447.97 625.41 L453.24 623 L431.14 622.93Z" fill="#f5d232" />
<path d="M426.07 625.38 L447.97 625.41 L449.81 624.56 L427.84 624.52Z" fill="#dcb01a" />
<path d="M447.97 625.41 L466.51 625.43 L471.95 623.06 L453.24 623Z" fill="#f3b68a" />
<path d="M447.97 625.41 L466.51 625.43 L468.41 624.6 L449.81 624.56Z" fill="#e6965e" />
<path d="M466.51 625.43 L495.83 625.47 L501.54 623.15 L471.95 623.06Z" fill="#f5d232" />
<path d="M466.51 625.43 L495.83 625.47 L497.83 624.66 L468.41 624.6Z" fill="#dcb01a" />
<path d="M495.83 625.47 L507.86 625.48 L513.68 623.19 L501.54 623.15Z" fill="#f3b68a" />
<path d="M495.83 625.47 L507.86 625.48 L509.89 624.68 L497.83 624.66Z" fill="#e6965e" />
<path d="M507.86 625.48 L531.69 625.51 L537.73 623.27 L513.68 623.19Z" fill="#f5d232" />
<path d="M507.86 625.48 L531.69 625.51 L533.8 624.73 L509.89 624.68Z" fill="#dcb01a" />
<path d="M350 622.67 L363.97 622.71 L368.43 620.13 L354.33 620.06Z" fill="#f3b68a" />
<path d="M350 622.67 L363.97 622.71 L365.53 621.81 L351.52 621.75Z" fill="#e6965e" />
<path d="M363.97 622.71 L377.45 622.75 L382.03 620.2 L368.43 620.13Z" fill="#f5d232" />
<path d="M363.97 622.71 L377.45 622.75 L379.05 621.86 L365.53 621.81Z" fill="#dcb01a" />
<path d="M377.45 622.75 L394.5 622.81 L399.24 620.28 L382.03 620.2Z" fill="#f3b68a" />
<path d="M377.45 622.75 L394.5 622.81 L396.16 621.93 L379.05 621.86Z" fill="#e6965e" />
<path d="M394.5 622.81 L421.09 622.89 L426.07 620.42 L399.24 620.28Z" fill="#f5d232" />
<path d="M394.5 622.81 L421.09 622.89 L422.83 622.03 L396.16 621.93Z" fill="#dcb01a" />
<path d="M421.09 622.89 L435.74 622.94 L440.86 620.5 L426.07 620.42Z" fill="#f3b68a" />
<path d="M421.09 622.89 L435.74 622.94 L437.54 622.09 L422.83 622.03Z" fill="#e6965e" />
<path d="M435.74 622.94 L457.93 623.01 L463.24 620.61 L440.86 620.5Z" fill="#f5d232" />
<path d="M435.74 622.94 L457.93 623.01 L459.79 622.17 L437.54 622.09Z" fill="#dcb01a" />
<path d="M457.93 623.01 L481.19 623.09 L486.72 620.73 L463.24 620.61Z" fill="#f3b68a" />
<path d="M457.93 623.01 L481.19 623.09 L483.12 622.26 L459.79 622.17Z" fill="#e6965e" />
<path d="M481.19 623.09 L499.44 623.14 L505.14 620.83 L486.72 620.73Z" fill="#f5d232" />
<path d="M481.19 623.09 L499.44 623.14 L501.43 622.33 L483.12 622.26Z" fill="#dcb01a" />
<path d="M499.44 623.14 L520.99 623.21 L526.88 620.94 L505.14 620.83Z" fill="#f3b68a" />
<path d="M499.44 623.14 L520.99 623.21 L523.05 622.42 L501.43 622.33Z" fill="#e6965e" />
<path d="M520.99 623.21 L533.43 623.25 L539.44 621 L526.88 620.94Z" fill="#f5d232" />
<path d="M520.99 623.21 L533.43 623.25 L535.53 622.46 L523.05 622.42Z" fill="#dcb01a" />
<path d="M533.43 623.25 L537.73 623.27 L543.78 621.02 L539.44 621Z" fill="#f3b68a" />
<path d="M533.43 623.25 L537.73 623.27 L539.85 622.48 L535.53 622.46Z" fill="#e6965e" />
<path d="M354.33 620.06 L378.59 620.18 L383.14 617.62 L358.67 617.44Z" fill="#f3b68a" />
<path d="M354.33 620.06 L378.59 620.18 L380.18 619.28 L355.85 619.14Z" fill="#e6965e" />
<path d="M378.59 620.18 L398.06 620.28 L402.79 617.75 L383.14 617.62Z" fill="#f5d232" />
<path d="M378.59 620.18 L398.06 620.28 L399.71 619.39 L380.18 619.28Z" fill="#dcb01a" />
<path d="M398.06 620.28 L415.37 620.37 L420.26 617.87 L402.79 617.75Z" fill="#f3b68a" />
<path d="M398.06 620.28 L415.37 620.37 L417.08 619.49 L399.71 619.39Z" fill="#e6965e" />
<path d="M415.37 620.37 L437.83 620.48 L442.92 618.03 L420.26 617.87Z" fill="#f5d232" />
<path d="M415.37 620.37 L437.83 620.48 L439.62 619.62 L417.08 619.49Z" fill="#dcb01a" />
<path d="M437.83 620.48 L457.79 620.58 L463.05 618.17 L442.92 618.03Z" fill="#f3b68a" />
<path d="M437.83 620.48 L457.79 620.58 L459.63 619.74 L439.62 619.62Z" fill="#e6965e" />
<path d="M457.79 620.58 L474.83 620.67 L480.25 618.29 L463.05 618.17Z" fill="#f5d232" />
<path d="M457.79 620.58 L474.83 620.67 L476.73 619.84 L459.63 619.74Z" fill="#dcb01a" />
<path d="M474.83 620.67 L501.25 620.81 L506.91 618.48 L480.25 618.29Z" fill="#f3b68a" />
<path d="M474.83 620.67 L501.25 620.81 L503.23 619.99 L476.73 619.84Z" fill="#e6965e" />
<path d="M501.25 620.81 L525.86 620.93 L531.74 618.65 L506.91 618.48Z" fill="#f5d232" />
<path d="M501.25 620.81 L525.86 620.93 L527.92 620.13 L503.23 619.99Z" fill="#dcb01a" />
<path d="M525.86 620.93 L541.85 621.01 L547.87 618.76 L531.74 618.65Z" fill="#f3b68a" />
<path d="M525.86 620.93 L541.85 621.01 L543.96 620.23 L527.92 620.13Z" fill="#e6965e" />
<path d="M541.85 621.01 L543.78 621.02 L549.82 618.78 L547.87 618.76Z" fill="#f5d232" />
<path d="M541.85 621.01 L543.78 621.02 L545.89 620.24 L543.96 620.23Z" fill="#dcb01a" />
<path d="M358.67 617.44 L386.86 617.64 L391.45 615.08 L363 614.83Z" fill="#f5d232" />
<path d="M358.67 617.44 L386.86 617.64 L388.47 616.75 L360.18 616.53Z" fill="#dcb01a" />
<path d="M386.86 617.64 L412.28 617.82 L417.09 615.31 L391.45 615.08Z" fill="#f3b68a" />
<path d="M386.86 617.64 L412.28 617.82 L413.96 616.94 L388.47 616.75Z" fill="#e6965e" />
<path d="M412.28 617.82 L429.25 617.94 L434.22 615.46 L417.09 615.31Z" fill="#f5d232" />
<path d="M412.28 617.82 L429.25 617.94 L430.99 617.07 L413.96 616.94Z" fill="#dcb01a" />
<path d="M429.25 617.94 L459.46 618.15 L464.69 615.73 L434.22 615.46Z" fill="#f3b68a" />
<path d="M429.25 617.94 L459.46 618.15 L461.29 617.3 L430.99 617.07Z" fill="#e6965e" />
<path d="M459.46 618.15 L473.18 618.24 L478.54 615.85 L464.69 615.73Z" fill="#f5d232" />
<path d="M459.46 618.15 L473.18 618.24 L475.06 617.41 L461.29 617.3Z" fill="#dcb01a" />
<path d="M473.18 618.24 L492.65 618.38 L498.18 616.02 L478.54 615.85Z" fill="#f3b68a" />
<path d="M473.18 618.24 L492.65 618.38 L494.58 617.56 L475.06 617.41Z" fill="#e6965e" />
<path d="M492.65 618.38 L518.59 618.56 L524.35 616.26 L498.18 616.02Z" fill="#f5d232" />
<path d="M492.65 618.38 L518.59 618.56 L520.61 617.75 L494.58 617.56Z" fill="#dcb01a" />
<path d="M518.59 618.56 L532.96 618.66 L538.86 616.38 L524.35 616.26Z" fill="#f3b68a" />
<path d="M518.59 618.56 L532.96 618.66 L535.03 617.86 L520.61 617.75Z" fill="#e6965e" />
<path d="M532.96 618.66 L549.82 618.78 L555.87 616.53 L538.86 616.38Z" fill="#f5d232" />
<path d="M532.96 618.66 L549.82 618.78 L551.94 617.99 L535.03 617.86Z" fill="#dcb01a" />
<path d="M363 614.83 L387.46 615.05 L392.01 612.48 L367.33 612.22Z" fill="#f3b68a" />
<path d="M363 614.83 L387.46 615.05 L389.05 614.15 L364.52 613.92Z" fill="#e6965e" />
<path d="M387.46 615.05 L413.78 615.28 L418.56 612.77 L392.01 612.48Z" fill="#f5d232" />
<path d="M387.46 615.05 L413.78 615.28 L415.45 614.4 L389.05 614.15Z" fill="#dcb01a" />
<path d="M413.78 615.28 L436.4 615.48 L441.39 613.01 L418.56 612.77Z" fill="#f3b68a" />
<path d="M413.78 615.28 L436.4 615.48 L438.15 614.62 L415.45 614.4Z" fill="#e6965e" />
<path d="M436.4 615.48 L464.86 615.73 L470.1 613.31 L441.39 613.01Z" fill="#f5d232" />
<path d="M436.4 615.48 L464.86 615.73 L466.69 614.89 L438.15 614.62Z" fill="#dcb01a" />
<path d="M464.86 615.73 L482.48 615.89 L487.88 613.5 L470.1 613.31Z" fill="#f3b68a" />
<path d="M464.86 615.73 L482.48 615.89 L484.37 615.05 L466.69 614.89Z" fill="#e6965e" />
<path d="M482.48 615.89 L507.46 616.11 L513.08 613.77 L487.88 613.5Z" fill="#f5d232" />
<path d="M482.48 615.89 L507.46 616.11 L509.43 615.29 L484.37 615.05Z" fill="#dcb01a" />
<path d="M507.46 616.11 L530.5 616.31 L536.32 614.02 L513.08 613.77Z" fill="#f3b68a" />
<path d="M507.46 616.11 L530.5 616.31 L532.54 615.51 L509.43 615.29Z" fill="#e6965e" />
<path d="M530.5 616.31 L553.26 616.51 L559.28 614.26 L536.32 614.02Z" fill="#f5d232" />
<path d="M530.5 616.31 L553.26 616.51 L555.36 615.72 L532.54 615.51Z" fill="#dcb01a" />
<path d="M553.26 616.51 L555.87 616.53 L561.91 614.29 L559.28 614.26Z" fill="#f3b68a" />
<path d="M553.26 616.51 L555.87 616.53 L557.98 615.75 L555.36 615.72Z" fill="#e6965e" />
<path d="M367.33 612.22 L397.39 612.54 L401.99 609.99 L371.67 609.61Z" fill="#f5d232" />
<path d="M367.33 612.22 L397.39 612.54 L399 611.65 L368.85 611.31Z" fill="#dcb01a" />
<path d="M397.39 612.54 L418.29 612.76 L423.07 610.25 L401.99 609.99Z" fill="#f3b68a" />
<path d="M397.39 612.54 L418.29 612.76 L419.96 611.88 L399 611.65Z" fill="#e6965e" />
<path d="M418.29 612.76 L442.89 613.02 L447.88 610.56 L423.07 610.25Z" fill="#f5d232" />
<path d="M418.29 612.76 L442.89 613.02 L444.64 612.16 L419.96 611.88Z" fill="#dcb01a" />
<path d="M442.89 613.02 L455.74 613.16 L460.85 610.72 L447.88 610.56Z" fill="#f3b68a" />
<path d="M442.89 613.02 L455.74 613.16 L457.53 612.31 L444.64 612.16Z" fill="#e6965e" />
<path d="M455.74 613.16 L481.07 613.43 L486.4 611.03 L460.85 610.72Z" fill="#f5d232" />
<path d="M455.74 613.16 L481.07 613.43 L482.93 612.59 L457.53 612.31Z" fill="#dcb01a" />
<path d="M481.07 613.43 L505.33 613.69 L510.88 611.34 L486.4 611.03Z" fill="#f3b68a" />
<path d="M481.07 613.43 L505.33 613.69 L507.27 612.87 L482.93 612.59Z" fill="#e6965e" />
<path d="M505.33 613.69 L536.33 614.02 L542.15 611.72 L510.88 611.34Z" fill="#f5d232" />
<path d="M505.33 613.69 L536.33 614.02 L538.37 613.21 L507.27 612.87Z" fill="#dcb01a" />
<path d="M536.33 614.02 L561.91 614.29 L567.96 612.04 L542.15 611.72Z" fill="#f3b68a" />
<path d="M536.33 614.02 L561.91 614.29 L564.03 613.5 L538.37 613.21Z" fill="#e6965e" />
<path d="M371.67 609.61 L391.02 609.85 L395.52 607.28 L376 607Z" fill="#f3b68a" />
<path d="M371.67 609.61 L391.02 609.85 L392.59 608.95 L373.18 608.7Z" fill="#e6965e" />
<path d="M391.02 609.85 L415.92 610.16 L420.64 607.63 L395.52 607.28Z" fill="#f5d232" />
<path d="M391.02 609.85 L415.92 610.16 L417.57 609.27 L392.59 608.95Z" fill="#dcb01a" />
<path d="M415.92 610.16 L428.14 610.31 L432.96 607.81 L420.64 607.63Z" fill="#f3b68a" />
<path d="M415.92 610.16 L428.14 610.31 L429.83 609.43 L417.57 609.27Z" fill="#e6965e" />
<path d="M428.14 610.31 L448.98 610.57 L453.99 608.1 L432.96 607.81Z" fill="#f5d232" />
<path d="M428.14 610.31 L448.98 610.57 L450.73 609.71 L429.83 609.43Z" fill="#dcb01a" />
<path d="M448.98 610.57 L464.05 610.76 L469.19 608.32 L453.99 608.1Z" fill="#f3b68a" />
<path d="M448.98 610.57 L464.05 610.76 L465.85 609.9 L450.73 609.71Z" fill="#e6965e" />
<path d="M464.05 610.76 L478.13 610.93 L483.39 608.52 L469.19 608.32Z" fill="#f5d232" />
<path d="M464.05 610.76 L478.13 610.93 L479.97 610.09 L465.85 609.9Z" fill="#dcb01a" />
<path d="M478.13 610.93 L491.07 611.09 L496.44 608.7 L483.39 608.52Z" fill="#f3b68a" />
<path d="M478.13 610.93 L491.07 611.09 L492.95 610.26 L479.97 610.09Z" fill="#e6965e" />
<path d="M491.07 611.09 L517.92 611.42 L523.53 609.09 L496.44 608.7Z" fill="#f5d232" />
<path d="M491.07 611.09 L517.92 611.42 L519.89 610.61 L492.95 610.26Z" fill="#dcb01a" />
<path d="M517.92 611.42 L532.24 611.6 L537.97 609.29 L523.53 609.09Z" fill="#f3b68a" />
<path d="M517.92 611.42 L532.24 611.6 L534.24 610.79 L519.89 610.61Z" fill="#e6965e" />
<path d="M532.24 611.6 L548.88 611.81 L554.75 609.53 L537.97 609.29Z" fill="#f5d232" />
<path d="M532.24 611.6 L548.88 611.81 L550.93 611.01 L534.24 610.79Z" fill="#dcb01a" />
<path d="M548.88 611.81 L567.96 612.04 L574 609.8 L554.75 609.53Z" fill="#f3b68a" />
<path d="M548.88 611.81 L567.96 612.04 L570.07 611.26 L550.93 611.01Z" fill="#e6965e" />
<path d="M337 630.5 L365.67 630.42 L364.91 641.5 L336.1 641.5Z" fill="url(#rodY)" />
<path d="M365.67 630.42 L386.12 630.37 L385.46 641.5 L364.91 641.5Z" fill="url(#rodO)" />
<path d="M386.12 630.37 L402.92 630.32 L402.34 641.5 L385.46 641.5Z" fill="url(#rodY)" />
<path d="M402.92 630.32 L421.54 630.27 L421.06 641.5 L402.34 641.5Z" fill="url(#rodO)" />
<path d="M421.54 630.27 L448.57 630.19 L448.22 641.5 L421.06 641.5Z" fill="url(#rodY)" />
<path d="M448.57 630.19 L467.19 630.14 L466.94 641.5 L448.22 641.5Z" fill="url(#rodO)" />
<path d="M467.19 630.14 L495.86 630.07 L495.75 641.5 L466.94 641.5Z" fill="url(#rodY)" />
<path d="M495.86 630.07 L504.44 630.04 L504.37 641.5 L495.75 641.5Z" fill="url(#rodO)" />
<path d="M504.44 630.04 L519.6 630 L519.6 641.5 L504.37 641.5Z" fill="url(#rodY)" />
<path d="M336.1 641.5 L519.6 641.5 L519.6 653 L335.2 652.5Z" fill="url(#rodY)" />
<path d="M335.2 652.5 L519.6 653 L519.6 664.5 L334.3 663.5Z" fill="url(#rodY)" />
<path d="M334.3 663.5 L519.6 664.5 L519.6 676 L333.4 674.5Z" fill="url(#rodY)" />
<path d="M333.4 674.5 L519.6 676 L519.6 687.5 L332.5 685.5Z" fill="url(#rodY)" />
<path d="M519.6 630 L525.64 627.76 L525.64 639.15 L519.6 641.5Z" fill="#f2c61c" />
<path d="M520.2 632.88 L522.02 631.62 L522.02 637.81 L520.2 639.43Z" fill="#7e6010" />
<path d="M519.6 640 L525.64 637.67 L525.64 639.15 L519.6 641.5Z" fill="#dcb014" />
<path d="M525.64 627.76 L531.69 625.51 L531.69 636.8 L525.64 639.15Z" fill="#ee935a" />
<path d="M526.25 630.6 L528.06 629.35 L528.06 635.48 L526.25 637.09Z" fill="#a85a2a" />
<path d="M525.64 637.67 L531.69 635.33 L531.69 636.8 L525.64 639.15Z" fill="#d87a40" />
<path d="M531.69 625.51 L537.73 623.27 L537.73 634.45 L531.69 636.8Z" fill="#f2c61c" />
<path d="M532.29 628.33 L534.11 627.09 L534.11 633.16 L532.29 634.76Z" fill="#7e6010" />
<path d="M531.69 635.33 L537.73 632.99 L537.73 634.45 L531.69 636.8Z" fill="#dcb014" />
<path d="M537.73 623.27 L543.78 621.02 L543.78 632.1 L537.73 634.45Z" fill="#ee935a" />
<path d="M538.34 626.06 L540.15 624.82 L540.15 630.83 L538.34 632.42Z" fill="#a85a2a" />
<path d="M537.73 632.99 L543.78 630.66 L543.78 632.1 L537.73 634.45Z" fill="#d87a40" />
<path d="M543.78 621.02 L549.82 618.78 L549.82 629.74 L543.78 632.1Z" fill="#f2c61c" />
<path d="M544.38 623.78 L546.2 622.55 L546.2 628.51 L544.38 630.09Z" fill="#7e6010" />
<path d="M543.78 630.66 L549.82 628.32 L549.82 629.74 L543.78 632.1Z" fill="#dcb014" />
<path d="M549.82 618.78 L555.87 616.53 L555.87 627.39 L549.82 629.74Z" fill="#ee935a" />
<path d="M550.43 621.51 L552.24 620.28 L552.24 626.18 L550.43 627.76Z" fill="#a85a2a" />
<path d="M549.82 628.32 L555.87 625.98 L555.87 627.39 L549.82 629.74Z" fill="#d87a40" />
<path d="M555.87 616.53 L561.91 614.29 L561.91 625.04 L555.87 627.39Z" fill="#ee935a" />
<path d="M556.47 619.24 L558.28 618.02 L558.28 623.86 L556.47 625.42Z" fill="#a85a2a" />
<path d="M555.87 625.98 L561.91 623.64 L561.91 625.04 L555.87 627.39Z" fill="#d87a40" />
<path d="M561.91 614.29 L567.96 612.04 L567.96 622.69 L561.91 625.04Z" fill="#ee935a" />
<path d="M562.52 616.96 L564.33 615.75 L564.33 621.53 L562.52 623.09Z" fill="#a85a2a" />
<path d="M561.91 623.64 L567.96 621.31 L567.96 622.69 L561.91 625.04Z" fill="#d87a40" />
<path d="M567.96 612.04 L574 609.8 L574 620.34 L567.96 622.69Z" fill="#ee935a" />
<path d="M568.56 614.69 L570.37 613.48 L570.37 619.21 L568.56 620.75Z" fill="#a85a2a" />
<path d="M567.96 621.31 L574 618.97 L574 620.34 L567.96 622.69Z" fill="#d87a40" />
<path d="M519.6 641.5 L525.64 639.15 L525.64 650.54 L519.6 653Z" fill="#f2c61c" />
<path d="M520.2 644.37 L522.02 643.08 L522.02 649.27 L520.2 650.92Z" fill="#7e6010" />
<path d="M519.6 651.5 L525.64 649.06 L525.64 650.54 L519.6 653Z" fill="#dcb014" />
<path d="M525.64 639.15 L531.69 636.8 L531.69 648.08 L525.64 650.54Z" fill="#f2c61c" />
<path d="M526.25 641.99 L528.06 640.71 L528.06 646.83 L526.25 648.48Z" fill="#7e6010" />
<path d="M525.64 649.06 L531.69 646.62 L531.69 648.08 L525.64 650.54Z" fill="#dcb014" />
<path d="M531.69 636.8 L537.73 634.45 L537.73 645.63 L531.69 648.08Z" fill="#f2c61c" />
<path d="M532.29 639.61 L534.11 638.33 L534.11 644.4 L532.29 646.03Z" fill="#7e6010" />
<path d="M531.69 646.62 L537.73 644.17 L537.73 645.63 L531.69 648.08Z" fill="#dcb014" />
<path d="M537.73 634.45 L543.78 632.1 L543.78 643.17 L537.73 645.63Z" fill="#f2c61c" />
<path d="M538.34 637.23 L540.15 635.96 L540.15 641.97 L538.34 643.59Z" fill="#7e6010" />
<path d="M537.73 644.17 L543.78 641.73 L543.78 643.17 L537.73 645.63Z" fill="#dcb014" />
<path d="M543.78 632.1 L549.82 629.74 L549.82 640.71 L543.78 643.17Z" fill="#f2c61c" />
<path d="M544.38 634.85 L546.2 633.58 L546.2 639.54 L544.38 641.15Z" fill="#7e6010" />
<path d="M543.78 641.73 L549.82 639.29 L549.82 640.71 L543.78 643.17Z" fill="#dcb014" />
<path d="M549.82 629.74 L555.87 627.39 L555.87 638.25 L549.82 640.71Z" fill="#f2c61c" />
<path d="M550.43 632.47 L552.24 631.21 L552.24 637.11 L550.43 638.71Z" fill="#7e6010" />
<path d="M549.82 639.29 L555.87 636.84 L555.87 638.25 L549.82 640.71Z" fill="#dcb014" />
<path d="M555.87 627.39 L561.91 625.04 L561.91 635.8 L555.87 638.25Z" fill="#f2c61c" />
<path d="M556.47 630.09 L558.28 628.83 L558.28 634.67 L556.47 636.27Z" fill="#7e6010" />
<path d="M555.87 636.84 L561.91 634.4 L561.91 635.8 L555.87 638.25Z" fill="#dcb014" />
<path d="M561.91 625.04 L567.96 622.69 L567.96 633.34 L561.91 635.8Z" fill="#f2c61c" />
<path d="M562.52 627.71 L564.33 626.46 L564.33 632.24 L562.52 633.83Z" fill="#7e6010" />
<path d="M561.91 634.4 L567.96 631.95 L567.96 633.34 L561.91 635.8Z" fill="#dcb014" />
<path d="M567.96 622.69 L574 620.34 L574 630.88 L567.96 633.34Z" fill="#f2c61c" />
<path d="M568.56 625.33 L570.37 624.08 L570.37 629.81 L568.56 631.39Z" fill="#7e6010" />
<path d="M567.96 631.95 L574 629.51 L574 630.88 L567.96 633.34Z" fill="#dcb014" />
<path d="M519.6 653 L525.64 650.54 L525.64 661.94 L519.6 664.5Z" fill="#f2c61c" />
<path d="M520.2 655.86 L522.02 654.54 L522.02 660.72 L520.2 662.41Z" fill="#7e6010" />
<path d="M519.6 663 L525.64 660.45 L525.64 661.94 L519.6 664.5Z" fill="#dcb014" />
<path d="M525.64 650.54 L531.69 648.08 L531.69 659.37 L525.64 661.94Z" fill="#f2c61c" />
<path d="M526.25 653.37 L528.06 652.06 L528.06 658.19 L526.25 659.86Z" fill="#7e6010" />
<path d="M525.64 660.45 L531.69 657.9 L531.69 659.37 L525.64 661.94Z" fill="#dcb014" />
<path d="M531.69 648.08 L537.73 645.63 L537.73 656.81 L531.69 659.37Z" fill="#f2c61c" />
<path d="M532.29 650.88 L534.11 649.58 L534.11 655.65 L532.29 657.31Z" fill="#7e6010" />
<path d="M531.69 657.9 L537.73 655.35 L537.73 656.81 L531.69 659.37Z" fill="#dcb014" />
<path d="M537.73 645.63 L543.78 643.17 L543.78 654.24 L537.73 656.81Z" fill="#f2c61c" />
<path d="M538.34 648.4 L540.15 647.09 L540.15 653.11 L538.34 654.76Z" fill="#7e6010" />
<path d="M537.73 655.35 L543.78 652.8 L543.78 654.24 L537.73 656.81Z" fill="#dcb014" />
<path d="M543.78 643.17 L549.82 640.71 L549.82 651.68 L543.78 654.24Z" fill="#f2c61c" />
<path d="M544.38 645.91 L546.2 644.61 L546.2 650.57 L544.38 652.22Z" fill="#7e6010" />
<path d="M543.78 652.8 L549.82 650.25 L549.82 651.68 L543.78 654.24Z" fill="#dcb014" />
<path d="M549.82 640.71 L555.87 638.25 L555.87 649.11 L549.82 651.68Z" fill="#f2c61c" />
<path d="M550.43 643.42 L552.24 642.13 L552.24 648.03 L550.43 649.67Z" fill="#7e6010" />
<path d="M549.82 650.25 L555.87 647.7 L555.87 649.11 L549.82 651.68Z" fill="#dcb014" />
<path d="M555.87 638.25 L561.91 635.8 L561.91 646.55 L555.87 649.11Z" fill="#f2c61c" />
<path d="M556.47 640.94 L558.28 639.65 L558.28 645.49 L556.47 647.12Z" fill="#7e6010" />
<path d="M555.87 647.7 L561.91 645.15 L561.91 646.55 L555.87 649.11Z" fill="#dcb014" />
<path d="M561.91 635.8 L567.96 633.34 L567.96 643.98 L561.91 646.55Z" fill="#f2c61c" />
<path d="M562.52 638.45 L564.33 637.17 L564.33 642.95 L562.52 644.57Z" fill="#7e6010" />
<path d="M561.91 645.15 L567.96 642.6 L567.96 643.98 L561.91 646.55Z" fill="#dcb014" />
<path d="M567.96 633.34 L574 630.88 L574 641.42 L567.96 643.98Z" fill="#f2c61c" />
<path d="M568.56 635.96 L570.37 634.69 L570.37 640.41 L568.56 642.03Z" fill="#7e6010" />
<path d="M567.96 642.6 L574 640.05 L574 641.42 L567.96 643.98Z" fill="#dcb014" />
<path d="M519.6 664.5 L525.64 661.94 L525.64 673.33 L519.6 676Z" fill="#f2c61c" />
<path d="M520.2 667.35 L522.02 665.99 L522.02 672.18 L520.2 673.89Z" fill="#7e6010" />
<path d="M519.6 674.5 L525.64 671.85 L525.64 673.33 L519.6 676Z" fill="#dcb014" />
<path d="M525.64 661.94 L531.69 659.37 L531.69 670.66 L525.64 673.33Z" fill="#f2c61c" />
<path d="M526.25 664.75 L528.06 663.41 L528.06 669.54 L526.25 671.24Z" fill="#7e6010" />
<path d="M525.64 671.85 L531.69 669.19 L531.69 670.66 L525.64 673.33Z" fill="#dcb014" />
<path d="M531.69 659.37 L537.73 656.81 L537.73 667.99 L531.69 670.66Z" fill="#f2c61c" />
<path d="M532.29 662.16 L534.11 660.82 L534.11 666.89 L532.29 668.59Z" fill="#7e6010" />
<path d="M531.69 669.19 L537.73 666.53 L537.73 667.99 L531.69 670.66Z" fill="#dcb014" />
<path d="M537.73 656.81 L543.78 654.24 L543.78 665.32 L537.73 667.99Z" fill="#f2c61c" />
<path d="M538.34 659.57 L540.15 658.23 L540.15 664.25 L538.34 665.93Z" fill="#7e6010" />
<path d="M537.73 666.53 L543.78 663.88 L543.78 665.32 L537.73 667.99Z" fill="#dcb014" />
<path d="M543.78 654.24 L549.82 651.68 L549.82 662.64 L543.78 665.32Z" fill="#f2c61c" />
<path d="M544.38 656.97 L546.2 655.64 L546.2 661.6 L544.38 663.28Z" fill="#7e6010" />
<path d="M543.78 663.88 L549.82 661.22 L549.82 662.64 L543.78 665.32Z" fill="#dcb014" />
<path d="M549.82 651.68 L555.87 649.11 L555.87 659.97 L549.82 662.64Z" fill="#f2c61c" />
<path d="M550.43 654.38 L552.24 653.06 L552.24 658.95 L550.43 660.62Z" fill="#7e6010" />
<path d="M549.82 661.22 L555.87 658.56 L555.87 659.97 L549.82 662.64Z" fill="#dcb014" />
<path d="M555.87 649.11 L561.91 646.55 L561.91 657.3 L555.87 659.97Z" fill="#f2c61c" />
<path d="M556.47 651.79 L558.28 650.47 L558.28 656.31 L556.47 657.97Z" fill="#7e6010" />
<path d="M555.87 658.56 L561.91 655.9 L561.91 657.3 L555.87 659.97Z" fill="#dcb014" />
<path d="M561.91 646.55 L567.96 643.98 L567.96 654.63 L561.91 657.3Z" fill="#f2c61c" />
<path d="M562.52 649.19 L564.33 647.88 L564.33 653.66 L562.52 655.32Z" fill="#7e6010" />
<path d="M561.91 655.9 L567.96 653.25 L567.96 654.63 L561.91 657.3Z" fill="#dcb014" />
<path d="M567.96 643.98 L574 641.42 L574 651.96 L567.96 654.63Z" fill="#f2c61c" />
<path d="M568.56 646.6 L570.37 645.29 L570.37 651.02 L568.56 652.66Z" fill="#7e6010" />
<path d="M567.96 653.25 L574 650.59 L574 651.96 L567.96 654.63Z" fill="#dcb014" />
<path d="M519.6 676 L525.64 673.33 L525.64 684.72 L519.6 687.5Z" fill="#f2c61c" />
<path d="M520.2 678.84 L522.02 677.45 L522.02 683.64 L520.2 685.38Z" fill="#7e6010" />
<path d="M519.6 686 L525.64 683.24 L525.64 684.72 L519.6 687.5Z" fill="#dcb014" />
<path d="M525.64 673.33 L531.69 670.66 L531.69 681.94 L525.64 684.72Z" fill="#f2c61c" />
<path d="M526.25 676.14 L528.06 674.76 L528.06 680.89 L526.25 682.62Z" fill="#7e6010" />
<path d="M525.64 683.24 L531.69 680.48 L531.69 681.94 L525.64 684.72Z" fill="#dcb014" />
<path d="M531.69 670.66 L537.73 667.99 L537.73 679.17 L531.69 681.94Z" fill="#f2c61c" />
<path d="M532.29 673.44 L534.11 672.06 L534.11 678.13 L532.29 679.86Z" fill="#7e6010" />
<path d="M531.69 680.48 L537.73 677.71 L537.73 679.17 L531.69 681.94Z" fill="#dcb014" />
<path d="M537.73 667.99 L543.78 665.32 L543.78 676.39 L537.73 679.17Z" fill="#f2c61c" />
<path d="M538.34 670.74 L540.15 669.37 L540.15 675.38 L538.34 677.1Z" fill="#7e6010" />
<path d="M537.73 677.71 L543.78 674.95 L543.78 676.39 L537.73 679.17Z" fill="#dcb014" />
<path d="M543.78 665.32 L549.82 662.64 L549.82 673.61 L543.78 676.39Z" fill="#f2c61c" />
<path d="M544.38 668.04 L546.2 666.67 L546.2 672.63 L544.38 674.34Z" fill="#7e6010" />
<path d="M543.78 674.95 L549.82 672.19 L549.82 673.61 L543.78 676.39Z" fill="#dcb014" />
<path d="M549.82 662.64 L555.87 659.97 L555.87 670.83 L549.82 673.61Z" fill="#f2c61c" />
<path d="M550.43 665.34 L552.24 663.98 L552.24 669.88 L550.43 671.58Z" fill="#7e6010" />
<path d="M549.82 672.19 L555.87 669.42 L555.87 670.83 L549.82 673.61Z" fill="#dcb014" />
<path d="M555.87 659.97 L561.91 657.3 L561.91 668.06 L555.87 670.83Z" fill="#f2c61c" />
<path d="M556.47 662.64 L558.28 661.28 L558.28 667.13 L556.47 668.82Z" fill="#7e6010" />
<path d="M555.87 669.42 L561.91 666.66 L561.91 668.06 L555.87 670.83Z" fill="#dcb014" />
<path d="M561.91 657.3 L567.96 654.63 L567.96 665.28 L561.91 668.06Z" fill="#f2c61c" />
<path d="M562.52 659.94 L564.33 658.59 L564.33 664.37 L562.52 666.06Z" fill="#7e6010" />
<path d="M561.91 666.66 L567.96 663.89 L567.96 665.28 L561.91 668.06Z" fill="#dcb014" />
<path d="M567.96 654.63 L574 651.96 L574 662.5 L567.96 665.28Z" fill="#f2c61c" />
<path d="M568.56 657.24 L570.37 655.9 L570.37 661.62 L568.56 663.3Z" fill="#7e6010" />
<path d="M567.96 663.89 L574 661.13 L574 662.5 L567.96 665.28Z" fill="#dcb014" />
</g>
<text x="438.2" y="708.6" font-size="22.5" text-anchor="middle" fill="#111" >High Azo content</text>
<g filter="url(#soft1)">
<path d="M330.8 755.5 L515.7 755.5 L569 732 L380.7 729.2Z" fill="#eea672" stroke="#eea672" stroke-width=".6"/>
<path d="M330.8 755.5 L515.7 755.5 L515.7 811.2 L327.4 809.5Z" fill="#c8a414" stroke="#c8a414" stroke-width=".6"/>
<path d="M515.7 755.5 L569 732 L568.5 784.5 L515.7 811.2Z" fill="#e6b81c" stroke="#e6b81c" stroke-width=".6"/>
<path d="M330.8 755.5 L515.7 755.5 L521.62 752.89 L336.34 752.58Z" fill="#f3b68a" />
<path d="M330.8 755.5 L515.7 755.5 L517.77 754.59 L332.74 754.48Z" fill="#e6965e" />
<path d="M336.34 752.58 L521.62 752.89 L527.54 750.28 L341.89 749.66Z" fill="#f3b68a" />
<path d="M336.34 752.58 L521.62 752.89 L523.7 751.98 L338.29 751.56Z" fill="#e6965e" />
<path d="M341.89 749.66 L527.54 750.28 L533.47 747.67 L347.43 746.73Z" fill="#f3b68a" />
<path d="M341.89 749.66 L527.54 750.28 L529.62 749.36 L343.83 748.63Z" fill="#e6965e" />
<path d="M347.43 746.73 L533.47 747.67 L539.39 745.06 L352.98 743.81Z" fill="#f3b68a" />
<path d="M347.43 746.73 L533.47 747.67 L535.54 746.75 L349.37 745.71Z" fill="#e6965e" />
<path d="M352.98 743.81 L539.39 745.06 L545.31 742.44 L358.52 740.89Z" fill="#f3b68a" />
<path d="M352.98 743.81 L539.39 745.06 L541.46 744.14 L354.92 742.79Z" fill="#e6965e" />
<path d="M358.52 740.89 L545.31 742.44 L551.23 739.83 L364.07 737.97Z" fill="#f3b68a" />
<path d="M358.52 740.89 L545.31 742.44 L547.38 741.53 L360.46 739.87Z" fill="#e6965e" />
<path d="M364.07 737.97 L551.23 739.83 L557.16 737.22 L369.61 735.04Z" fill="#f3b68a" />
<path d="M364.07 737.97 L551.23 739.83 L553.31 738.92 L366.01 736.94Z" fill="#e6965e" />
<path d="M369.61 735.04 L557.16 737.22 L563.08 734.61 L375.16 732.12Z" fill="#f3b68a" />
<path d="M369.61 735.04 L557.16 737.22 L559.23 736.31 L371.55 734.02Z" fill="#e6965e" />
<path d="M375.16 732.12 L563.08 734.61 L569 732 L380.7 729.2Z" fill="#f3b68a" />
<path d="M375.16 732.12 L563.08 734.61 L565.15 733.7 L377.1 731.1Z" fill="#e6965e" />
<path d="M330.8 755.5 L515.7 755.5 L515.7 766.64 L330.12 766.3Z" fill="url(#rodO)" />
<path d="M330.12 766.3 L356.1 766.35 L355.52 777.2 L329.44 777.1Z" fill="url(#rodO)" />
<path d="M356.1 766.35 L373.73 766.38 L373.21 777.26 L355.52 777.2Z" fill="url(#rodY)" />
<path d="M373.73 766.38 L395.07 766.42 L394.63 777.34 L373.21 777.26Z" fill="url(#rodO)" />
<path d="M395.07 766.42 L410.85 766.45 L410.46 777.4 L394.63 777.34Z" fill="url(#rodY)" />
<path d="M410.85 766.45 L428.48 766.48 L428.16 777.46 L410.46 777.4Z" fill="url(#rodO)" />
<path d="M428.48 766.48 L454.46 766.53 L454.23 777.56 L428.16 777.46Z" fill="url(#rodY)" />
<path d="M454.46 766.53 L477.66 766.57 L477.52 777.64 L454.23 777.56Z" fill="url(#rodO)" />
<path d="M477.66 766.57 L493.43 766.6 L493.35 777.7 L477.52 777.64Z" fill="url(#rodY)" />
<path d="M493.43 766.6 L515.7 766.64 L515.7 777.78 L493.35 777.7Z" fill="url(#rodO)" />
<path d="M329.44 777.1 L515.7 777.78 L515.7 788.92 L328.76 787.9Z" fill="url(#rodY)" />
<path d="M328.76 787.9 L515.7 788.92 L515.7 800.06 L328.08 798.7Z" fill="url(#rodY)" />
<path d="M328.08 798.7 L515.7 800.06 L515.7 811.2 L327.4 809.5Z" fill="url(#rodY)" />
<path d="M515.7 755.5 L521.62 752.89 L521.61 763.96 L515.7 766.64Z" fill="#ee935a" />
<path d="M516.29 758.24 L518.07 756.9 L518.07 762.9 L516.29 764.59Z" fill="#a85a2a" />
<path d="M515.7 765.19 L521.61 762.52 L521.61 763.96 L515.7 766.64Z" fill="#d87a40" />
<path d="M521.62 752.89 L527.54 750.28 L527.52 761.28 L521.61 763.96Z" fill="#ee935a" />
<path d="M522.21 755.61 L523.99 754.27 L523.98 760.24 L522.2 761.92Z" fill="#a85a2a" />
<path d="M521.61 762.52 L527.53 759.85 L527.52 761.28 L521.61 763.96Z" fill="#d87a40" />
<path d="M527.54 750.28 L533.47 747.67 L533.43 758.59 L527.52 761.28Z" fill="#ee935a" />
<path d="M528.13 752.98 L529.91 751.65 L529.89 757.57 L528.12 759.25Z" fill="#a85a2a" />
<path d="M527.53 759.85 L533.44 757.17 L533.43 758.59 L527.52 761.28Z" fill="#d87a40" />
<path d="M533.47 747.67 L539.39 745.06 L539.34 755.91 L533.43 758.59Z" fill="#ee935a" />
<path d="M534.05 750.35 L535.83 749.02 L535.81 754.9 L534.03 756.58Z" fill="#a85a2a" />
<path d="M533.44 757.17 L539.35 754.5 L539.34 755.91 L533.43 758.59Z" fill="#d87a40" />
<path d="M539.39 745.06 L545.31 742.44 L545.26 753.23 L539.34 755.91Z" fill="#ee935a" />
<path d="M539.97 747.72 L541.75 746.39 L541.72 752.24 L539.94 753.91Z" fill="#a85a2a" />
<path d="M539.35 754.5 L545.26 751.83 L545.26 753.23 L539.34 755.91Z" fill="#d87a40" />
<path d="M545.31 742.44 L551.23 739.83 L551.17 750.55 L545.26 753.23Z" fill="#ee935a" />
<path d="M545.89 745.09 L547.67 743.77 L547.63 749.57 L545.86 751.24Z" fill="#a85a2a" />
<path d="M545.26 751.83 L551.18 749.15 L551.17 750.55 L545.26 753.23Z" fill="#d87a40" />
<path d="M551.23 739.83 L557.16 737.22 L557.08 747.86 L551.17 750.55Z" fill="#ee935a" />
<path d="M551.81 742.46 L553.59 741.14 L553.55 746.91 L551.77 748.57Z" fill="#a85a2a" />
<path d="M551.18 749.15 L557.09 746.48 L557.08 747.86 L551.17 750.55Z" fill="#d87a40" />
<path d="M557.16 737.22 L563.08 734.61 L562.99 745.18 L557.08 747.86Z" fill="#ee935a" />
<path d="M557.73 739.83 L559.51 738.51 L559.46 744.24 L557.68 745.89Z" fill="#a85a2a" />
<path d="M557.09 746.48 L563 743.81 L562.99 745.18 L557.08 747.86Z" fill="#d87a40" />
<path d="M563.08 734.61 L569 732 L568.9 742.5 L562.99 745.18Z" fill="#ee935a" />
<path d="M563.65 737.2 L565.43 735.89 L565.38 741.58 L563.59 743.22Z" fill="#a85a2a" />
<path d="M563 743.81 L568.91 741.13 L568.9 742.5 L562.99 745.18Z" fill="#d87a40" />
<path d="M515.7 766.64 L521.61 763.96 L521.6 775.03 L515.7 777.78Z" fill="#f2c61c" />
<path d="M516.29 769.38 L518.06 768.01 L518.06 774.01 L516.29 775.72Z" fill="#7e6010" />
<path d="M515.7 776.33 L521.6 773.59 L521.6 775.03 L515.7 777.78Z" fill="#dcb014" />
<path d="M521.61 763.96 L527.52 761.28 L527.5 772.27 L521.6 775.03Z" fill="#ee935a" />
<path d="M522.2 766.68 L523.97 765.31 L523.96 771.28 L522.19 772.98Z" fill="#a85a2a" />
<path d="M521.6 773.59 L527.5 770.84 L527.5 772.27 L521.6 775.03Z" fill="#d87a40" />
<path d="M527.52 761.28 L533.43 758.59 L533.4 769.52 L527.5 772.27Z" fill="#f2c61c" />
<path d="M528.11 763.97 L529.88 762.62 L529.87 768.54 L528.09 770.24Z" fill="#7e6010" />
<path d="M527.5 770.84 L533.4 768.1 L533.4 769.52 L527.5 772.27Z" fill="#dcb014" />
<path d="M533.43 758.59 L539.34 755.91 L539.3 766.77 L533.4 769.52Z" fill="#ee935a" />
<path d="M534.02 761.27 L535.79 759.92 L535.77 765.8 L534 767.5Z" fill="#a85a2a" />
<path d="M533.4 768.1 L539.31 765.36 L539.3 766.77 L533.4 769.52Z" fill="#d87a40" />
<path d="M539.34 755.91 L545.26 753.23 L545.2 764.01 L539.3 766.77Z" fill="#f2c61c" />
<path d="M539.92 758.57 L541.7 757.22 L541.67 763.07 L539.9 764.76Z" fill="#7e6010" />
<path d="M539.31 765.36 L545.21 762.61 L545.2 764.01 L539.3 766.77Z" fill="#dcb014" />
<path d="M545.26 753.23 L551.17 750.55 L551.1 761.26 L545.2 764.01Z" fill="#ee935a" />
<path d="M545.83 755.87 L547.61 754.52 L547.57 760.33 L545.8 762.01Z" fill="#a85a2a" />
<path d="M545.21 762.61 L551.11 759.87 L551.1 761.26 L545.2 764.01Z" fill="#d87a40" />
<path d="M551.17 750.55 L557.08 747.86 L557 758.51 L551.1 761.26Z" fill="#f2c61c" />
<path d="M551.74 753.17 L553.52 751.82 L553.48 757.59 L551.7 759.27Z" fill="#7e6010" />
<path d="M551.11 759.87 L557.01 757.12 L557 758.51 L551.1 761.26Z" fill="#dcb014" />
<path d="M557.08 747.86 L562.99 745.18 L562.9 755.75 L557 758.51Z" fill="#ee935a" />
<path d="M557.65 750.47 L559.42 749.13 L559.38 754.86 L557.6 756.53Z" fill="#a85a2a" />
<path d="M557.01 757.12 L562.91 754.38 L562.9 755.75 L557 758.51Z" fill="#d87a40" />
<path d="M562.99 745.18 L568.9 742.5 L568.8 753 L562.9 755.75Z" fill="#ee935a" />
<path d="M563.56 747.77 L565.33 746.43 L565.28 752.12 L563.5 753.79Z" fill="#a85a2a" />
<path d="M562.91 754.38 L568.81 751.63 L568.8 753 L562.9 755.75Z" fill="#d87a40" />
<path d="M515.7 777.78 L521.6 775.03 L521.59 786.1 L515.7 788.92Z" fill="#f2c61c" />
<path d="M516.29 780.51 L518.06 779.12 L518.06 785.12 L516.29 786.86Z" fill="#7e6010" />
<path d="M515.7 787.47 L521.59 784.66 L521.59 786.1 L515.7 788.92Z" fill="#dcb014" />
<path d="M521.6 775.03 L527.5 772.27 L527.48 783.27 L521.59 786.1Z" fill="#f2c61c" />
<path d="M522.19 777.74 L523.96 776.35 L523.95 782.32 L522.18 784.04Z" fill="#7e6010" />
<path d="M521.59 784.66 L527.48 781.84 L527.48 783.27 L521.59 786.1Z" fill="#dcb014" />
<path d="M527.5 772.27 L533.4 769.52 L533.37 780.45 L527.48 783.27Z" fill="#f2c61c" />
<path d="M528.08 774.97 L529.85 773.59 L529.84 779.51 L528.07 781.23Z" fill="#7e6010" />
<path d="M527.48 781.84 L533.37 779.03 L533.37 780.45 L527.48 783.27Z" fill="#dcb014" />
<path d="M533.4 769.52 L539.3 766.77 L539.26 777.62 L533.37 780.45Z" fill="#f2c61c" />
<path d="M533.98 772.19 L535.75 770.82 L535.73 776.7 L533.96 778.42Z" fill="#7e6010" />
<path d="M533.37 779.03 L539.26 776.21 L539.26 777.62 L533.37 780.45Z" fill="#dcb014" />
<path d="M539.3 766.77 L545.2 764.01 L545.14 774.8 L539.26 777.62Z" fill="#f2c61c" />
<path d="M539.88 769.42 L541.65 768.05 L541.62 773.89 L539.85 775.6Z" fill="#7e6010" />
<path d="M539.26 776.21 L545.15 773.4 L545.14 774.8 L539.26 777.62Z" fill="#dcb014" />
<path d="M545.2 764.01 L551.1 761.26 L551.03 771.97 L545.14 774.8Z" fill="#f2c61c" />
<path d="M545.77 766.65 L547.55 765.28 L547.51 771.09 L545.74 772.79Z" fill="#7e6010" />
<path d="M545.15 773.4 L551.04 770.58 L551.03 771.97 L545.14 774.8Z" fill="#dcb014" />
<path d="M551.1 761.26 L557 758.51 L556.92 769.15 L551.03 771.97Z" fill="#f2c61c" />
<path d="M551.67 763.88 L553.44 762.51 L553.41 768.28 L551.63 769.98Z" fill="#7e6010" />
<path d="M551.04 770.58 L556.93 767.77 L556.92 769.15 L551.03 771.97Z" fill="#dcb014" />
<path d="M557 758.51 L562.9 755.75 L562.81 766.32 L556.92 769.15Z" fill="#f2c61c" />
<path d="M557.57 761.1 L559.34 759.74 L559.3 765.47 L557.52 767.16Z" fill="#7e6010" />
<path d="M556.93 767.77 L562.82 764.95 L562.81 766.32 L556.92 769.15Z" fill="#dcb014" />
<path d="M562.9 755.75 L568.8 753 L568.7 763.5 L562.81 766.32Z" fill="#f2c61c" />
<path d="M563.47 758.33 L565.24 756.97 L565.19 762.66 L563.41 764.35Z" fill="#7e6010" />
<path d="M562.82 764.95 L568.71 762.13 L568.7 763.5 L562.81 766.32Z" fill="#dcb014" />
<path d="M515.7 788.92 L521.59 786.1 L521.58 797.16 L515.7 800.06Z" fill="#f2c61c" />
<path d="M516.29 791.64 L518.05 790.23 L518.05 796.24 L516.29 797.99Z" fill="#7e6010" />
<path d="M515.7 798.61 L521.58 795.73 L521.58 797.16 L515.7 800.06Z" fill="#dcb014" />
<path d="M521.59 786.1 L527.48 783.27 L527.46 794.27 L521.58 797.16Z" fill="#f2c61c" />
<path d="M522.17 788.8 L523.94 787.39 L523.93 793.36 L522.17 795.11Z" fill="#7e6010" />
<path d="M521.58 795.73 L527.46 792.84 L527.46 794.27 L521.58 797.16Z" fill="#dcb014" />
<path d="M527.48 783.27 L533.37 780.45 L533.33 791.37 L527.46 794.27Z" fill="#f2c61c" />
<path d="M528.06 785.96 L529.83 784.55 L529.81 790.48 L528.05 792.22Z" fill="#7e6010" />
<path d="M527.46 792.84 L533.34 789.95 L533.33 791.37 L527.46 794.27Z" fill="#dcb014" />
<path d="M533.37 780.45 L539.26 777.62 L539.21 788.48 L533.33 791.37Z" fill="#f2c61c" />
<path d="M533.95 783.11 L535.71 781.71 L535.69 787.6 L533.93 789.34Z" fill="#7e6010" />
<path d="M533.34 789.95 L539.22 787.07 L539.21 788.48 L533.33 791.37Z" fill="#dcb014" />
<path d="M539.26 777.62 L545.14 774.8 L545.09 785.58 L539.21 788.48Z" fill="#f2c61c" />
<path d="M539.83 780.27 L541.6 778.87 L541.57 784.72 L539.81 786.45Z" fill="#7e6010" />
<path d="M539.22 787.07 L545.1 784.18 L545.09 785.58 L539.21 788.48Z" fill="#dcb014" />
<path d="M545.14 774.8 L551.03 771.97 L550.97 782.69 L545.09 785.58Z" fill="#f2c61c" />
<path d="M545.72 777.43 L547.49 776.03 L547.45 781.84 L545.69 783.57Z" fill="#7e6010" />
<path d="M545.1 784.18 L550.98 781.29 L550.97 782.69 L545.09 785.58Z" fill="#dcb014" />
<path d="M551.03 771.97 L556.92 769.15 L556.84 779.79 L550.97 782.69Z" fill="#f2c61c" />
<path d="M551.6 774.58 L553.37 773.19 L553.33 778.96 L551.57 780.68Z" fill="#7e6010" />
<path d="M550.98 781.29 L556.85 778.41 L556.84 779.79 L550.97 782.69Z" fill="#dcb014" />
<path d="M556.92 769.15 L562.81 766.32 L562.72 776.9 L556.84 779.79Z" fill="#f2c61c" />
<path d="M557.49 771.74 L559.26 770.35 L559.22 776.09 L557.44 777.8Z" fill="#7e6010" />
<path d="M556.85 778.41 L562.73 775.52 L562.72 776.9 L556.84 779.79Z" fill="#dcb014" />
<path d="M562.81 766.32 L568.7 763.5 L568.6 774 L562.72 776.9Z" fill="#f2c61c" />
<path d="M563.38 768.89 L565.15 767.51 L565.1 773.21 L563.32 774.92Z" fill="#7e6010" />
<path d="M562.73 775.52 L568.61 772.63 L568.6 774 L562.72 776.9Z" fill="#dcb014" />
<path d="M515.7 800.06 L521.58 797.16 L521.57 808.23 L515.7 811.2Z" fill="#f2c61c" />
<path d="M516.29 802.78 L518.05 801.35 L518.05 807.35 L516.29 809.12Z" fill="#7e6010" />
<path d="M515.7 809.75 L521.57 806.79 L521.57 808.23 L515.7 811.2Z" fill="#dcb014" />
<path d="M521.58 797.16 L527.46 794.27 L527.43 805.27 L521.57 808.23Z" fill="#f2c61c" />
<path d="M522.16 799.86 L523.93 798.44 L523.92 804.4 L522.16 806.17Z" fill="#7e6010" />
<path d="M521.57 806.79 L527.44 803.84 L527.43 805.27 L521.57 808.23Z" fill="#dcb014" />
<path d="M527.46 794.27 L533.33 791.37 L533.3 802.3 L527.43 805.27Z" fill="#f2c61c" />
<path d="M528.04 796.95 L529.8 795.52 L529.79 801.45 L528.02 803.21Z" fill="#7e6010" />
<path d="M527.44 803.84 L533.3 800.88 L533.3 802.3 L527.43 805.27Z" fill="#dcb014" />
<path d="M533.33 791.37 L539.21 788.48 L539.17 799.33 L533.3 802.3Z" fill="#f2c61c" />
<path d="M533.91 794.03 L535.68 792.61 L535.66 798.5 L533.89 800.26Z" fill="#7e6010" />
<path d="M533.3 800.88 L539.17 797.92 L539.17 799.33 L533.3 802.3Z" fill="#dcb014" />
<path d="M539.21 788.48 L545.09 785.58 L545.03 796.37 L539.17 799.33Z" fill="#f2c61c" />
<path d="M539.79 791.12 L541.55 789.7 L541.53 795.55 L539.76 797.3Z" fill="#7e6010" />
<path d="M539.17 797.92 L545.04 794.96 L545.03 796.37 L539.17 799.33Z" fill="#dcb014" />
<path d="M545.09 785.58 L550.97 782.69 L550.9 793.4 L545.03 796.37Z" fill="#f2c61c" />
<path d="M545.66 788.2 L547.43 786.79 L547.39 792.6 L545.63 794.35Z" fill="#7e6010" />
<path d="M545.04 794.96 L550.91 792.01 L550.9 793.4 L545.03 796.37Z" fill="#dcb014" />
<path d="M550.97 782.69 L556.84 779.79 L556.77 790.43 L550.9 793.4Z" fill="#f2c61c" />
<path d="M551.54 785.29 L553.3 783.88 L553.26 789.65 L551.5 791.39Z" fill="#7e6010" />
<path d="M550.91 792.01 L556.78 789.05 L556.77 790.43 L550.9 793.4Z" fill="#dcb014" />
<path d="M556.84 779.79 L562.72 776.9 L562.63 787.47 L556.77 790.43Z" fill="#f2c61c" />
<path d="M557.41 782.37 L559.18 780.97 L559.13 786.7 L557.37 788.44Z" fill="#7e6010" />
<path d="M556.78 789.05 L562.64 786.09 L562.63 787.47 L556.77 790.43Z" fill="#dcb014" />
<path d="M562.72 776.9 L568.6 774 L568.5 784.5 L562.63 787.47Z" fill="#f2c61c" />
<path d="M563.29 779.46 L565.05 778.06 L565 783.75 L563.23 785.48Z" fill="#7e6010" />
<path d="M562.64 786.09 L568.51 783.13 L568.5 784.5 L562.63 787.47Z" fill="#dcb014" />
</g>
<text x="434" y="837" font-size="22.5" text-anchor="middle" fill="#111" >Low Azo content</text>
<rect x="527" y="604" width="22.3" height="12" fill="none" stroke="#1c2c5c" stroke-width="1.9" stroke-dasharray="5 2.4"/>
<line x1="549.5" y1="607.2" x2="577" y2="605.6" stroke="#111" stroke-width="2" />
<path d="M582.49 605.28 L575.69 608.88 L575.32 602.49Z" fill="#111"/>
<rect x="525" y="726.8" width="20.5" height="12.5" fill="none" stroke="#1c2c5c" stroke-width="1.9" stroke-dasharray="5 2.4"/>
<line x1="545.6" y1="731.2" x2="573" y2="726" stroke="#111" stroke-width="2" />
<path d="M578.4 724.97 L572.12 729.42 L570.93 723.14Z" fill="#111"/>
<g filter="url(#soft)"><rect x="585" y="571" width="227" height="107.5" rx="11" fill="url(#boxH)"/><rect x="585" y="571" width="227" height="107.5" rx="11" fill="url(#boxHx)"/></g>
<g filter="url(#soft1)">
<path d="M585.75 593.79 C587.03 594.41 590.1 596.56 593.43 597.48 C596.76 598.4 601.11 600.04 605.72 599.32 C610.33 598.61 616.22 594.61 621.08 593.18 C625.95 591.75 629.79 590.62 634.91 590.72 C640.03 590.82 646.94 592.51 651.8 593.79 C656.67 595.07 658.97 597.48 664.09 598.4 C669.21 599.32 677.41 598.66 682.53 599.32 C687.65 599.99 691.33 601.27 694.82 602.4 C698.3 603.52 700.09 606.75 703.42 606.08 C706.75 605.42 710.59 600.91 714.78 598.4 C718.98 595.89 723.23 592.46 728.61 591.03 C733.99 589.6 741.92 590.06 747.04 589.8 C752.16 589.54 754.83 589.08 759.33 589.49 C763.84 589.9 768.96 592.05 774.08 592.26 C779.2 592.46 786.37 591.69 790.05 590.72 C793.74 589.75 793.89 587.34 796.2 586.42 C798.5 585.5 801.57 584.73 803.88 585.19 C806.18 585.65 809 588.52 810.02 589.19" fill="none" stroke="#2a3850" stroke-width="1.5"/>
<path d="M585.75 655.24 C587.54 654.52 592.67 651.96 596.51 650.94 C600.35 649.91 604.7 648.89 608.79 649.09 C612.89 649.3 617.5 651.4 621.08 652.17 C624.67 652.93 627.33 654.47 630.3 653.7 C633.27 652.93 635.83 647.56 638.9 647.56 C641.97 647.56 645.81 652.93 648.73 653.7 C651.65 654.47 653.85 652.93 656.41 652.17 C658.97 651.4 661.28 649.35 664.09 649.09 C666.91 648.84 669.73 649.2 673.31 650.63 C676.89 652.06 680.22 656.52 685.6 657.7 C690.98 658.87 699.42 657.85 705.57 657.7 C711.71 657.54 718.11 656.36 722.47 656.77 C726.82 657.18 727.59 659.9 731.68 660.15 C735.78 660.41 742.43 658.52 747.04 658.31 C751.65 658.11 755.49 658.16 759.33 658.92 C763.17 659.69 766.24 663.79 770.08 662.92 C773.92 662.05 779.05 655.49 782.37 653.7 C785.7 651.91 787.75 651.91 790.05 652.17 C792.36 652.42 793.89 654.98 796.2 655.24 C798.5 655.49 801.57 654.52 803.88 653.7 C806.18 652.88 809 650.89 810.02 650.32" fill="none" stroke="#2a3850" stroke-width="1.5"/>
<rect x="628.8" y="573.8" width="34.7" height="13.8" fill="url(#gGr)" stroke="#4c4c4c" stroke-width="1"/>
<ellipse cx="634.9" cy="591.3" rx="14.8" ry="6.1" fill="url(#gYe)" stroke="#c89a00" stroke-width=".8"/>
<ellipse cx="697.5" cy="602.8" rx="11" ry="4.4" transform="rotate(37 697.5 602.8)" fill="url(#gOr)" stroke="#8a4410" stroke-width="1"/><ellipse cx="710" cy="601.7" rx="11" ry="4.4" transform="rotate(-44 710 601.7)" fill="url(#gOr)" stroke="#8a4410" stroke-width="1"/>
<ellipse cx="774" cy="592.9" rx="14.8" ry="6.1" fill="url(#gYe)" stroke="#c89a00" stroke-width=".8"/>
<circle cx="754.7" cy="588.6" r="6.1" fill="url(#sR)"/>
<circle cx="645.4" cy="614.7" r="3.5" fill="url(#sG)"/>
<circle cx="635.8" cy="614.4" r="6.3" fill="url(#sR)"/>
<rect x="656.4" y="619" width="16.9" height="14.1" fill="url(#gBl)" stroke="#2f5597" stroke-width="1"/><rect x="673.3" y="619" width="17.8" height="14.1" fill="url(#gRd)" stroke="#9a0c0c" stroke-width="1"/>
<circle cx="707.1" cy="620.8" r="3.5" fill="url(#sG)"/>
<circle cx="697.9" cy="620.5" r="6.3" fill="url(#sR)"/>
<rect x="756.9" y="608.5" width="17.2" height="14.5" fill="url(#gBl)" stroke="#2f5597" stroke-width="1"/><rect x="774.1" y="608.5" width="17.5" height="14.5" fill="url(#gRd)" stroke="#9a0c0c" stroke-width="1"/>
<rect x="595" y="626" width="33.8" height="13.3" fill="url(#gGr)" stroke="#4c4c4c" stroke-width="1"/>
<ellipse cx="633" cy="648.9" rx="11" ry="4.4" transform="rotate(-37 633 648.9)" fill="url(#gOr)" stroke="#8a4410" stroke-width="1"/><ellipse cx="645.5" cy="650" rx="11" ry="4.4" transform="rotate(44 645.5 650)" fill="url(#gOr)" stroke="#8a4410" stroke-width="1"/>
<ellipse cx="705.6" cy="657.7" rx="14.8" ry="6.1" fill="url(#gYe)" stroke="#c89a00" stroke-width=".8"/>
<ellipse cx="764.2" cy="660.1" rx="11" ry="4.4" transform="rotate(37 764.2 660.1)" fill="url(#gOr)" stroke="#8a4410" stroke-width="1"/><ellipse cx="776.7" cy="659" rx="11" ry="4.4" transform="rotate(-44 776.7 659)" fill="url(#gOr)" stroke="#8a4410" stroke-width="1"/>
<circle cx="733.8" cy="648.5" r="3.5" fill="url(#sG)"/>
<rect x="735.4" y="644.5" width="33.8" height="13.2" fill="url(#gGr)" stroke="#4c4c4c" stroke-width="1"/>
<circle cx="723.4" cy="647.6" r="6.3" fill="url(#sR)"/>
<circle cx="638.1" cy="668.5" r="3.5" fill="url(#sG)"/>
<rect x="642.6" y="661.4" width="16.9" height="13.8" fill="url(#gBl)" stroke="#2f5597" stroke-width="1"/><rect x="659.5" y="661.4" width="16.9" height="13.8" fill="url(#gRd)" stroke="#9a0c0c" stroke-width="1"/>
<circle cx="628.8" cy="668.1" r="6.3" fill="url(#sR)"/>
</g>
<g filter="url(#soft)"><rect x="585.5" y="712" width="227" height="105.5" rx="11" fill="#f7c1a0"/></g>
<g filter="url(#soft1)">
<path d="M585.37 733.92 C587.11 734.84 591.88 738.2 595.78 739.45 C599.69 740.69 604.73 741.51 608.8 741.4 C612.86 741.29 616.66 738.42 620.18 738.8 C623.71 739.18 625.44 742.32 629.94 743.68 C634.44 745.03 641.49 747.74 647.18 746.93 C652.88 746.12 659.11 739.34 664.1 738.8 C669.09 738.25 671.69 742.48 677.11 743.68 C682.53 744.87 690.67 746.22 696.63 745.95 C702.59 745.68 708.56 744.33 712.9 742.05 C717.23 739.77 718.59 735.81 722.65 732.29 C726.72 728.77 732.41 720.9 737.29 720.9 C742.17 720.9 746.78 728.87 751.93 732.29 C757.08 735.71 762.23 740.31 768.2 741.4 C774.16 742.48 782.29 740.04 787.72 738.8 C793.14 737.55 796.93 735.81 800.73 733.92 C804.52 732.02 808.86 728.49 810.49 727.41" fill="none" stroke="#2a3850" stroke-width="1.5"/>
<path d="M585.37 795.73 C587.11 795.02 591.34 792.42 595.78 791.5 C600.23 790.57 606.09 790.57 612.05 790.2 C618.01 789.82 625.6 788.68 631.57 789.22 C637.53 789.76 642.68 794.26 647.83 793.45 C652.98 792.64 657.59 784.23 662.47 784.34 C667.35 784.45 673.04 793.56 677.11 794.1 C681.18 794.64 683.08 788.95 686.87 787.59 C690.67 786.24 695 785.97 699.88 785.97 C704.76 785.97 711.27 787.32 716.15 787.59 C721.03 787.86 724.82 786.24 729.16 787.59 C733.5 788.95 737.94 793.01 742.17 795.73 C746.4 798.44 750.2 803.86 754.53 803.86 C758.87 803.86 763.75 797.62 768.2 795.73 C772.64 793.83 776.87 792.2 781.21 792.47 C785.55 792.74 790.43 797.08 794.22 797.35 C798.02 797.62 801.27 795.29 803.98 794.1 C806.69 792.91 809.4 790.85 810.49 790.2" fill="none" stroke="#2a3850" stroke-width="1.5"/>
<rect x="628.3" y="714.4" width="34.2" height="13.6" fill="url(#gGr)" stroke="#4c4c4c" stroke-width="1"/>
<ellipse cx="641.3" cy="740.2" rx="11" ry="4.4" transform="rotate(37 641.3 740.2)" fill="url(#gOr)" stroke="#8a4410" stroke-width="1"/><ellipse cx="653.8" cy="739.1" rx="11" ry="4.4" transform="rotate(-44 653.8 739.1)" fill="url(#gOr)" stroke="#8a4410" stroke-width="1"/>
<ellipse cx="731.4" cy="727" rx="11" ry="4.4" transform="rotate(-37 731.4 727)" fill="url(#gOr)" stroke="#8a4410" stroke-width="1"/><ellipse cx="743.9" cy="728.1" rx="11" ry="4.4" transform="rotate(44 743.9 728.1)" fill="url(#gOr)" stroke="#8a4410" stroke-width="1"/>
<circle cx="763.2" cy="742" r="3.5" fill="url(#sG)"/>
<circle cx="753.6" cy="741.4" r="6.3" fill="url(#sR)"/>
<circle cx="640.5" cy="751.5" r="3" fill="url(#sG)"/>
<rect x="638.7" y="753.4" width="16.3" height="14.6" fill="url(#gBl)" stroke="#2f5597" stroke-width="1"/><rect x="655" y="753.4" width="18.2" height="14.6" fill="url(#gRd)" stroke="#9a0c0c" stroke-width="1"/>
<circle cx="630" cy="753.4" r="6.3" fill="url(#sR)"/>
<rect x="688.5" y="750.2" width="16.9" height="14.6" fill="url(#gBl)" stroke="#2f5597" stroke-width="1"/><rect x="705.4" y="750.2" width="17.3" height="14.6" fill="url(#gRd)" stroke="#9a0c0c" stroke-width="1"/>
<rect x="756.8" y="748.6" width="17.2" height="14.6" fill="url(#gBl)" stroke="#2f5597" stroke-width="1"/><rect x="774" y="748.6" width="17.6" height="14.6" fill="url(#gRd)" stroke="#9a0c0c" stroke-width="1"/>
<circle cx="725" cy="770.4" r="3.5" fill="url(#sG)"/>
<circle cx="715.2" cy="769.7" r="6.3" fill="url(#sR)"/>
<rect x="734.7" y="773" width="33.5" height="14" fill="url(#gGr)" stroke="#4c4c4c" stroke-width="1"/>
<ellipse cx="656.6" cy="788.8" rx="11" ry="4.4" transform="rotate(-37 656.6 788.8)" fill="url(#gOr)" stroke="#8a4410" stroke-width="1"/><ellipse cx="669.1" cy="789.9" rx="11" ry="4.4" transform="rotate(44 669.1 789.9)" fill="url(#gOr)" stroke="#8a4410" stroke-width="1"/>
<ellipse cx="748.6" cy="799.8" rx="11" ry="4.4" transform="rotate(37 748.6 799.8)" fill="url(#gOr)" stroke="#8a4410" stroke-width="1"/><ellipse cx="761.1" cy="798.7" rx="11" ry="4.4" transform="rotate(-44 761.1 798.7)" fill="url(#gOr)" stroke="#8a4410" stroke-width="1"/>
<circle cx="621.5" cy="802.2" r="3.5" fill="url(#sG)"/>
<circle cx="612" cy="801.6" r="6.3" fill="url(#sR)"/>
<rect x="641.3" y="801.3" width="17.3" height="14.7" fill="url(#gBl)" stroke="#2f5597" stroke-width="1"/><rect x="658.6" y="801.3" width="17.9" height="14.7" fill="url(#gRd)" stroke="#9a0c0c" stroke-width="1"/>
<circle cx="701.2" cy="806.5" r="3.5" fill="url(#sG)"/>
<circle cx="691.8" cy="806.5" r="6.3" fill="url(#sR)"/>
</g>
</g>
</svg>
</body></html>
